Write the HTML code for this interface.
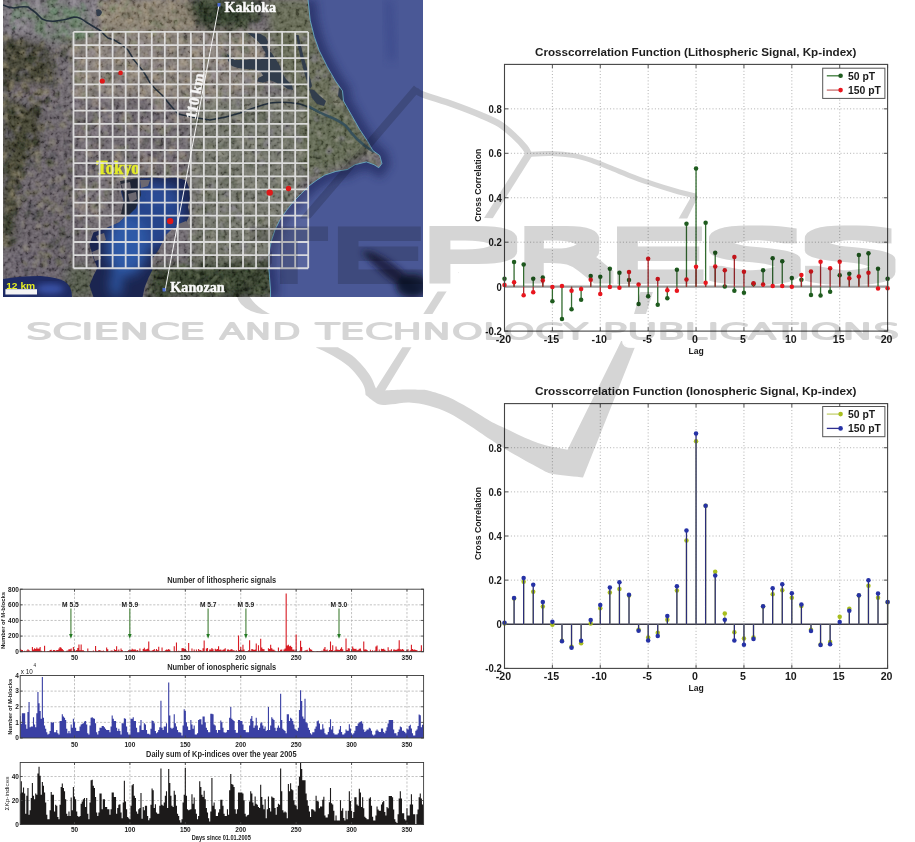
<!DOCTYPE html>
<html><head><meta charset="utf-8"><title>Figure</title>
<style>html,body{margin:0;padding:0;background:#fff;} body{width:915px;height:842px;overflow:hidden;} svg{display:block;will-change:transform;}</style>
</head><body>
<svg width="915" height="842" viewBox="0 0 915 842">
<defs>
<clipPath id="bayclip"><path d="M138.7,178.4 L152.5,177.4 L164.3,178.4 L176,177.4 L186,180.3 L188.9,187.2 L189.8,199 L187.9,206.9 L189.8,214.8 L186,222.6 L178,226.6 L170.2,230.5 L166.2,234.4 L162.3,242.3 L158.4,250.2 L152.5,258 L151.5,265.9 L152.5,269.8 L148.5,277.7 L144.6,287.5 L142.6,297 L93.4,297 L89.5,285.6 L93.4,275.7 L97.4,267.9 L93.4,258 L89.5,244.3 L93.4,232.5 L105.2,228.5 L119,222.6 L126.9,214.8 L124.9,204.9 L121,191.2 L126.9,182.3 Z"/></clipPath>
<clipPath id="mapclip"><rect x="3" y="0" width="420" height="296.6"/></clipPath>
<clipPath id="oceanclip"><path d="M308.1,0 L310.2,20.2 L314.2,36.4 L319.2,50.5 L327.3,66.7 L335.4,80.8 L342.5,90.9 L343.5,101 L351.6,115.2 L359.6,129.3 L367.7,141.4 L372.8,150.5 L379.8,155.6 L381.9,163.6 L378.8,167.7 L374,164.7 L366.4,161.9 L355,164.7 L347.4,169.5 L336,171.4 L324.6,175.2 L317,180 L309.4,185.6 L301.8,193.2 L294.2,200.8 L286.6,210.3 L280,219.8 L275.2,229.3 L271.4,240.7 L268.6,254 L268.6,265.4 L269.5,276.8 L270.5,290.1 L270.5,297 L424,297 L424,0 Z"/></clipPath>
<filter id="blur6" x="-10%" y="-10%" width="120%" height="120%"><feGaussianBlur stdDeviation="6"/></filter>
<filter id="blur5" x="-10%" y="-10%" width="120%" height="120%"><feGaussianBlur stdDeviation="4.5"/></filter>
<filter id="noise" x="0" y="0" width="100%" height="100%"><feTurbulence type="fractalNoise" baseFrequency="0.25" numOctaves="3" seed="4" result="n"/><feColorMatrix in="n" type="matrix" values="2.2 0 0 0 -0.6  2.2 0 0 0 -0.6  2.2 0 0 0 -0.6  0 0 0 0 1" result="m"/><feComposite in="m" in2="SourceGraphic" operator="in"/></filter>
<filter id="blur4" x="-20%" y="-20%" width="140%" height="140%"><feGaussianBlur stdDeviation="4"/></filter>
<filter id="blur3" x="-20%" y="-20%" width="140%" height="140%"><feGaussianBlur stdDeviation="3"/></filter>
<filter id="wmblur" x="-5%" y="-5%" width="110%" height="110%"><feGaussianBlur stdDeviation="0.55"/></filter>
<filter id="dil6" filterUnits="userSpaceOnUse" x="0" y="0" width="915" height="842"><feMorphology operator="dilate" radius="6"/></filter>
<filter id="dil14" filterUnits="userSpaceOnUse" x="0" y="0" width="915" height="842"><feMorphology operator="dilate" radius="13.5"/></filter>
<filter id="dil8" filterUnits="userSpaceOnUse" x="0" y="0" width="915" height="842"><feMorphology operator="dilate" radius="8.5"/></filter>
<filter id="blur1" x="-20%" y="-20%" width="140%" height="140%"><feGaussianBlur stdDeviation="0.8"/></filter>
<radialGradient id="baygrad" gradientUnits="userSpaceOnUse" cx="135" cy="240" r="55" fx="133" fy="245">
<stop offset="0" stop-color="#3868b4"/><stop offset="0.35" stop-color="#2d55a0"/><stop offset="0.75" stop-color="#1e2e64"/><stop offset="1" stop-color="#161f42"/></radialGradient>
</defs>
<rect width="915" height="842" fill="#fff"/>
<g clip-path="url(#mapclip)">
<rect x="3" y="0" width="421" height="297" fill="#666066"/>
<g filter="url(#blur5)">
<path d="M3,0 H105 L100,36 Q60,42 30,38 L3,36 Z" fill="#6f6a72"/>
<path d="M35,6 Q60,2 85,10 Q92,28 80,40 Q55,44 40,34 Q30,20 35,6 Z" fill="#627660" opacity="0.8"/>
<path d="M100,0 H200 L195,32 H100 Z" fill="#827868"/>
<path d="M3,36 Q30,36 48,50 Q58,70 52,88 Q35,84 20,86 Q8,90 3,96 Z" fill="#39392b"/>
<path d="M3,100 Q25,98 42,115 Q48,135 38,152 Q22,165 16,190 Q16,220 14,240 Q8,248 3,250 Z" fill="#3a3b2c"/>
<path d="M12,84 Q35,82 58,92 Q52,104 30,102 Q15,100 12,84 Z" fill="#6a6068"/>
<path d="M40,110 Q60,110 73,130 L73,275 L20,272 Q12,240 18,200 Q25,165 40,150 Z" fill="#5e585f"/>
<path d="M188,0 H262 Q262,16 248,26 Q222,34 200,28 Q188,14 188,0 Z" fill="#283021"/>
<path d="M266,0 H310 L318,50 L340,90 L352,112 L330,125 L300,100 L275,60 Z" fill="#5c604b"/>
<path d="M300,100 L352,112 L372,150 L340,166 L300,180 L280,150 Z" fill="#595f49"/>
<path d="M192,95 L300,95 L300,190 L280,240 L272,268 L192,268 Z" fill="#6a6c62"/>
<path d="M150,268 Q210,260 272,262 L272,297 L148,297 Z" fill="#2f3826"/>
<path d="M62,268 Q80,262 94,270 L94,297 L62,297 Z" fill="#4a5040"/>
<path d="M3,250 Q40,250 66,262 L72,282 L3,284 Z" fill="#5e5760" opacity="0.6"/>
<path d="M76,30 H262 V92 Q200,104 140,100 Q100,98 76,96 Z" fill="#7e766f"/>
</g>
<g filter="url(#blur1)">
<ellipse cx="88.7" cy="218.0" rx="4.2" ry="2.4" transform="rotate(89 88.7 218.0)" fill="#7d737d" opacity="0.6"/><ellipse cx="128.3" cy="150.7" rx="2.2" ry="3.2" transform="rotate(161 128.3 150.7)" fill="#7d737d" opacity="0.6"/><ellipse cx="73.2" cy="160.1" rx="4.0" ry="2.3" transform="rotate(170 73.2 160.1)" fill="#676a56" opacity="0.6"/><ellipse cx="76.6" cy="99.7" rx="3.4" ry="4.8" transform="rotate(69 76.6 99.7)" fill="#564f59" opacity="0.6"/><ellipse cx="182.9" cy="175.6" rx="2.7" ry="3.9" transform="rotate(137 182.9 175.6)" fill="#676a56" opacity="0.6"/><ellipse cx="181.4" cy="155.9" rx="4.7" ry="4.7" transform="rotate(18 181.4 155.9)" fill="#8e8274" opacity="0.6"/><ellipse cx="87.1" cy="143.9" rx="4.0" ry="4.0" transform="rotate(169 87.1 143.9)" fill="#7d737d" opacity="0.6"/><ellipse cx="95.2" cy="136.9" rx="4.9" ry="3.2" transform="rotate(169 95.2 136.9)" fill="#7d737d" opacity="0.6"/><ellipse cx="141.9" cy="101.0" rx="2.3" ry="4.3" transform="rotate(75 141.9 101.0)" fill="#564f59" opacity="0.6"/><ellipse cx="83.1" cy="191.6" rx="1.9" ry="2.1" transform="rotate(151 83.1 191.6)" fill="#676a56" opacity="0.6"/><ellipse cx="130.3" cy="100.3" rx="1.7" ry="4.0" transform="rotate(177 130.3 100.3)" fill="#52504f" opacity="0.6"/><ellipse cx="92.7" cy="128.7" rx="1.5" ry="2.2" transform="rotate(166 92.7 128.7)" fill="#52504f" opacity="0.6"/><ellipse cx="100.2" cy="170.0" rx="4.8" ry="3.5" transform="rotate(83 100.2 170.0)" fill="#676a56" opacity="0.6"/><ellipse cx="158.3" cy="151.3" rx="4.5" ry="4.8" transform="rotate(169 158.3 151.3)" fill="#52504f" opacity="0.6"/><ellipse cx="167.7" cy="170.7" rx="3.5" ry="3.0" transform="rotate(10 167.7 170.7)" fill="#676a56" opacity="0.6"/><ellipse cx="139.7" cy="124.8" rx="3.3" ry="3.2" transform="rotate(64 139.7 124.8)" fill="#676a56" opacity="0.6"/><ellipse cx="73.2" cy="173.8" rx="4.3" ry="2.7" transform="rotate(108 73.2 173.8)" fill="#564f59" opacity="0.6"/><ellipse cx="147.3" cy="175.3" rx="2.1" ry="1.8" transform="rotate(99 147.3 175.3)" fill="#676a56" opacity="0.6"/><ellipse cx="76.8" cy="231.9" rx="1.7" ry="4.5" transform="rotate(82 76.8 231.9)" fill="#676a56" opacity="0.6"/><ellipse cx="102.2" cy="111.8" rx="3.7" ry="2.7" transform="rotate(13 102.2 111.8)" fill="#564f59" opacity="0.6"/><ellipse cx="107.5" cy="197.2" rx="3.2" ry="1.9" transform="rotate(56 107.5 197.2)" fill="#676a56" opacity="0.6"/><ellipse cx="122.2" cy="123.1" rx="1.9" ry="4.6" transform="rotate(92 122.2 123.1)" fill="#564f59" opacity="0.6"/><ellipse cx="186.0" cy="158.2" rx="4.9" ry="2.3" transform="rotate(72 186.0 158.2)" fill="#857a73" opacity="0.6"/><ellipse cx="157.1" cy="119.1" rx="4.0" ry="3.9" transform="rotate(98 157.1 119.1)" fill="#564f59" opacity="0.6"/><ellipse cx="154.3" cy="160.9" rx="3.3" ry="1.6" transform="rotate(121 154.3 160.9)" fill="#676a56" opacity="0.6"/><ellipse cx="150.2" cy="157.4" rx="4.1" ry="1.9" transform="rotate(38 150.2 157.4)" fill="#857a73" opacity="0.6"/><ellipse cx="160.0" cy="155.9" rx="2.4" ry="1.5" transform="rotate(158 160.0 155.9)" fill="#857a73" opacity="0.6"/><ellipse cx="142.1" cy="127.3" rx="4.7" ry="3.1" transform="rotate(149 142.1 127.3)" fill="#8e8274" opacity="0.6"/><ellipse cx="145.9" cy="101.4" rx="2.2" ry="1.8" transform="rotate(103 145.9 101.4)" fill="#7d737d" opacity="0.6"/><ellipse cx="142.2" cy="166.9" rx="4.8" ry="2.9" transform="rotate(91 142.2 166.9)" fill="#857a73" opacity="0.6"/><ellipse cx="96.5" cy="143.2" rx="5.0" ry="4.2" transform="rotate(61 96.5 143.2)" fill="#564f59" opacity="0.6"/><ellipse cx="104.2" cy="109.9" rx="2.8" ry="3.4" transform="rotate(165 104.2 109.9)" fill="#8e8274" opacity="0.6"/><ellipse cx="135.3" cy="105.4" rx="1.6" ry="2.0" transform="rotate(30 135.3 105.4)" fill="#52504f" opacity="0.6"/><ellipse cx="97.9" cy="205.3" rx="3.6" ry="4.4" transform="rotate(66 97.9 205.3)" fill="#676a56" opacity="0.6"/><ellipse cx="86.3" cy="129.9" rx="4.8" ry="4.2" transform="rotate(129 86.3 129.9)" fill="#7d737d" opacity="0.6"/><ellipse cx="88.8" cy="175.4" rx="1.9" ry="1.6" transform="rotate(13 88.8 175.4)" fill="#564f59" opacity="0.6"/><ellipse cx="169.9" cy="145.1" rx="3.7" ry="4.2" transform="rotate(68 169.9 145.1)" fill="#52504f" opacity="0.6"/><ellipse cx="137.4" cy="177.5" rx="4.8" ry="2.8" transform="rotate(53 137.4 177.5)" fill="#52504f" opacity="0.6"/><ellipse cx="181.2" cy="161.9" rx="2.5" ry="4.3" transform="rotate(149 181.2 161.9)" fill="#857a73" opacity="0.6"/><ellipse cx="165.4" cy="123.1" rx="4.2" ry="3.6" transform="rotate(29 165.4 123.1)" fill="#7d737d" opacity="0.6"/><ellipse cx="92.6" cy="130.8" rx="4.1" ry="1.9" transform="rotate(164 92.6 130.8)" fill="#7d737d" opacity="0.6"/><ellipse cx="167.4" cy="174.2" rx="4.4" ry="3.4" transform="rotate(128 167.4 174.2)" fill="#676a56" opacity="0.6"/><ellipse cx="84.7" cy="189.9" rx="1.6" ry="1.5" transform="rotate(177 84.7 189.9)" fill="#676a56" opacity="0.6"/><ellipse cx="158.0" cy="142.1" rx="2.9" ry="2.9" transform="rotate(12 158.0 142.1)" fill="#676a56" opacity="0.6"/><ellipse cx="86.0" cy="127.0" rx="3.7" ry="4.9" transform="rotate(98 86.0 127.0)" fill="#8e8274" opacity="0.6"/><ellipse cx="127.9" cy="147.2" rx="2.1" ry="2.2" transform="rotate(36 127.9 147.2)" fill="#676a56" opacity="0.6"/><ellipse cx="82.5" cy="136.4" rx="4.9" ry="3.1" transform="rotate(117 82.5 136.4)" fill="#8e8274" opacity="0.6"/><ellipse cx="112.6" cy="128.7" rx="4.9" ry="1.6" transform="rotate(34 112.6 128.7)" fill="#52504f" opacity="0.6"/><ellipse cx="177.5" cy="139.6" rx="2.7" ry="3.4" transform="rotate(104 177.5 139.6)" fill="#52504f" opacity="0.6"/><ellipse cx="83.8" cy="127.7" rx="4.3" ry="2.9" transform="rotate(48 83.8 127.7)" fill="#857a73" opacity="0.6"/><ellipse cx="158.3" cy="99.1" rx="1.5" ry="4.1" transform="rotate(65 158.3 99.1)" fill="#7d737d" opacity="0.6"/><ellipse cx="173.9" cy="118.2" rx="3.3" ry="4.3" transform="rotate(14 173.9 118.2)" fill="#8e8274" opacity="0.6"/><ellipse cx="93.3" cy="207.8" rx="4.9" ry="4.4" transform="rotate(58 93.3 207.8)" fill="#857a73" opacity="0.6"/><ellipse cx="143.4" cy="114.2" rx="2.2" ry="3.4" transform="rotate(130 143.4 114.2)" fill="#676a56" opacity="0.6"/><ellipse cx="151.6" cy="175.6" rx="4.8" ry="5.0" transform="rotate(37 151.6 175.6)" fill="#676a56" opacity="0.6"/><ellipse cx="123.6" cy="118.7" rx="4.0" ry="3.8" transform="rotate(45 123.6 118.7)" fill="#857a73" opacity="0.6"/><ellipse cx="152.8" cy="160.3" rx="3.0" ry="2.4" transform="rotate(79 152.8 160.3)" fill="#52504f" opacity="0.6"/><ellipse cx="126.0" cy="153.0" rx="2.7" ry="2.4" transform="rotate(4 126.0 153.0)" fill="#8e8274" opacity="0.6"/><ellipse cx="75.2" cy="195.6" rx="3.5" ry="3.6" transform="rotate(25 75.2 195.6)" fill="#676a56" opacity="0.6"/><ellipse cx="119.5" cy="153.8" rx="3.6" ry="2.3" transform="rotate(1 119.5 153.8)" fill="#52504f" opacity="0.6"/><ellipse cx="147.8" cy="128.5" rx="2.6" ry="3.9" transform="rotate(172 147.8 128.5)" fill="#8e8274" opacity="0.6"/><ellipse cx="121.2" cy="176.7" rx="4.7" ry="4.7" transform="rotate(50 121.2 176.7)" fill="#8e8274" opacity="0.6"/><ellipse cx="116.1" cy="169.7" rx="4.3" ry="2.2" transform="rotate(54 116.1 169.7)" fill="#676a56" opacity="0.6"/><ellipse cx="172.3" cy="149.5" rx="4.0" ry="4.1" transform="rotate(107 172.3 149.5)" fill="#857a73" opacity="0.6"/><ellipse cx="139.8" cy="121.4" rx="2.4" ry="2.3" transform="rotate(103 139.8 121.4)" fill="#857a73" opacity="0.6"/><ellipse cx="130.9" cy="152.7" rx="3.7" ry="2.8" transform="rotate(152 130.9 152.7)" fill="#52504f" opacity="0.6"/><ellipse cx="158.4" cy="101.9" rx="4.9" ry="4.3" transform="rotate(113 158.4 101.9)" fill="#676a56" opacity="0.6"/><ellipse cx="159.2" cy="108.1" rx="4.9" ry="4.9" transform="rotate(111 159.2 108.1)" fill="#8e8274" opacity="0.6"/><ellipse cx="153.3" cy="107.8" rx="4.5" ry="2.3" transform="rotate(153 153.3 107.8)" fill="#7d737d" opacity="0.6"/><ellipse cx="130.1" cy="126.5" rx="3.0" ry="3.4" transform="rotate(164 130.1 126.5)" fill="#8e8274" opacity="0.6"/><ellipse cx="107.6" cy="131.7" rx="4.1" ry="1.5" transform="rotate(34 107.6 131.7)" fill="#7d737d" opacity="0.6"/><ellipse cx="140.8" cy="100.4" rx="4.9" ry="2.3" transform="rotate(47 140.8 100.4)" fill="#564f59" opacity="0.6"/><ellipse cx="106.3" cy="174.1" rx="2.5" ry="3.6" transform="rotate(45 106.3 174.1)" fill="#8e8274" opacity="0.6"/><ellipse cx="173.0" cy="120.2" rx="2.7" ry="3.0" transform="rotate(22 173.0 120.2)" fill="#564f59" opacity="0.6"/><ellipse cx="139.8" cy="151.2" rx="2.5" ry="1.9" transform="rotate(145 139.8 151.2)" fill="#857a73" opacity="0.6"/><ellipse cx="107.7" cy="193.0" rx="4.0" ry="3.8" transform="rotate(14 107.7 193.0)" fill="#676a56" opacity="0.6"/><ellipse cx="140.0" cy="140.8" rx="3.3" ry="2.7" transform="rotate(95 140.0 140.8)" fill="#857a73" opacity="0.6"/><ellipse cx="87.5" cy="199.4" rx="2.7" ry="3.4" transform="rotate(61 87.5 199.4)" fill="#8e8274" opacity="0.6"/><ellipse cx="153.0" cy="166.9" rx="3.8" ry="2.8" transform="rotate(37 153.0 166.9)" fill="#857a73" opacity="0.6"/><ellipse cx="158.2" cy="124.6" rx="4.7" ry="3.6" transform="rotate(93 158.2 124.6)" fill="#8e8274" opacity="0.6"/><ellipse cx="155.2" cy="160.7" rx="3.8" ry="2.2" transform="rotate(95 155.2 160.7)" fill="#8e8274" opacity="0.6"/><ellipse cx="118.5" cy="157.3" rx="2.9" ry="4.5" transform="rotate(105 118.5 157.3)" fill="#8e8274" opacity="0.6"/><ellipse cx="107.0" cy="99.0" rx="4.0" ry="2.0" transform="rotate(140 107.0 99.0)" fill="#7d737d" opacity="0.6"/><ellipse cx="143.8" cy="146.3" rx="2.4" ry="4.0" transform="rotate(157 143.8 146.3)" fill="#52504f" opacity="0.6"/><ellipse cx="108.5" cy="162.5" rx="2.4" ry="2.1" transform="rotate(92 108.5 162.5)" fill="#676a56" opacity="0.6"/><ellipse cx="122.4" cy="147.1" rx="3.8" ry="1.6" transform="rotate(91 122.4 147.1)" fill="#564f59" opacity="0.6"/><ellipse cx="153.8" cy="153.9" rx="3.9" ry="3.6" transform="rotate(38 153.8 153.9)" fill="#564f59" opacity="0.6"/><ellipse cx="100.8" cy="144.1" rx="1.7" ry="3.9" transform="rotate(164 100.8 144.1)" fill="#8e8274" opacity="0.6"/><ellipse cx="116.1" cy="169.7" rx="4.1" ry="2.1" transform="rotate(118 116.1 169.7)" fill="#8e8274" opacity="0.6"/><ellipse cx="118.9" cy="153.6" rx="3.2" ry="2.4" transform="rotate(110 118.9 153.6)" fill="#8e8274" opacity="0.6"/><ellipse cx="76.6" cy="225.5" rx="3.7" ry="2.6" transform="rotate(78 76.6 225.5)" fill="#564f59" opacity="0.6"/><ellipse cx="164.9" cy="123.3" rx="3.7" ry="2.1" transform="rotate(175 164.9 123.3)" fill="#7d737d" opacity="0.6"/><ellipse cx="126.7" cy="119.4" rx="4.2" ry="4.6" transform="rotate(79 126.7 119.4)" fill="#676a56" opacity="0.6"/><ellipse cx="160.9" cy="130.6" rx="4.0" ry="4.0" transform="rotate(55 160.9 130.6)" fill="#857a73" opacity="0.6"/><ellipse cx="99.6" cy="142.3" rx="4.8" ry="4.8" transform="rotate(8 99.6 142.3)" fill="#52504f" opacity="0.6"/><ellipse cx="75.7" cy="204.3" rx="3.9" ry="3.2" transform="rotate(95 75.7 204.3)" fill="#8e8274" opacity="0.6"/><ellipse cx="86.8" cy="195.7" rx="1.8" ry="2.9" transform="rotate(89 86.8 195.7)" fill="#7d737d" opacity="0.6"/><ellipse cx="100.6" cy="136.8" rx="3.4" ry="2.9" transform="rotate(81 100.6 136.8)" fill="#676a56" opacity="0.6"/><ellipse cx="111.6" cy="181.5" rx="4.7" ry="5.0" transform="rotate(8 111.6 181.5)" fill="#857a73" opacity="0.6"/><ellipse cx="173.3" cy="142.0" rx="2.8" ry="3.5" transform="rotate(165 173.3 142.0)" fill="#7d737d" opacity="0.6"/><ellipse cx="91.7" cy="214.7" rx="3.8" ry="4.3" transform="rotate(5 91.7 214.7)" fill="#7d737d" opacity="0.6"/><ellipse cx="90.0" cy="191.7" rx="1.7" ry="2.8" transform="rotate(23 90.0 191.7)" fill="#7d737d" opacity="0.6"/><ellipse cx="149.3" cy="139.7" rx="1.6" ry="3.4" transform="rotate(94 149.3 139.7)" fill="#564f59" opacity="0.6"/><ellipse cx="78.0" cy="135.4" rx="1.9" ry="1.8" transform="rotate(5 78.0 135.4)" fill="#8e8274" opacity="0.6"/><ellipse cx="88.2" cy="136.2" rx="4.4" ry="2.2" transform="rotate(81 88.2 136.2)" fill="#676a56" opacity="0.6"/><ellipse cx="148.1" cy="131.0" rx="1.7" ry="4.8" transform="rotate(106 148.1 131.0)" fill="#676a56" opacity="0.6"/><ellipse cx="178.9" cy="174.8" rx="3.4" ry="4.0" transform="rotate(97 178.9 174.8)" fill="#8e8274" opacity="0.6"/><ellipse cx="81.2" cy="134.5" rx="3.6" ry="4.9" transform="rotate(13 81.2 134.5)" fill="#564f59" opacity="0.6"/><ellipse cx="187.2" cy="117.7" rx="4.7" ry="4.5" transform="rotate(153 187.2 117.7)" fill="#857a73" opacity="0.6"/><ellipse cx="133.0" cy="168.2" rx="1.8" ry="2.6" transform="rotate(23 133.0 168.2)" fill="#857a73" opacity="0.6"/><ellipse cx="124.9" cy="114.5" rx="2.9" ry="4.0" transform="rotate(159 124.9 114.5)" fill="#857a73" opacity="0.6"/><ellipse cx="159.2" cy="134.9" rx="2.4" ry="2.6" transform="rotate(54 159.2 134.9)" fill="#7d737d" opacity="0.6"/><ellipse cx="79.8" cy="133.6" rx="4.1" ry="2.4" transform="rotate(68 79.8 133.6)" fill="#857a73" opacity="0.6"/><ellipse cx="173.1" cy="139.7" rx="3.0" ry="2.4" transform="rotate(100 173.1 139.7)" fill="#676a56" opacity="0.6"/><ellipse cx="181.0" cy="169.3" rx="2.9" ry="4.6" transform="rotate(87 181.0 169.3)" fill="#564f59" opacity="0.6"/><ellipse cx="149.4" cy="160.6" rx="5.0" ry="4.0" transform="rotate(150 149.4 160.6)" fill="#8e8274" opacity="0.6"/><ellipse cx="133.8" cy="100.4" rx="4.9" ry="5.0" transform="rotate(134 133.8 100.4)" fill="#564f59" opacity="0.6"/><ellipse cx="116.3" cy="171.0" rx="1.8" ry="2.7" transform="rotate(103 116.3 171.0)" fill="#857a73" opacity="0.6"/><ellipse cx="135.4" cy="156.1" rx="2.6" ry="2.5" transform="rotate(135 135.4 156.1)" fill="#52504f" opacity="0.6"/><ellipse cx="131.6" cy="171.8" rx="2.0" ry="4.7" transform="rotate(59 131.6 171.8)" fill="#676a56" opacity="0.6"/><ellipse cx="140.1" cy="161.1" rx="2.5" ry="3.1" transform="rotate(66 140.1 161.1)" fill="#8e8274" opacity="0.6"/><ellipse cx="166.8" cy="115.4" rx="3.3" ry="3.5" transform="rotate(179 166.8 115.4)" fill="#564f59" opacity="0.6"/><ellipse cx="148.3" cy="154.0" rx="3.1" ry="4.9" transform="rotate(96 148.3 154.0)" fill="#564f59" opacity="0.6"/><ellipse cx="76.4" cy="132.0" rx="2.3" ry="2.0" transform="rotate(20 76.4 132.0)" fill="#7d737d" opacity="0.6"/><ellipse cx="96.9" cy="105.6" rx="3.5" ry="3.7" transform="rotate(154 96.9 105.6)" fill="#564f59" opacity="0.6"/><ellipse cx="148.3" cy="121.0" rx="4.5" ry="1.6" transform="rotate(66 148.3 121.0)" fill="#7d737d" opacity="0.6"/><ellipse cx="156.1" cy="136.9" rx="4.6" ry="3.6" transform="rotate(156 156.1 136.9)" fill="#564f59" opacity="0.6"/><ellipse cx="103.0" cy="125.0" rx="4.1" ry="4.2" transform="rotate(93 103.0 125.0)" fill="#7d737d" opacity="0.6"/><ellipse cx="81.9" cy="184.7" rx="3.3" ry="3.5" transform="rotate(77 81.9 184.7)" fill="#676a56" opacity="0.6"/><ellipse cx="172.6" cy="162.0" rx="2.2" ry="2.5" transform="rotate(124 172.6 162.0)" fill="#857a73" opacity="0.6"/><ellipse cx="106.1" cy="155.2" rx="4.8" ry="4.7" transform="rotate(93 106.1 155.2)" fill="#52504f" opacity="0.6"/><ellipse cx="146.7" cy="140.3" rx="2.6" ry="3.3" transform="rotate(106 146.7 140.3)" fill="#52504f" opacity="0.6"/><ellipse cx="102.6" cy="97.4" rx="3.0" ry="3.8" transform="rotate(7 102.6 97.4)" fill="#7d737d" opacity="0.6"/><ellipse cx="172.0" cy="151.2" rx="3.1" ry="4.3" transform="rotate(67 172.0 151.2)" fill="#8e8274" opacity="0.6"/><ellipse cx="129.6" cy="116.8" rx="2.0" ry="5.0" transform="rotate(147 129.6 116.8)" fill="#676a56" opacity="0.6"/><ellipse cx="103.2" cy="170.0" rx="4.1" ry="3.9" transform="rotate(78 103.2 170.0)" fill="#7d737d" opacity="0.6"/><ellipse cx="98.2" cy="215.5" rx="4.8" ry="2.9" transform="rotate(77 98.2 215.5)" fill="#857a73" opacity="0.6"/><ellipse cx="99.8" cy="99.8" rx="2.4" ry="3.2" transform="rotate(171 99.8 99.8)" fill="#7d737d" opacity="0.6"/><ellipse cx="149.0" cy="123.0" rx="1.5" ry="3.0" transform="rotate(172 149.0 123.0)" fill="#857a73" opacity="0.6"/><ellipse cx="137.3" cy="173.0" rx="2.7" ry="4.8" transform="rotate(175 137.3 173.0)" fill="#857a73" opacity="0.6"/><ellipse cx="93.9" cy="211.9" rx="4.0" ry="1.7" transform="rotate(39 93.9 211.9)" fill="#8e8274" opacity="0.6"/><ellipse cx="83.2" cy="152.1" rx="3.8" ry="2.5" transform="rotate(91 83.2 152.1)" fill="#7d737d" opacity="0.6"/><ellipse cx="86.6" cy="219.0" rx="1.9" ry="2.9" transform="rotate(163 86.6 219.0)" fill="#564f59" opacity="0.6"/><ellipse cx="92.6" cy="133.1" rx="4.1" ry="4.8" transform="rotate(97 92.6 133.1)" fill="#7d737d" opacity="0.6"/><ellipse cx="85.0" cy="205.1" rx="4.1" ry="2.7" transform="rotate(159 85.0 205.1)" fill="#8e8274" opacity="0.6"/><ellipse cx="104.3" cy="173.8" rx="3.0" ry="4.2" transform="rotate(152 104.3 173.8)" fill="#564f59" opacity="0.6"/><ellipse cx="132.4" cy="134.9" rx="2.4" ry="2.0" transform="rotate(46 132.4 134.9)" fill="#7d737d" opacity="0.6"/><ellipse cx="185.3" cy="172.7" rx="3.6" ry="2.0" transform="rotate(74 185.3 172.7)" fill="#676a56" opacity="0.6"/><ellipse cx="129.2" cy="140.0" rx="3.2" ry="3.2" transform="rotate(108 129.2 140.0)" fill="#564f59" opacity="0.6"/><ellipse cx="112.6" cy="183.2" rx="2.1" ry="4.6" transform="rotate(125 112.6 183.2)" fill="#52504f" opacity="0.6"/><ellipse cx="90.5" cy="168.6" rx="3.3" ry="2.0" transform="rotate(137 90.5 168.6)" fill="#564f59" opacity="0.6"/><ellipse cx="109.9" cy="167.1" rx="2.7" ry="1.9" transform="rotate(25 109.9 167.1)" fill="#676a56" opacity="0.6"/><ellipse cx="99.3" cy="187.5" rx="4.4" ry="1.7" transform="rotate(31 99.3 187.5)" fill="#857a73" opacity="0.6"/><ellipse cx="99.5" cy="124.7" rx="3.5" ry="4.6" transform="rotate(76 99.5 124.7)" fill="#857a73" opacity="0.6"/><ellipse cx="169.2" cy="127.7" rx="4.1" ry="2.5" transform="rotate(113 169.2 127.7)" fill="#676a56" opacity="0.6"/><ellipse cx="104.5" cy="199.5" rx="2.8" ry="1.9" transform="rotate(62 104.5 199.5)" fill="#857a73" opacity="0.6"/><ellipse cx="102.3" cy="206.9" rx="3.9" ry="1.6" transform="rotate(14 102.3 206.9)" fill="#8e8274" opacity="0.6"/><ellipse cx="189.9" cy="139.2" rx="2.4" ry="3.4" transform="rotate(65 189.9 139.2)" fill="#857a73" opacity="0.6"/><ellipse cx="89.3" cy="153.5" rx="4.8" ry="3.7" transform="rotate(44 89.3 153.5)" fill="#8e8274" opacity="0.6"/><ellipse cx="86.1" cy="229.0" rx="4.3" ry="4.0" transform="rotate(23 86.1 229.0)" fill="#676a56" opacity="0.6"/><ellipse cx="145.6" cy="172.0" rx="3.5" ry="3.4" transform="rotate(71 145.6 172.0)" fill="#564f59" opacity="0.6"/><ellipse cx="147.0" cy="175.1" rx="1.7" ry="3.3" transform="rotate(32 147.0 175.1)" fill="#564f59" opacity="0.6"/><ellipse cx="178.0" cy="135.5" rx="1.6" ry="3.4" transform="rotate(170 178.0 135.5)" fill="#676a56" opacity="0.6"/><ellipse cx="128.4" cy="154.1" rx="1.9" ry="2.8" transform="rotate(118 128.4 154.1)" fill="#52504f" opacity="0.6"/><ellipse cx="115.5" cy="176.0" rx="4.3" ry="3.3" transform="rotate(105 115.5 176.0)" fill="#52504f" opacity="0.6"/><ellipse cx="109.1" cy="194.3" rx="2.0" ry="4.7" transform="rotate(26 109.1 194.3)" fill="#564f59" opacity="0.6"/><ellipse cx="162.8" cy="148.6" rx="2.5" ry="2.0" transform="rotate(143 162.8 148.6)" fill="#7d737d" opacity="0.6"/><ellipse cx="90.0" cy="138.5" rx="3.9" ry="3.7" transform="rotate(172 90.0 138.5)" fill="#52504f" opacity="0.6"/><ellipse cx="148.2" cy="150.6" rx="3.5" ry="4.6" transform="rotate(83 148.2 150.6)" fill="#7d737d" opacity="0.6"/><ellipse cx="143.0" cy="156.8" rx="4.8" ry="2.9" transform="rotate(109 143.0 156.8)" fill="#857a73" opacity="0.6"/><ellipse cx="84.6" cy="208.2" rx="3.8" ry="3.9" transform="rotate(146 84.6 208.2)" fill="#857a73" opacity="0.6"/><ellipse cx="141.7" cy="172.4" rx="4.2" ry="3.4" transform="rotate(141 141.7 172.4)" fill="#52504f" opacity="0.6"/><ellipse cx="101.1" cy="177.0" rx="2.8" ry="2.1" transform="rotate(140 101.1 177.0)" fill="#8e8274" opacity="0.6"/><ellipse cx="79.5" cy="158.6" rx="2.8" ry="2.5" transform="rotate(147 79.5 158.6)" fill="#7d737d" opacity="0.6"/><ellipse cx="166.4" cy="130.3" rx="3.6" ry="2.0" transform="rotate(61 166.4 130.3)" fill="#857a73" opacity="0.6"/><ellipse cx="177.3" cy="120.8" rx="3.7" ry="3.2" transform="rotate(61 177.3 120.8)" fill="#8e8274" opacity="0.6"/><ellipse cx="87.2" cy="179.9" rx="3.2" ry="2.2" transform="rotate(114 87.2 179.9)" fill="#564f59" opacity="0.6"/><ellipse cx="119.5" cy="128.8" rx="2.4" ry="4.9" transform="rotate(59 119.5 128.8)" fill="#564f59" opacity="0.6"/><ellipse cx="164.8" cy="162.4" rx="3.1" ry="3.2" transform="rotate(139 164.8 162.4)" fill="#8e8274" opacity="0.6"/><ellipse cx="182.6" cy="158.2" rx="2.9" ry="1.9" transform="rotate(88 182.6 158.2)" fill="#676a56" opacity="0.6"/><ellipse cx="171.3" cy="117.6" rx="2.8" ry="1.9" transform="rotate(5 171.3 117.6)" fill="#857a73" opacity="0.6"/><ellipse cx="183.1" cy="162.1" rx="2.8" ry="3.3" transform="rotate(147 183.1 162.1)" fill="#564f59" opacity="0.6"/><ellipse cx="91.1" cy="171.5" rx="1.9" ry="2.4" transform="rotate(84 91.1 171.5)" fill="#8e8274" opacity="0.6"/><ellipse cx="99.7" cy="196.2" rx="5.0" ry="3.4" transform="rotate(45 99.7 196.2)" fill="#7d737d" opacity="0.6"/><ellipse cx="113.1" cy="130.4" rx="4.2" ry="4.8" transform="rotate(173 113.1 130.4)" fill="#564f59" opacity="0.6"/><ellipse cx="117.0" cy="99.1" rx="2.3" ry="2.3" transform="rotate(7 117.0 99.1)" fill="#52504f" opacity="0.6"/><ellipse cx="135.8" cy="131.7" rx="4.2" ry="1.9" transform="rotate(116 135.8 131.7)" fill="#7d737d" opacity="0.6"/><ellipse cx="83.5" cy="109.6" rx="4.4" ry="1.7" transform="rotate(93 83.5 109.6)" fill="#857a73" opacity="0.6"/><ellipse cx="75.4" cy="219.7" rx="3.1" ry="4.0" transform="rotate(30 75.4 219.7)" fill="#564f59" opacity="0.6"/><ellipse cx="110.2" cy="173.0" rx="3.1" ry="3.3" transform="rotate(75 110.2 173.0)" fill="#564f59" opacity="0.6"/><ellipse cx="167.6" cy="167.3" rx="2.5" ry="4.7" transform="rotate(47 167.6 167.3)" fill="#676a56" opacity="0.6"/><ellipse cx="112.3" cy="116.6" rx="2.4" ry="2.7" transform="rotate(50 112.3 116.6)" fill="#7d737d" opacity="0.6"/><ellipse cx="74.6" cy="233.4" rx="4.9" ry="2.3" transform="rotate(13 74.6 233.4)" fill="#52504f" opacity="0.6"/><ellipse cx="135.9" cy="124.6" rx="3.0" ry="4.6" transform="rotate(104 135.9 124.6)" fill="#52504f" opacity="0.6"/><ellipse cx="82.7" cy="230.6" rx="2.0" ry="3.8" transform="rotate(5 82.7 230.6)" fill="#7d737d" opacity="0.6"/><ellipse cx="142.1" cy="114.6" rx="3.4" ry="1.8" transform="rotate(43 142.1 114.6)" fill="#7d737d" opacity="0.6"/><ellipse cx="89.3" cy="125.1" rx="4.0" ry="2.9" transform="rotate(135 89.3 125.1)" fill="#564f59" opacity="0.6"/><ellipse cx="99.3" cy="198.1" rx="2.7" ry="3.4" transform="rotate(16 99.3 198.1)" fill="#676a56" opacity="0.6"/><ellipse cx="97.4" cy="162.7" rx="2.5" ry="4.3" transform="rotate(107 97.4 162.7)" fill="#52504f" opacity="0.6"/><ellipse cx="116.6" cy="159.9" rx="3.7" ry="1.7" transform="rotate(141 116.6 159.9)" fill="#564f59" opacity="0.6"/><ellipse cx="146.6" cy="110.9" rx="4.5" ry="3.7" transform="rotate(44 146.6 110.9)" fill="#564f59" opacity="0.6"/><ellipse cx="132.0" cy="153.1" rx="4.7" ry="4.9" transform="rotate(38 132.0 153.1)" fill="#7d737d" opacity="0.6"/><ellipse cx="150.3" cy="170.5" rx="4.3" ry="3.5" transform="rotate(131 150.3 170.5)" fill="#8e8274" opacity="0.6"/><ellipse cx="87.1" cy="125.0" rx="4.2" ry="2.8" transform="rotate(87 87.1 125.0)" fill="#52504f" opacity="0.6"/><ellipse cx="100.0" cy="101.4" rx="2.1" ry="3.8" transform="rotate(100 100.0 101.4)" fill="#564f59" opacity="0.6"/><ellipse cx="163.0" cy="156.7" rx="2.5" ry="1.8" transform="rotate(150 163.0 156.7)" fill="#564f59" opacity="0.6"/><ellipse cx="94.8" cy="98.3" rx="4.1" ry="3.2" transform="rotate(71 94.8 98.3)" fill="#8e8274" opacity="0.6"/><ellipse cx="179.2" cy="109.5" rx="3.9" ry="1.6" transform="rotate(76 179.2 109.5)" fill="#7d737d" opacity="0.6"/><ellipse cx="95.1" cy="120.9" rx="3.3" ry="4.5" transform="rotate(69 95.1 120.9)" fill="#676a56" opacity="0.6"/><ellipse cx="96.1" cy="147.8" rx="4.6" ry="4.9" transform="rotate(140 96.1 147.8)" fill="#857a73" opacity="0.6"/><ellipse cx="112.9" cy="103.5" rx="1.7" ry="3.6" transform="rotate(160 112.9 103.5)" fill="#676a56" opacity="0.6"/><ellipse cx="80.6" cy="220.7" rx="3.5" ry="1.8" transform="rotate(72 80.6 220.7)" fill="#52504f" opacity="0.6"/><ellipse cx="128.8" cy="157.5" rx="3.6" ry="2.6" transform="rotate(27 128.8 157.5)" fill="#52504f" opacity="0.6"/><ellipse cx="80.7" cy="183.4" rx="4.3" ry="2.8" transform="rotate(70 80.7 183.4)" fill="#52504f" opacity="0.6"/><ellipse cx="86.3" cy="178.6" rx="1.6" ry="4.7" transform="rotate(61 86.3 178.6)" fill="#676a56" opacity="0.6"/><ellipse cx="160.8" cy="101.0" rx="2.8" ry="1.8" transform="rotate(161 160.8 101.0)" fill="#857a73" opacity="0.6"/><ellipse cx="172.1" cy="160.3" rx="3.3" ry="4.3" transform="rotate(1 172.1 160.3)" fill="#564f59" opacity="0.6"/><ellipse cx="179.5" cy="148.0" rx="2.0" ry="3.5" transform="rotate(106 179.5 148.0)" fill="#7d737d" opacity="0.6"/><ellipse cx="110.1" cy="169.2" rx="4.4" ry="5.0" transform="rotate(153 110.1 169.2)" fill="#52504f" opacity="0.6"/><ellipse cx="162.8" cy="131.5" rx="4.3" ry="4.1" transform="rotate(71 162.8 131.5)" fill="#676a56" opacity="0.6"/><ellipse cx="81.8" cy="120.5" rx="4.8" ry="2.4" transform="rotate(15 81.8 120.5)" fill="#676a56" opacity="0.6"/><ellipse cx="100.5" cy="110.2" rx="4.0" ry="1.7" transform="rotate(92 100.5 110.2)" fill="#564f59" opacity="0.6"/><ellipse cx="169.2" cy="106.8" rx="2.6" ry="4.7" transform="rotate(155 169.2 106.8)" fill="#564f59" opacity="0.6"/><ellipse cx="77.1" cy="213.2" rx="4.3" ry="1.6" transform="rotate(178 77.1 213.2)" fill="#7d737d" opacity="0.6"/><ellipse cx="77.8" cy="180.7" rx="3.8" ry="4.6" transform="rotate(76 77.8 180.7)" fill="#564f59" opacity="0.6"/><ellipse cx="100.2" cy="180.6" rx="4.9" ry="3.3" transform="rotate(130 100.2 180.6)" fill="#7d737d" opacity="0.6"/><ellipse cx="96.0" cy="104.0" rx="4.9" ry="2.7" transform="rotate(174 96.0 104.0)" fill="#8e8274" opacity="0.6"/><ellipse cx="130.2" cy="119.7" rx="4.6" ry="1.6" transform="rotate(41 130.2 119.7)" fill="#857a73" opacity="0.6"/><ellipse cx="134.3" cy="121.0" rx="4.8" ry="2.2" transform="rotate(80 134.3 121.0)" fill="#564f59" opacity="0.6"/><ellipse cx="130.4" cy="149.5" rx="2.9" ry="3.8" transform="rotate(35 130.4 149.5)" fill="#564f59" opacity="0.6"/><ellipse cx="94.9" cy="185.7" rx="4.8" ry="3.5" transform="rotate(110 94.9 185.7)" fill="#676a56" opacity="0.6"/><ellipse cx="75.7" cy="99.0" rx="1.9" ry="3.7" transform="rotate(120 75.7 99.0)" fill="#7d737d" opacity="0.6"/><ellipse cx="112.7" cy="189.2" rx="2.2" ry="3.3" transform="rotate(89 112.7 189.2)" fill="#52504f" opacity="0.6"/><ellipse cx="138.9" cy="175.3" rx="3.3" ry="3.2" transform="rotate(122 138.9 175.3)" fill="#52504f" opacity="0.6"/><ellipse cx="143.6" cy="119.8" rx="2.4" ry="4.4" transform="rotate(54 143.6 119.8)" fill="#7d737d" opacity="0.6"/><ellipse cx="144.1" cy="133.3" rx="2.6" ry="3.6" transform="rotate(8 144.1 133.3)" fill="#7d737d" opacity="0.6"/><ellipse cx="126.5" cy="147.2" rx="3.3" ry="2.2" transform="rotate(86 126.5 147.2)" fill="#676a56" opacity="0.6"/><ellipse cx="117.9" cy="159.0" rx="3.7" ry="2.7" transform="rotate(141 117.9 159.0)" fill="#857a73" opacity="0.6"/><ellipse cx="102.9" cy="173.9" rx="1.7" ry="2.8" transform="rotate(58 102.9 173.9)" fill="#676a56" opacity="0.6"/><ellipse cx="174.8" cy="126.0" rx="1.8" ry="1.9" transform="rotate(178 174.8 126.0)" fill="#8e8274" opacity="0.6"/><ellipse cx="80.8" cy="208.5" rx="2.5" ry="2.9" transform="rotate(61 80.8 208.5)" fill="#857a73" opacity="0.6"/><ellipse cx="94.4" cy="206.3" rx="3.3" ry="3.5" transform="rotate(66 94.4 206.3)" fill="#676a56" opacity="0.6"/><ellipse cx="120.7" cy="129.4" rx="1.6" ry="2.3" transform="rotate(40 120.7 129.4)" fill="#8e8274" opacity="0.6"/><ellipse cx="119.2" cy="126.3" rx="2.0" ry="5.0" transform="rotate(134 119.2 126.3)" fill="#676a56" opacity="0.6"/><ellipse cx="73.2" cy="197.4" rx="2.6" ry="3.2" transform="rotate(122 73.2 197.4)" fill="#857a73" opacity="0.6"/><ellipse cx="189.1" cy="158.9" rx="2.7" ry="4.3" transform="rotate(88 189.1 158.9)" fill="#52504f" opacity="0.6"/><ellipse cx="86.0" cy="189.0" rx="4.3" ry="3.8" transform="rotate(77 86.0 189.0)" fill="#676a56" opacity="0.6"/><ellipse cx="86.5" cy="127.8" rx="3.6" ry="3.8" transform="rotate(175 86.5 127.8)" fill="#676a56" opacity="0.6"/><ellipse cx="79.3" cy="182.0" rx="3.3" ry="2.1" transform="rotate(53 79.3 182.0)" fill="#857a73" opacity="0.6"/><ellipse cx="187.5" cy="105.8" rx="1.5" ry="1.7" transform="rotate(132 187.5 105.8)" fill="#857a73" opacity="0.6"/><ellipse cx="80.7" cy="97.3" rx="3.4" ry="2.7" transform="rotate(3 80.7 97.3)" fill="#857a73" opacity="0.6"/><ellipse cx="138.4" cy="163.5" rx="2.4" ry="3.5" transform="rotate(94 138.4 163.5)" fill="#564f59" opacity="0.6"/><ellipse cx="94.4" cy="152.4" rx="1.7" ry="4.9" transform="rotate(126 94.4 152.4)" fill="#857a73" opacity="0.6"/><ellipse cx="111.8" cy="154.6" rx="1.6" ry="2.1" transform="rotate(115 111.8 154.6)" fill="#564f59" opacity="0.6"/><ellipse cx="98.5" cy="121.4" rx="4.7" ry="1.8" transform="rotate(143 98.5 121.4)" fill="#8e8274" opacity="0.6"/><ellipse cx="90.1" cy="215.9" rx="2.0" ry="1.7" transform="rotate(52 90.1 215.9)" fill="#676a56" opacity="0.6"/><ellipse cx="79.8" cy="108.9" rx="2.2" ry="2.3" transform="rotate(33 79.8 108.9)" fill="#857a73" opacity="0.6"/><ellipse cx="96.7" cy="203.4" rx="1.9" ry="4.8" transform="rotate(146 96.7 203.4)" fill="#564f59" opacity="0.6"/><ellipse cx="162.5" cy="142.9" rx="2.8" ry="4.2" transform="rotate(166 162.5 142.9)" fill="#52504f" opacity="0.6"/><ellipse cx="83.5" cy="230.2" rx="4.4" ry="3.2" transform="rotate(62 83.5 230.2)" fill="#564f59" opacity="0.6"/><ellipse cx="143.8" cy="112.4" rx="1.8" ry="4.3" transform="rotate(159 143.8 112.4)" fill="#52504f" opacity="0.6"/><ellipse cx="120.9" cy="148.5" rx="2.6" ry="4.9" transform="rotate(92 120.9 148.5)" fill="#676a56" opacity="0.6"/><ellipse cx="87.9" cy="120.2" rx="3.5" ry="4.6" transform="rotate(128 87.9 120.2)" fill="#564f59" opacity="0.6"/><ellipse cx="92.5" cy="188.9" rx="2.0" ry="2.1" transform="rotate(146 92.5 188.9)" fill="#676a56" opacity="0.6"/><ellipse cx="100.5" cy="188.9" rx="2.1" ry="4.5" transform="rotate(56 100.5 188.9)" fill="#7d737d" opacity="0.6"/><ellipse cx="91.0" cy="146.9" rx="3.1" ry="1.9" transform="rotate(28 91.0 146.9)" fill="#676a56" opacity="0.6"/><ellipse cx="81.1" cy="122.9" rx="3.4" ry="4.9" transform="rotate(131 81.1 122.9)" fill="#564f59" opacity="0.6"/><ellipse cx="94.6" cy="150.1" rx="4.9" ry="4.6" transform="rotate(128 94.6 150.1)" fill="#564f59" opacity="0.6"/><ellipse cx="80.3" cy="216.6" rx="2.6" ry="3.5" transform="rotate(44 80.3 216.6)" fill="#857a73" opacity="0.6"/><ellipse cx="100.1" cy="137.8" rx="3.5" ry="2.2" transform="rotate(176 100.1 137.8)" fill="#564f59" opacity="0.6"/><ellipse cx="89.5" cy="128.8" rx="2.6" ry="3.3" transform="rotate(162 89.5 128.8)" fill="#52504f" opacity="0.6"/><ellipse cx="124.4" cy="169.7" rx="2.1" ry="4.5" transform="rotate(35 124.4 169.7)" fill="#857a73" opacity="0.6"/><ellipse cx="105.4" cy="129.0" rx="2.0" ry="4.2" transform="rotate(4 105.4 129.0)" fill="#7d737d" opacity="0.6"/><ellipse cx="115.5" cy="103.1" rx="2.8" ry="3.6" transform="rotate(122 115.5 103.1)" fill="#564f59" opacity="0.6"/><ellipse cx="83.2" cy="188.7" rx="2.2" ry="2.7" transform="rotate(104 83.2 188.7)" fill="#8e8274" opacity="0.6"/><ellipse cx="172.8" cy="168.0" rx="2.7" ry="3.2" transform="rotate(92 172.8 168.0)" fill="#8e8274" opacity="0.6"/><ellipse cx="129.3" cy="155.8" rx="1.8" ry="1.7" transform="rotate(119 129.3 155.8)" fill="#676a56" opacity="0.6"/><ellipse cx="75.2" cy="122.0" rx="2.6" ry="2.6" transform="rotate(150 75.2 122.0)" fill="#676a56" opacity="0.6"/><ellipse cx="121.7" cy="97.7" rx="2.1" ry="2.5" transform="rotate(21 121.7 97.7)" fill="#7d737d" opacity="0.6"/><ellipse cx="181.5" cy="127.3" rx="2.7" ry="3.8" transform="rotate(102 181.5 127.3)" fill="#52504f" opacity="0.6"/><ellipse cx="105.9" cy="132.9" rx="2.1" ry="2.0" transform="rotate(17 105.9 132.9)" fill="#676a56" opacity="0.6"/><ellipse cx="175.3" cy="153.0" rx="3.1" ry="4.4" transform="rotate(175 175.3 153.0)" fill="#564f59" opacity="0.6"/><ellipse cx="77.4" cy="188.1" rx="1.8" ry="1.7" transform="rotate(93 77.4 188.1)" fill="#7d737d" opacity="0.6"/><ellipse cx="138.9" cy="167.6" rx="1.5" ry="3.4" transform="rotate(101 138.9 167.6)" fill="#8e8274" opacity="0.6"/><ellipse cx="116.1" cy="146.8" rx="2.3" ry="3.8" transform="rotate(98 116.1 146.8)" fill="#857a73" opacity="0.6"/><ellipse cx="95.8" cy="115.4" rx="4.8" ry="1.7" transform="rotate(66 95.8 115.4)" fill="#676a56" opacity="0.6"/><ellipse cx="186.5" cy="121.0" rx="3.2" ry="1.5" transform="rotate(42 186.5 121.0)" fill="#52504f" opacity="0.6"/><ellipse cx="79.9" cy="190.2" rx="3.3" ry="5.0" transform="rotate(179 79.9 190.2)" fill="#857a73" opacity="0.6"/><ellipse cx="109.8" cy="115.9" rx="2.1" ry="2.0" transform="rotate(145 109.8 115.9)" fill="#8e8274" opacity="0.6"/><ellipse cx="145.2" cy="140.4" rx="3.4" ry="3.0" transform="rotate(82 145.2 140.4)" fill="#52504f" opacity="0.6"/><ellipse cx="109.4" cy="170.9" rx="3.3" ry="2.6" transform="rotate(152 109.4 170.9)" fill="#564f59" opacity="0.6"/><ellipse cx="106.1" cy="118.3" rx="1.5" ry="4.9" transform="rotate(21 106.1 118.3)" fill="#7d737d" opacity="0.6"/><ellipse cx="156.4" cy="169.8" rx="2.1" ry="4.6" transform="rotate(81 156.4 169.8)" fill="#52504f" opacity="0.6"/><ellipse cx="79.3" cy="200.0" rx="1.8" ry="2.9" transform="rotate(80 79.3 200.0)" fill="#564f59" opacity="0.6"/><ellipse cx="128.6" cy="171.2" rx="3.6" ry="3.6" transform="rotate(170 128.6 171.2)" fill="#52504f" opacity="0.6"/><ellipse cx="125.6" cy="152.1" rx="4.7" ry="4.2" transform="rotate(31 125.6 152.1)" fill="#52504f" opacity="0.6"/><ellipse cx="76.2" cy="104.7" rx="3.9" ry="4.9" transform="rotate(99 76.2 104.7)" fill="#7d737d" opacity="0.6"/><ellipse cx="172.4" cy="159.6" rx="4.6" ry="1.9" transform="rotate(10 172.4 159.6)" fill="#7d737d" opacity="0.6"/><ellipse cx="105.5" cy="155.0" rx="2.7" ry="1.8" transform="rotate(72 105.5 155.0)" fill="#7d737d" opacity="0.6"/><ellipse cx="173.2" cy="168.8" rx="2.6" ry="2.7" transform="rotate(25 173.2 168.8)" fill="#564f59" opacity="0.6"/>
<ellipse cx="160.5" cy="57.4" rx="1.9" ry="4.1" transform="rotate(1 160.5 57.4)" fill="#a0927c" opacity="0.6"/><ellipse cx="160.6" cy="73.1" rx="2.5" ry="4.3" transform="rotate(126 160.6 73.1)" fill="#66645a" opacity="0.6"/><ellipse cx="144.6" cy="79.8" rx="2.9" ry="3.7" transform="rotate(28 144.6 79.8)" fill="#5f5a5e" opacity="0.6"/><ellipse cx="82.7" cy="41.0" rx="4.1" ry="4.5" transform="rotate(11 82.7 41.0)" fill="#66645a" opacity="0.6"/><ellipse cx="145.5" cy="82.7" rx="1.8" ry="2.4" transform="rotate(121 145.5 82.7)" fill="#66645a" opacity="0.6"/><ellipse cx="222.9" cy="92.5" rx="3.8" ry="4.2" transform="rotate(71 222.9 92.5)" fill="#74775c" opacity="0.6"/><ellipse cx="226.0" cy="45.6" rx="4.2" ry="4.1" transform="rotate(10 226.0 45.6)" fill="#8a8085" opacity="0.6"/><ellipse cx="232.9" cy="41.5" rx="2.2" ry="3.7" transform="rotate(153 232.9 41.5)" fill="#a0927c" opacity="0.6"/><ellipse cx="73.7" cy="84.0" rx="2.1" ry="4.1" transform="rotate(59 73.7 84.0)" fill="#968a78" opacity="0.6"/><ellipse cx="98.2" cy="94.4" rx="3.0" ry="3.2" transform="rotate(97 98.2 94.4)" fill="#5f5a5e" opacity="0.6"/><ellipse cx="152.4" cy="59.1" rx="3.4" ry="1.8" transform="rotate(104 152.4 59.1)" fill="#5f5a5e" opacity="0.6"/><ellipse cx="250.6" cy="80.9" rx="1.6" ry="2.3" transform="rotate(123 250.6 80.9)" fill="#5f5a5e" opacity="0.6"/><ellipse cx="213.8" cy="82.1" rx="3.2" ry="1.6" transform="rotate(156 213.8 82.1)" fill="#8a8085" opacity="0.6"/><ellipse cx="252.7" cy="48.1" rx="3.3" ry="1.6" transform="rotate(66 252.7 48.1)" fill="#66645a" opacity="0.6"/><ellipse cx="171.7" cy="70.4" rx="3.6" ry="4.1" transform="rotate(20 171.7 70.4)" fill="#a0927c" opacity="0.6"/><ellipse cx="142.1" cy="46.3" rx="2.1" ry="4.3" transform="rotate(134 142.1 46.3)" fill="#8a8085" opacity="0.6"/><ellipse cx="224.1" cy="54.4" rx="2.8" ry="2.1" transform="rotate(80 224.1 54.4)" fill="#74775c" opacity="0.6"/><ellipse cx="227.0" cy="52.9" rx="2.4" ry="3.1" transform="rotate(10 227.0 52.9)" fill="#8a8085" opacity="0.6"/><ellipse cx="220.6" cy="86.9" rx="3.0" ry="3.6" transform="rotate(45 220.6 86.9)" fill="#66645a" opacity="0.6"/><ellipse cx="85.5" cy="76.1" rx="1.8" ry="3.8" transform="rotate(92 85.5 76.1)" fill="#a0927c" opacity="0.6"/><ellipse cx="142.8" cy="77.4" rx="2.0" ry="4.0" transform="rotate(47 142.8 77.4)" fill="#968a78" opacity="0.6"/><ellipse cx="250.6" cy="87.1" rx="2.3" ry="2.0" transform="rotate(22 250.6 87.1)" fill="#5f5a5e" opacity="0.6"/><ellipse cx="75.2" cy="36.1" rx="2.1" ry="2.7" transform="rotate(110 75.2 36.1)" fill="#74775c" opacity="0.6"/><ellipse cx="126.9" cy="64.7" rx="2.3" ry="4.4" transform="rotate(135 126.9 64.7)" fill="#74775c" opacity="0.6"/><ellipse cx="204.5" cy="36.5" rx="2.9" ry="3.6" transform="rotate(138 204.5 36.5)" fill="#8a8085" opacity="0.6"/><ellipse cx="184.2" cy="86.6" rx="3.5" ry="2.3" transform="rotate(108 184.2 86.6)" fill="#a0927c" opacity="0.6"/><ellipse cx="166.4" cy="38.7" rx="1.6" ry="3.1" transform="rotate(31 166.4 38.7)" fill="#66645a" opacity="0.6"/><ellipse cx="228.1" cy="43.0" rx="3.9" ry="4.1" transform="rotate(37 228.1 43.0)" fill="#8a8085" opacity="0.6"/><ellipse cx="159.3" cy="70.0" rx="2.7" ry="2.0" transform="rotate(87 159.3 70.0)" fill="#74775c" opacity="0.6"/><ellipse cx="174.2" cy="96.0" rx="1.6" ry="4.5" transform="rotate(160 174.2 96.0)" fill="#a0927c" opacity="0.6"/><ellipse cx="131.4" cy="67.8" rx="3.4" ry="3.9" transform="rotate(158 131.4 67.8)" fill="#a0927c" opacity="0.6"/><ellipse cx="175.5" cy="52.4" rx="3.7" ry="3.7" transform="rotate(19 175.5 52.4)" fill="#66645a" opacity="0.6"/><ellipse cx="165.9" cy="36.1" rx="4.2" ry="3.7" transform="rotate(122 165.9 36.1)" fill="#968a78" opacity="0.6"/><ellipse cx="143.5" cy="91.8" rx="2.2" ry="4.0" transform="rotate(131 143.5 91.8)" fill="#a0927c" opacity="0.6"/><ellipse cx="166.7" cy="48.5" rx="3.4" ry="1.8" transform="rotate(8 166.7 48.5)" fill="#8a8085" opacity="0.6"/><ellipse cx="149.9" cy="36.7" rx="2.1" ry="3.3" transform="rotate(33 149.9 36.7)" fill="#968a78" opacity="0.6"/><ellipse cx="78.6" cy="74.5" rx="3.1" ry="2.9" transform="rotate(127 78.6 74.5)" fill="#968a78" opacity="0.6"/><ellipse cx="136.1" cy="85.2" rx="1.5" ry="4.4" transform="rotate(106 136.1 85.2)" fill="#8a8085" opacity="0.6"/><ellipse cx="259.4" cy="88.6" rx="1.8" ry="2.5" transform="rotate(42 259.4 88.6)" fill="#5f5a5e" opacity="0.6"/><ellipse cx="109.3" cy="47.0" rx="1.8" ry="1.9" transform="rotate(169 109.3 47.0)" fill="#968a78" opacity="0.6"/><ellipse cx="143.4" cy="82.4" rx="2.9" ry="3.1" transform="rotate(67 143.4 82.4)" fill="#66645a" opacity="0.6"/><ellipse cx="88.3" cy="32.4" rx="3.8" ry="3.5" transform="rotate(3 88.3 32.4)" fill="#74775c" opacity="0.6"/><ellipse cx="251.4" cy="33.5" rx="1.8" ry="3.9" transform="rotate(10 251.4 33.5)" fill="#74775c" opacity="0.6"/><ellipse cx="162.9" cy="53.4" rx="4.1" ry="3.4" transform="rotate(123 162.9 53.4)" fill="#5f5a5e" opacity="0.6"/><ellipse cx="129.7" cy="86.4" rx="4.4" ry="3.9" transform="rotate(162 129.7 86.4)" fill="#968a78" opacity="0.6"/><ellipse cx="238.7" cy="94.6" rx="4.4" ry="1.8" transform="rotate(57 238.7 94.6)" fill="#5f5a5e" opacity="0.6"/><ellipse cx="151.7" cy="53.9" rx="3.2" ry="4.1" transform="rotate(161 151.7 53.9)" fill="#8a8085" opacity="0.6"/><ellipse cx="112.5" cy="50.8" rx="2.9" ry="3.3" transform="rotate(102 112.5 50.8)" fill="#8a8085" opacity="0.6"/><ellipse cx="145.8" cy="54.4" rx="1.7" ry="1.8" transform="rotate(57 145.8 54.4)" fill="#968a78" opacity="0.6"/><ellipse cx="108.6" cy="80.4" rx="3.5" ry="1.9" transform="rotate(113 108.6 80.4)" fill="#74775c" opacity="0.6"/><ellipse cx="186.3" cy="96.0" rx="3.5" ry="2.7" transform="rotate(125 186.3 96.0)" fill="#74775c" opacity="0.6"/><ellipse cx="87.3" cy="77.5" rx="2.8" ry="2.2" transform="rotate(131 87.3 77.5)" fill="#a0927c" opacity="0.6"/><ellipse cx="167.9" cy="63.5" rx="1.5" ry="4.3" transform="rotate(37 167.9 63.5)" fill="#5f5a5e" opacity="0.6"/><ellipse cx="75.0" cy="94.6" rx="1.6" ry="1.9" transform="rotate(29 75.0 94.6)" fill="#968a78" opacity="0.6"/><ellipse cx="169.3" cy="85.7" rx="2.7" ry="4.0" transform="rotate(70 169.3 85.7)" fill="#a0927c" opacity="0.6"/><ellipse cx="168.7" cy="41.2" rx="3.6" ry="2.6" transform="rotate(49 168.7 41.2)" fill="#74775c" opacity="0.6"/><ellipse cx="245.9" cy="70.6" rx="3.9" ry="3.8" transform="rotate(32 245.9 70.6)" fill="#5f5a5e" opacity="0.6"/><ellipse cx="74.8" cy="78.5" rx="1.6" ry="2.9" transform="rotate(156 74.8 78.5)" fill="#66645a" opacity="0.6"/><ellipse cx="153.7" cy="98.5" rx="1.8" ry="2.4" transform="rotate(93 153.7 98.5)" fill="#8a8085" opacity="0.6"/><ellipse cx="201.5" cy="47.8" rx="2.5" ry="3.7" transform="rotate(63 201.5 47.8)" fill="#a0927c" opacity="0.6"/><ellipse cx="82.6" cy="50.9" rx="2.5" ry="3.2" transform="rotate(97 82.6 50.9)" fill="#66645a" opacity="0.6"/><ellipse cx="217.0" cy="62.8" rx="2.5" ry="3.7" transform="rotate(24 217.0 62.8)" fill="#8a8085" opacity="0.6"/><ellipse cx="113.9" cy="45.8" rx="3.6" ry="2.8" transform="rotate(152 113.9 45.8)" fill="#968a78" opacity="0.6"/><ellipse cx="249.9" cy="80.7" rx="3.0" ry="1.7" transform="rotate(145 249.9 80.7)" fill="#8a8085" opacity="0.6"/><ellipse cx="240.6" cy="61.7" rx="3.7" ry="2.1" transform="rotate(18 240.6 61.7)" fill="#5f5a5e" opacity="0.6"/><ellipse cx="255.2" cy="37.8" rx="2.6" ry="4.2" transform="rotate(138 255.2 37.8)" fill="#a0927c" opacity="0.6"/><ellipse cx="108.2" cy="68.1" rx="4.3" ry="3.1" transform="rotate(121 108.2 68.1)" fill="#5f5a5e" opacity="0.6"/><ellipse cx="78.3" cy="80.7" rx="3.3" ry="4.4" transform="rotate(118 78.3 80.7)" fill="#74775c" opacity="0.6"/><ellipse cx="126.6" cy="40.8" rx="2.4" ry="1.6" transform="rotate(73 126.6 40.8)" fill="#5f5a5e" opacity="0.6"/><ellipse cx="158.8" cy="97.6" rx="1.6" ry="2.0" transform="rotate(26 158.8 97.6)" fill="#a0927c" opacity="0.6"/><ellipse cx="207.4" cy="75.3" rx="3.9" ry="4.3" transform="rotate(69 207.4 75.3)" fill="#a0927c" opacity="0.6"/><ellipse cx="101.7" cy="57.8" rx="4.4" ry="2.7" transform="rotate(51 101.7 57.8)" fill="#8a8085" opacity="0.6"/><ellipse cx="214.4" cy="88.9" rx="3.5" ry="3.4" transform="rotate(92 214.4 88.9)" fill="#8a8085" opacity="0.6"/><ellipse cx="171.4" cy="49.3" rx="3.3" ry="4.3" transform="rotate(62 171.4 49.3)" fill="#968a78" opacity="0.6"/><ellipse cx="261.7" cy="82.2" rx="3.4" ry="2.9" transform="rotate(168 261.7 82.2)" fill="#968a78" opacity="0.6"/><ellipse cx="112.0" cy="33.0" rx="2.9" ry="1.9" transform="rotate(56 112.0 33.0)" fill="#5f5a5e" opacity="0.6"/><ellipse cx="75.2" cy="77.5" rx="2.7" ry="2.3" transform="rotate(170 75.2 77.5)" fill="#74775c" opacity="0.6"/><ellipse cx="134.1" cy="94.2" rx="3.2" ry="1.6" transform="rotate(134 134.1 94.2)" fill="#5f5a5e" opacity="0.6"/><ellipse cx="89.8" cy="46.3" rx="2.3" ry="4.1" transform="rotate(79 89.8 46.3)" fill="#74775c" opacity="0.6"/><ellipse cx="178.4" cy="80.0" rx="1.7" ry="3.6" transform="rotate(128 178.4 80.0)" fill="#5f5a5e" opacity="0.6"/><ellipse cx="84.2" cy="70.9" rx="3.0" ry="4.0" transform="rotate(66 84.2 70.9)" fill="#66645a" opacity="0.6"/><ellipse cx="109.3" cy="75.5" rx="3.7" ry="3.0" transform="rotate(74 109.3 75.5)" fill="#5f5a5e" opacity="0.6"/><ellipse cx="257.1" cy="53.3" rx="2.9" ry="2.4" transform="rotate(144 257.1 53.3)" fill="#a0927c" opacity="0.6"/><ellipse cx="153.1" cy="83.7" rx="1.7" ry="2.6" transform="rotate(131 153.1 83.7)" fill="#66645a" opacity="0.6"/><ellipse cx="115.1" cy="49.7" rx="2.9" ry="1.7" transform="rotate(172 115.1 49.7)" fill="#8a8085" opacity="0.6"/><ellipse cx="169.1" cy="81.6" rx="1.7" ry="1.9" transform="rotate(129 169.1 81.6)" fill="#74775c" opacity="0.6"/><ellipse cx="153.0" cy="33.3" rx="2.8" ry="2.7" transform="rotate(170 153.0 33.3)" fill="#a0927c" opacity="0.6"/><ellipse cx="104.9" cy="34.0" rx="2.4" ry="1.5" transform="rotate(21 104.9 34.0)" fill="#a0927c" opacity="0.6"/><ellipse cx="74.1" cy="62.0" rx="1.8" ry="3.0" transform="rotate(124 74.1 62.0)" fill="#5f5a5e" opacity="0.6"/><ellipse cx="256.7" cy="37.0" rx="3.1" ry="2.4" transform="rotate(155 256.7 37.0)" fill="#8a8085" opacity="0.6"/><ellipse cx="241.1" cy="45.5" rx="2.9" ry="3.5" transform="rotate(85 241.1 45.5)" fill="#a0927c" opacity="0.6"/><ellipse cx="194.8" cy="53.4" rx="3.5" ry="3.8" transform="rotate(83 194.8 53.4)" fill="#a0927c" opacity="0.6"/><ellipse cx="173.5" cy="80.2" rx="4.0" ry="1.7" transform="rotate(136 173.5 80.2)" fill="#66645a" opacity="0.6"/><ellipse cx="136.7" cy="86.1" rx="2.0" ry="4.4" transform="rotate(110 136.7 86.1)" fill="#66645a" opacity="0.6"/><ellipse cx="165.4" cy="60.1" rx="3.0" ry="1.8" transform="rotate(92 165.4 60.1)" fill="#66645a" opacity="0.6"/><ellipse cx="126.8" cy="79.7" rx="1.7" ry="4.4" transform="rotate(126 126.8 79.7)" fill="#a0927c" opacity="0.6"/><ellipse cx="105.1" cy="32.5" rx="4.1" ry="3.0" transform="rotate(80 105.1 32.5)" fill="#a0927c" opacity="0.6"/><ellipse cx="134.3" cy="44.0" rx="3.6" ry="2.5" transform="rotate(127 134.3 44.0)" fill="#74775c" opacity="0.6"/><ellipse cx="163.2" cy="91.9" rx="2.5" ry="3.6" transform="rotate(164 163.2 91.9)" fill="#a0927c" opacity="0.6"/><ellipse cx="121.3" cy="86.0" rx="3.3" ry="3.9" transform="rotate(13 121.3 86.0)" fill="#8a8085" opacity="0.6"/><ellipse cx="117.0" cy="52.0" rx="2.6" ry="3.0" transform="rotate(178 117.0 52.0)" fill="#5f5a5e" opacity="0.6"/><ellipse cx="230.2" cy="92.0" rx="3.2" ry="1.7" transform="rotate(139 230.2 92.0)" fill="#74775c" opacity="0.6"/><ellipse cx="74.7" cy="92.5" rx="3.8" ry="2.8" transform="rotate(31 74.7 92.5)" fill="#968a78" opacity="0.6"/><ellipse cx="95.8" cy="90.2" rx="2.0" ry="3.4" transform="rotate(47 95.8 90.2)" fill="#5f5a5e" opacity="0.6"/><ellipse cx="206.8" cy="98.2" rx="3.7" ry="3.0" transform="rotate(97 206.8 98.2)" fill="#8a8085" opacity="0.6"/><ellipse cx="255.6" cy="77.2" rx="2.9" ry="2.7" transform="rotate(16 255.6 77.2)" fill="#74775c" opacity="0.6"/><ellipse cx="259.8" cy="81.4" rx="2.1" ry="1.6" transform="rotate(108 259.8 81.4)" fill="#5f5a5e" opacity="0.6"/><ellipse cx="159.1" cy="40.3" rx="1.8" ry="3.3" transform="rotate(71 159.1 40.3)" fill="#74775c" opacity="0.6"/><ellipse cx="98.5" cy="54.8" rx="3.9" ry="2.6" transform="rotate(167 98.5 54.8)" fill="#968a78" opacity="0.6"/><ellipse cx="93.4" cy="32.0" rx="3.2" ry="4.3" transform="rotate(116 93.4 32.0)" fill="#66645a" opacity="0.6"/><ellipse cx="157.6" cy="92.8" rx="4.3" ry="3.4" transform="rotate(46 157.6 92.8)" fill="#a0927c" opacity="0.6"/><ellipse cx="137.3" cy="57.0" rx="2.4" ry="2.1" transform="rotate(110 137.3 57.0)" fill="#8a8085" opacity="0.6"/><ellipse cx="227.9" cy="40.3" rx="2.2" ry="2.0" transform="rotate(161 227.9 40.3)" fill="#66645a" opacity="0.6"/><ellipse cx="203.8" cy="73.4" rx="3.4" ry="2.7" transform="rotate(75 203.8 73.4)" fill="#66645a" opacity="0.6"/><ellipse cx="203.4" cy="72.0" rx="2.9" ry="2.7" transform="rotate(51 203.4 72.0)" fill="#66645a" opacity="0.6"/><ellipse cx="168.6" cy="41.7" rx="3.1" ry="1.5" transform="rotate(168 168.6 41.7)" fill="#968a78" opacity="0.6"/><ellipse cx="180.2" cy="75.9" rx="3.4" ry="1.5" transform="rotate(141 180.2 75.9)" fill="#a0927c" opacity="0.6"/><ellipse cx="214.0" cy="67.5" rx="4.0" ry="4.3" transform="rotate(50 214.0 67.5)" fill="#5f5a5e" opacity="0.6"/><ellipse cx="200.8" cy="77.3" rx="3.7" ry="4.0" transform="rotate(34 200.8 77.3)" fill="#8a8085" opacity="0.6"/><ellipse cx="207.0" cy="81.3" rx="1.6" ry="4.1" transform="rotate(123 207.0 81.3)" fill="#66645a" opacity="0.6"/><ellipse cx="210.6" cy="44.9" rx="3.9" ry="3.4" transform="rotate(98 210.6 44.9)" fill="#8a8085" opacity="0.6"/><ellipse cx="177.0" cy="86.5" rx="3.5" ry="3.0" transform="rotate(17 177.0 86.5)" fill="#968a78" opacity="0.6"/><ellipse cx="113.8" cy="34.5" rx="4.0" ry="2.1" transform="rotate(103 113.8 34.5)" fill="#74775c" opacity="0.6"/><ellipse cx="184.9" cy="38.7" rx="4.2" ry="4.2" transform="rotate(138 184.9 38.7)" fill="#74775c" opacity="0.6"/><ellipse cx="100.1" cy="34.8" rx="3.6" ry="4.1" transform="rotate(138 100.1 34.8)" fill="#66645a" opacity="0.6"/><ellipse cx="76.2" cy="49.9" rx="3.9" ry="2.2" transform="rotate(5 76.2 49.9)" fill="#968a78" opacity="0.6"/><ellipse cx="153.7" cy="80.2" rx="2.5" ry="1.7" transform="rotate(35 153.7 80.2)" fill="#5f5a5e" opacity="0.6"/><ellipse cx="197.0" cy="70.4" rx="2.9" ry="2.9" transform="rotate(179 197.0 70.4)" fill="#a0927c" opacity="0.6"/><ellipse cx="157.6" cy="65.6" rx="2.1" ry="4.5" transform="rotate(80 157.6 65.6)" fill="#8a8085" opacity="0.6"/><ellipse cx="181.5" cy="41.6" rx="2.0" ry="1.8" transform="rotate(67 181.5 41.6)" fill="#5f5a5e" opacity="0.6"/><ellipse cx="136.3" cy="74.4" rx="3.5" ry="1.9" transform="rotate(148 136.3 74.4)" fill="#968a78" opacity="0.6"/><ellipse cx="255.7" cy="66.9" rx="2.3" ry="3.0" transform="rotate(79 255.7 66.9)" fill="#5f5a5e" opacity="0.6"/><ellipse cx="114.2" cy="75.6" rx="4.0" ry="3.0" transform="rotate(57 114.2 75.6)" fill="#5f5a5e" opacity="0.6"/><ellipse cx="110.6" cy="91.7" rx="4.1" ry="2.5" transform="rotate(161 110.6 91.7)" fill="#968a78" opacity="0.6"/><ellipse cx="222.1" cy="62.8" rx="3.9" ry="3.4" transform="rotate(128 222.1 62.8)" fill="#a0927c" opacity="0.6"/><ellipse cx="198.8" cy="82.7" rx="2.0" ry="3.7" transform="rotate(80 198.8 82.7)" fill="#968a78" opacity="0.6"/><ellipse cx="254.8" cy="84.8" rx="2.9" ry="1.6" transform="rotate(178 254.8 84.8)" fill="#8a8085" opacity="0.6"/><ellipse cx="82.7" cy="61.2" rx="2.5" ry="3.5" transform="rotate(20 82.7 61.2)" fill="#a0927c" opacity="0.6"/><ellipse cx="88.0" cy="67.1" rx="2.5" ry="1.6" transform="rotate(85 88.0 67.1)" fill="#5f5a5e" opacity="0.6"/><ellipse cx="151.0" cy="35.4" rx="2.6" ry="2.7" transform="rotate(53 151.0 35.4)" fill="#a0927c" opacity="0.6"/><ellipse cx="211.7" cy="74.6" rx="4.3" ry="3.6" transform="rotate(61 211.7 74.6)" fill="#8a8085" opacity="0.6"/><ellipse cx="76.0" cy="44.8" rx="1.9" ry="2.6" transform="rotate(64 76.0 44.8)" fill="#8a8085" opacity="0.6"/><ellipse cx="185.6" cy="36.3" rx="2.8" ry="3.5" transform="rotate(174 185.6 36.3)" fill="#5f5a5e" opacity="0.6"/><ellipse cx="253.9" cy="57.1" rx="2.7" ry="4.5" transform="rotate(151 253.9 57.1)" fill="#968a78" opacity="0.6"/><ellipse cx="251.0" cy="36.6" rx="3.3" ry="2.4" transform="rotate(102 251.0 36.6)" fill="#5f5a5e" opacity="0.6"/><ellipse cx="146.3" cy="66.4" rx="2.5" ry="3.3" transform="rotate(98 146.3 66.4)" fill="#5f5a5e" opacity="0.6"/><ellipse cx="218.8" cy="37.2" rx="1.7" ry="2.8" transform="rotate(153 218.8 37.2)" fill="#968a78" opacity="0.6"/><ellipse cx="221.2" cy="47.0" rx="1.9" ry="2.5" transform="rotate(42 221.2 47.0)" fill="#a0927c" opacity="0.6"/><ellipse cx="242.1" cy="55.4" rx="1.7" ry="2.4" transform="rotate(90 242.1 55.4)" fill="#968a78" opacity="0.6"/><ellipse cx="112.6" cy="47.7" rx="3.4" ry="4.3" transform="rotate(157 112.6 47.7)" fill="#5f5a5e" opacity="0.6"/><ellipse cx="253.9" cy="52.9" rx="1.8" ry="1.7" transform="rotate(142 253.9 52.9)" fill="#5f5a5e" opacity="0.6"/><ellipse cx="234.2" cy="86.4" rx="2.2" ry="2.6" transform="rotate(50 234.2 86.4)" fill="#968a78" opacity="0.6"/><ellipse cx="73.4" cy="52.7" rx="3.5" ry="3.4" transform="rotate(1 73.4 52.7)" fill="#968a78" opacity="0.6"/><ellipse cx="92.0" cy="53.2" rx="3.5" ry="3.7" transform="rotate(139 92.0 53.2)" fill="#8a8085" opacity="0.6"/><ellipse cx="213.5" cy="75.6" rx="2.9" ry="4.4" transform="rotate(153 213.5 75.6)" fill="#8a8085" opacity="0.6"/><ellipse cx="119.6" cy="67.0" rx="3.2" ry="3.5" transform="rotate(98 119.6 67.0)" fill="#66645a" opacity="0.6"/><ellipse cx="182.9" cy="74.6" rx="4.0" ry="1.5" transform="rotate(9 182.9 74.6)" fill="#66645a" opacity="0.6"/><ellipse cx="137.4" cy="54.5" rx="1.9" ry="4.3" transform="rotate(116 137.4 54.5)" fill="#66645a" opacity="0.6"/><ellipse cx="176.7" cy="58.8" rx="3.7" ry="3.3" transform="rotate(48 176.7 58.8)" fill="#66645a" opacity="0.6"/><ellipse cx="209.2" cy="48.3" rx="2.0" ry="2.1" transform="rotate(15 209.2 48.3)" fill="#a0927c" opacity="0.6"/><ellipse cx="78.0" cy="46.0" rx="3.1" ry="2.5" transform="rotate(15 78.0 46.0)" fill="#74775c" opacity="0.6"/><ellipse cx="90.3" cy="96.0" rx="1.8" ry="2.3" transform="rotate(101 90.3 96.0)" fill="#8a8085" opacity="0.6"/><ellipse cx="119.5" cy="82.3" rx="4.1" ry="1.6" transform="rotate(108 119.5 82.3)" fill="#8a8085" opacity="0.6"/><ellipse cx="218.4" cy="40.3" rx="3.7" ry="3.8" transform="rotate(29 218.4 40.3)" fill="#66645a" opacity="0.6"/><ellipse cx="119.0" cy="86.9" rx="4.4" ry="1.6" transform="rotate(59 119.0 86.9)" fill="#5f5a5e" opacity="0.6"/><ellipse cx="162.1" cy="72.0" rx="1.5" ry="3.1" transform="rotate(169 162.1 72.0)" fill="#74775c" opacity="0.6"/><ellipse cx="206.1" cy="60.4" rx="3.7" ry="2.6" transform="rotate(125 206.1 60.4)" fill="#74775c" opacity="0.6"/><ellipse cx="262.0" cy="54.5" rx="2.6" ry="2.1" transform="rotate(145 262.0 54.5)" fill="#a0927c" opacity="0.6"/><ellipse cx="97.7" cy="42.5" rx="2.9" ry="2.5" transform="rotate(39 97.7 42.5)" fill="#66645a" opacity="0.6"/><ellipse cx="87.7" cy="65.2" rx="2.0" ry="3.1" transform="rotate(151 87.7 65.2)" fill="#8a8085" opacity="0.6"/><ellipse cx="218.0" cy="61.1" rx="3.3" ry="2.2" transform="rotate(39 218.0 61.1)" fill="#968a78" opacity="0.6"/><ellipse cx="214.6" cy="84.2" rx="2.9" ry="1.6" transform="rotate(139 214.6 84.2)" fill="#74775c" opacity="0.6"/><ellipse cx="133.0" cy="74.5" rx="1.9" ry="4.4" transform="rotate(128 133.0 74.5)" fill="#968a78" opacity="0.6"/><ellipse cx="166.5" cy="74.8" rx="3.0" ry="3.1" transform="rotate(67 166.5 74.8)" fill="#66645a" opacity="0.6"/><ellipse cx="207.0" cy="68.2" rx="2.6" ry="2.4" transform="rotate(131 207.0 68.2)" fill="#66645a" opacity="0.6"/><ellipse cx="216.0" cy="84.6" rx="3.0" ry="2.9" transform="rotate(36 216.0 84.6)" fill="#66645a" opacity="0.6"/><ellipse cx="172.4" cy="96.2" rx="1.6" ry="4.3" transform="rotate(163 172.4 96.2)" fill="#5f5a5e" opacity="0.6"/><ellipse cx="195.4" cy="42.4" rx="4.2" ry="3.7" transform="rotate(144 195.4 42.4)" fill="#5f5a5e" opacity="0.6"/><ellipse cx="173.1" cy="66.8" rx="2.8" ry="3.7" transform="rotate(151 173.1 66.8)" fill="#8a8085" opacity="0.6"/><ellipse cx="117.6" cy="71.1" rx="3.5" ry="2.1" transform="rotate(9 117.6 71.1)" fill="#66645a" opacity="0.6"/><ellipse cx="167.7" cy="90.2" rx="3.6" ry="2.1" transform="rotate(102 167.7 90.2)" fill="#968a78" opacity="0.6"/><ellipse cx="79.2" cy="92.1" rx="4.0" ry="4.4" transform="rotate(165 79.2 92.1)" fill="#968a78" opacity="0.6"/><ellipse cx="129.2" cy="76.3" rx="4.1" ry="1.5" transform="rotate(13 129.2 76.3)" fill="#968a78" opacity="0.6"/><ellipse cx="206.1" cy="86.0" rx="2.1" ry="4.2" transform="rotate(34 206.1 86.0)" fill="#74775c" opacity="0.6"/><ellipse cx="195.4" cy="40.5" rx="4.0" ry="2.5" transform="rotate(149 195.4 40.5)" fill="#a0927c" opacity="0.6"/><ellipse cx="188.2" cy="82.0" rx="4.4" ry="3.7" transform="rotate(73 188.2 82.0)" fill="#a0927c" opacity="0.6"/><ellipse cx="203.1" cy="47.2" rx="4.4" ry="2.5" transform="rotate(26 203.1 47.2)" fill="#8a8085" opacity="0.6"/><ellipse cx="236.4" cy="85.4" rx="3.7" ry="2.0" transform="rotate(82 236.4 85.4)" fill="#968a78" opacity="0.6"/><ellipse cx="79.5" cy="71.5" rx="3.2" ry="2.5" transform="rotate(64 79.5 71.5)" fill="#74775c" opacity="0.6"/><ellipse cx="181.2" cy="42.2" rx="3.5" ry="1.5" transform="rotate(39 181.2 42.2)" fill="#968a78" opacity="0.6"/><ellipse cx="155.4" cy="83.2" rx="3.8" ry="3.0" transform="rotate(84 155.4 83.2)" fill="#5f5a5e" opacity="0.6"/><ellipse cx="97.9" cy="48.8" rx="3.5" ry="3.3" transform="rotate(141 97.9 48.8)" fill="#a0927c" opacity="0.6"/><ellipse cx="183.3" cy="62.7" rx="4.4" ry="3.5" transform="rotate(13 183.3 62.7)" fill="#a0927c" opacity="0.6"/><ellipse cx="136.8" cy="60.8" rx="4.1" ry="3.0" transform="rotate(72 136.8 60.8)" fill="#a0927c" opacity="0.6"/><ellipse cx="239.6" cy="58.8" rx="3.5" ry="4.3" transform="rotate(16 239.6 58.8)" fill="#74775c" opacity="0.6"/><ellipse cx="203.6" cy="61.9" rx="1.6" ry="3.0" transform="rotate(30 203.6 61.9)" fill="#5f5a5e" opacity="0.6"/><ellipse cx="155.6" cy="77.8" rx="3.6" ry="4.0" transform="rotate(97 155.6 77.8)" fill="#a0927c" opacity="0.6"/><ellipse cx="141.7" cy="97.2" rx="2.1" ry="2.7" transform="rotate(42 141.7 97.2)" fill="#a0927c" opacity="0.6"/><ellipse cx="92.6" cy="93.8" rx="3.5" ry="4.1" transform="rotate(19 92.6 93.8)" fill="#66645a" opacity="0.6"/><ellipse cx="214.1" cy="88.1" rx="2.7" ry="2.8" transform="rotate(103 214.1 88.1)" fill="#5f5a5e" opacity="0.6"/><ellipse cx="139.0" cy="50.8" rx="1.5" ry="3.1" transform="rotate(11 139.0 50.8)" fill="#74775c" opacity="0.6"/><ellipse cx="221.0" cy="44.4" rx="2.3" ry="2.2" transform="rotate(19 221.0 44.4)" fill="#a0927c" opacity="0.6"/><ellipse cx="172.5" cy="66.9" rx="2.1" ry="2.3" transform="rotate(78 172.5 66.9)" fill="#968a78" opacity="0.6"/><ellipse cx="225.9" cy="73.3" rx="4.5" ry="3.1" transform="rotate(61 225.9 73.3)" fill="#66645a" opacity="0.6"/><ellipse cx="85.1" cy="95.6" rx="4.0" ry="4.0" transform="rotate(6 85.1 95.6)" fill="#74775c" opacity="0.6"/><ellipse cx="188.6" cy="83.2" rx="1.8" ry="3.7" transform="rotate(75 188.6 83.2)" fill="#5f5a5e" opacity="0.6"/><ellipse cx="118.1" cy="60.5" rx="3.4" ry="4.1" transform="rotate(160 118.1 60.5)" fill="#a0927c" opacity="0.6"/><ellipse cx="146.7" cy="68.4" rx="1.7" ry="3.4" transform="rotate(44 146.7 68.4)" fill="#66645a" opacity="0.6"/><ellipse cx="192.2" cy="58.8" rx="3.2" ry="2.6" transform="rotate(127 192.2 58.8)" fill="#66645a" opacity="0.6"/><ellipse cx="130.2" cy="82.0" rx="1.8" ry="1.8" transform="rotate(34 130.2 82.0)" fill="#74775c" opacity="0.6"/><ellipse cx="235.2" cy="66.2" rx="2.7" ry="3.3" transform="rotate(29 235.2 66.2)" fill="#66645a" opacity="0.6"/><ellipse cx="118.4" cy="52.5" rx="2.9" ry="2.8" transform="rotate(103 118.4 52.5)" fill="#968a78" opacity="0.6"/><ellipse cx="248.3" cy="73.0" rx="2.6" ry="2.0" transform="rotate(103 248.3 73.0)" fill="#a0927c" opacity="0.6"/><ellipse cx="210.8" cy="34.3" rx="1.6" ry="2.7" transform="rotate(41 210.8 34.3)" fill="#66645a" opacity="0.6"/><ellipse cx="94.9" cy="35.3" rx="3.7" ry="2.3" transform="rotate(56 94.9 35.3)" fill="#968a78" opacity="0.6"/><ellipse cx="180.1" cy="40.8" rx="3.1" ry="3.6" transform="rotate(114 180.1 40.8)" fill="#968a78" opacity="0.6"/><ellipse cx="144.0" cy="60.8" rx="4.2" ry="3.9" transform="rotate(33 144.0 60.8)" fill="#8a8085" opacity="0.6"/><ellipse cx="251.9" cy="50.0" rx="2.4" ry="4.0" transform="rotate(9 251.9 50.0)" fill="#968a78" opacity="0.6"/><ellipse cx="252.2" cy="69.9" rx="3.7" ry="2.4" transform="rotate(153 252.2 69.9)" fill="#a0927c" opacity="0.6"/><ellipse cx="158.2" cy="48.1" rx="4.1" ry="2.0" transform="rotate(22 158.2 48.1)" fill="#74775c" opacity="0.6"/><ellipse cx="192.0" cy="65.6" rx="3.7" ry="3.0" transform="rotate(8 192.0 65.6)" fill="#968a78" opacity="0.6"/><ellipse cx="97.8" cy="64.7" rx="4.2" ry="4.0" transform="rotate(116 97.8 64.7)" fill="#968a78" opacity="0.6"/><ellipse cx="205.2" cy="72.9" rx="2.9" ry="2.9" transform="rotate(43 205.2 72.9)" fill="#968a78" opacity="0.6"/><ellipse cx="151.3" cy="85.7" rx="3.8" ry="2.7" transform="rotate(46 151.3 85.7)" fill="#a0927c" opacity="0.6"/><ellipse cx="242.2" cy="40.2" rx="3.8" ry="2.9" transform="rotate(100 242.2 40.2)" fill="#a0927c" opacity="0.6"/><ellipse cx="219.9" cy="97.0" rx="3.9" ry="3.5" transform="rotate(80 219.9 97.0)" fill="#74775c" opacity="0.6"/><ellipse cx="220.6" cy="69.4" rx="3.1" ry="2.1" transform="rotate(159 220.6 69.4)" fill="#5f5a5e" opacity="0.6"/><ellipse cx="125.2" cy="81.6" rx="4.3" ry="4.4" transform="rotate(176 125.2 81.6)" fill="#5f5a5e" opacity="0.6"/><ellipse cx="229.8" cy="64.1" rx="3.6" ry="2.1" transform="rotate(179 229.8 64.1)" fill="#5f5a5e" opacity="0.6"/><ellipse cx="194.8" cy="83.4" rx="4.2" ry="4.4" transform="rotate(103 194.8 83.4)" fill="#66645a" opacity="0.6"/><ellipse cx="76.1" cy="91.6" rx="3.2" ry="1.9" transform="rotate(61 76.1 91.6)" fill="#8a8085" opacity="0.6"/><ellipse cx="102.9" cy="84.0" rx="4.0" ry="4.2" transform="rotate(14 102.9 84.0)" fill="#8a8085" opacity="0.6"/><ellipse cx="152.4" cy="57.5" rx="2.5" ry="2.2" transform="rotate(135 152.4 57.5)" fill="#968a78" opacity="0.6"/><ellipse cx="202.4" cy="59.0" rx="3.8" ry="2.6" transform="rotate(122 202.4 59.0)" fill="#968a78" opacity="0.6"/><ellipse cx="176.3" cy="81.4" rx="2.0" ry="3.3" transform="rotate(49 176.3 81.4)" fill="#968a78" opacity="0.6"/><ellipse cx="96.3" cy="84.1" rx="1.8" ry="3.4" transform="rotate(35 96.3 84.1)" fill="#74775c" opacity="0.6"/><ellipse cx="221.3" cy="66.9" rx="3.2" ry="4.2" transform="rotate(43 221.3 66.9)" fill="#8a8085" opacity="0.6"/><ellipse cx="201.1" cy="81.0" rx="4.3" ry="2.0" transform="rotate(72 201.1 81.0)" fill="#a0927c" opacity="0.6"/><ellipse cx="106.2" cy="38.9" rx="2.2" ry="2.6" transform="rotate(116 106.2 38.9)" fill="#74775c" opacity="0.6"/><ellipse cx="183.1" cy="51.0" rx="3.8" ry="2.4" transform="rotate(107 183.1 51.0)" fill="#5f5a5e" opacity="0.6"/><ellipse cx="175.8" cy="85.1" rx="3.5" ry="3.4" transform="rotate(3 175.8 85.1)" fill="#66645a" opacity="0.6"/><ellipse cx="227.0" cy="55.4" rx="3.3" ry="3.2" transform="rotate(105 227.0 55.4)" fill="#5f5a5e" opacity="0.6"/><ellipse cx="99.8" cy="87.8" rx="4.0" ry="1.6" transform="rotate(99 99.8 87.8)" fill="#a0927c" opacity="0.6"/><ellipse cx="132.7" cy="42.4" rx="4.3" ry="2.2" transform="rotate(179 132.7 42.4)" fill="#74775c" opacity="0.6"/><ellipse cx="221.9" cy="37.6" rx="1.6" ry="3.4" transform="rotate(38 221.9 37.6)" fill="#968a78" opacity="0.6"/><ellipse cx="75.1" cy="47.6" rx="2.6" ry="1.8" transform="rotate(170 75.1 47.6)" fill="#a0927c" opacity="0.6"/><ellipse cx="75.9" cy="64.1" rx="3.4" ry="1.8" transform="rotate(108 75.9 64.1)" fill="#74775c" opacity="0.6"/><ellipse cx="214.1" cy="90.7" rx="4.1" ry="2.6" transform="rotate(41 214.1 90.7)" fill="#968a78" opacity="0.6"/><ellipse cx="252.8" cy="85.5" rx="3.0" ry="4.0" transform="rotate(48 252.8 85.5)" fill="#968a78" opacity="0.6"/><ellipse cx="252.0" cy="88.9" rx="3.7" ry="2.9" transform="rotate(136 252.0 88.9)" fill="#66645a" opacity="0.6"/><ellipse cx="182.6" cy="92.8" rx="2.5" ry="3.5" transform="rotate(169 182.6 92.8)" fill="#66645a" opacity="0.6"/><ellipse cx="98.8" cy="65.7" rx="1.8" ry="2.4" transform="rotate(152 98.8 65.7)" fill="#a0927c" opacity="0.6"/><ellipse cx="142.0" cy="44.0" rx="3.2" ry="2.4" transform="rotate(49 142.0 44.0)" fill="#8a8085" opacity="0.6"/><ellipse cx="205.7" cy="92.3" rx="1.5" ry="3.9" transform="rotate(85 205.7 92.3)" fill="#a0927c" opacity="0.6"/><ellipse cx="195.8" cy="34.5" rx="1.8" ry="2.1" transform="rotate(41 195.8 34.5)" fill="#66645a" opacity="0.6"/><ellipse cx="237.1" cy="53.0" rx="3.1" ry="3.0" transform="rotate(113 237.1 53.0)" fill="#968a78" opacity="0.6"/><ellipse cx="108.4" cy="76.4" rx="3.2" ry="3.8" transform="rotate(153 108.4 76.4)" fill="#74775c" opacity="0.6"/><ellipse cx="158.8" cy="44.8" rx="2.0" ry="2.6" transform="rotate(86 158.8 44.8)" fill="#8a8085" opacity="0.6"/><ellipse cx="203.5" cy="43.0" rx="2.2" ry="4.3" transform="rotate(6 203.5 43.0)" fill="#66645a" opacity="0.6"/><ellipse cx="225.1" cy="90.6" rx="2.1" ry="4.0" transform="rotate(88 225.1 90.6)" fill="#8a8085" opacity="0.6"/>
<ellipse cx="70.6" cy="262.3" rx="1.6" ry="1.7" transform="rotate(150 70.6 262.3)" fill="#66644f" opacity="0.6"/><ellipse cx="20.0" cy="197.5" rx="4.0" ry="3.1" transform="rotate(145 20.0 197.5)" fill="#7c7468" opacity="0.6"/><ellipse cx="70.2" cy="164.2" rx="2.6" ry="2.2" transform="rotate(6 70.2 164.2)" fill="#736b6e" opacity="0.6"/><ellipse cx="38.0" cy="258.4" rx="3.8" ry="2.6" transform="rotate(159 38.0 258.4)" fill="#45424a" opacity="0.6"/><ellipse cx="72.9" cy="195.9" rx="2.0" ry="3.7" transform="rotate(143 72.9 195.9)" fill="#7c7468" opacity="0.6"/><ellipse cx="67.9" cy="217.4" rx="3.5" ry="2.4" transform="rotate(177 67.9 217.4)" fill="#3c4030" opacity="0.6"/><ellipse cx="26.9" cy="215.2" rx="3.3" ry="2.7" transform="rotate(95 26.9 215.2)" fill="#3c4030" opacity="0.6"/><ellipse cx="46.3" cy="225.5" rx="3.2" ry="2.6" transform="rotate(163 46.3 225.5)" fill="#66644f" opacity="0.6"/><ellipse cx="49.2" cy="255.6" rx="3.3" ry="2.7" transform="rotate(40 49.2 255.6)" fill="#66644f" opacity="0.6"/><ellipse cx="62.8" cy="234.9" rx="3.7" ry="3.0" transform="rotate(139 62.8 234.9)" fill="#3c4030" opacity="0.6"/><ellipse cx="35.0" cy="264.6" rx="3.3" ry="2.8" transform="rotate(93 35.0 264.6)" fill="#7c7468" opacity="0.6"/><ellipse cx="50.3" cy="107.8" rx="2.0" ry="2.8" transform="rotate(168 50.3 107.8)" fill="#7c7468" opacity="0.6"/><ellipse cx="66.5" cy="222.6" rx="2.4" ry="1.5" transform="rotate(147 66.5 222.6)" fill="#736b6e" opacity="0.6"/><ellipse cx="66.2" cy="57.8" rx="2.8" ry="3.6" transform="rotate(44 66.2 57.8)" fill="#45424a" opacity="0.6"/><ellipse cx="69.9" cy="46.7" rx="3.7" ry="3.4" transform="rotate(10 69.9 46.7)" fill="#66644f" opacity="0.6"/><ellipse cx="27.5" cy="195.5" rx="1.7" ry="3.9" transform="rotate(5 27.5 195.5)" fill="#736b6e" opacity="0.6"/><ellipse cx="69.5" cy="210.6" rx="2.8" ry="1.5" transform="rotate(106 69.5 210.6)" fill="#45424a" opacity="0.6"/><ellipse cx="36.9" cy="181.5" rx="3.4" ry="1.8" transform="rotate(61 36.9 181.5)" fill="#736b6e" opacity="0.6"/><ellipse cx="35.0" cy="166.0" rx="3.0" ry="1.6" transform="rotate(48 35.0 166.0)" fill="#3c4030" opacity="0.6"/><ellipse cx="65.4" cy="203.4" rx="2.7" ry="2.1" transform="rotate(119 65.4 203.4)" fill="#66644f" opacity="0.6"/><ellipse cx="64.1" cy="37.9" rx="3.5" ry="3.9" transform="rotate(93 64.1 37.9)" fill="#3c4030" opacity="0.6"/><ellipse cx="66.1" cy="114.9" rx="2.2" ry="3.9" transform="rotate(118 66.1 114.9)" fill="#7c7468" opacity="0.6"/><ellipse cx="70.7" cy="194.9" rx="2.1" ry="1.8" transform="rotate(31 70.7 194.9)" fill="#3c4030" opacity="0.6"/><ellipse cx="52.9" cy="155.5" rx="4.0" ry="3.8" transform="rotate(179 52.9 155.5)" fill="#45424a" opacity="0.6"/><ellipse cx="57.3" cy="49.9" rx="1.7" ry="2.1" transform="rotate(142 57.3 49.9)" fill="#7c7468" opacity="0.6"/><ellipse cx="57.0" cy="94.4" rx="2.6" ry="2.8" transform="rotate(1 57.0 94.4)" fill="#736b6e" opacity="0.6"/><ellipse cx="46.2" cy="53.3" rx="1.8" ry="1.5" transform="rotate(135 46.2 53.3)" fill="#736b6e" opacity="0.6"/><ellipse cx="53.3" cy="83.6" rx="3.8" ry="3.9" transform="rotate(131 53.3 83.6)" fill="#3c4030" opacity="0.6"/><ellipse cx="50.5" cy="246.2" rx="3.8" ry="3.0" transform="rotate(166 50.5 246.2)" fill="#3c4030" opacity="0.6"/><ellipse cx="38.1" cy="158.2" rx="3.8" ry="3.0" transform="rotate(52 38.1 158.2)" fill="#66644f" opacity="0.6"/><ellipse cx="35.0" cy="244.5" rx="2.5" ry="1.8" transform="rotate(36 35.0 244.5)" fill="#736b6e" opacity="0.6"/><ellipse cx="62.7" cy="46.6" rx="3.1" ry="2.7" transform="rotate(160 62.7 46.6)" fill="#7c7468" opacity="0.6"/><ellipse cx="38.5" cy="259.3" rx="1.7" ry="3.4" transform="rotate(35 38.5 259.3)" fill="#7c7468" opacity="0.6"/><ellipse cx="38.5" cy="206.0" rx="1.8" ry="2.4" transform="rotate(160 38.5 206.0)" fill="#66644f" opacity="0.6"/><ellipse cx="64.8" cy="187.8" rx="3.9" ry="3.2" transform="rotate(4 64.8 187.8)" fill="#3c4030" opacity="0.6"/><ellipse cx="60.7" cy="207.8" rx="2.7" ry="2.4" transform="rotate(82 60.7 207.8)" fill="#66644f" opacity="0.6"/><ellipse cx="44.3" cy="264.0" rx="3.5" ry="3.8" transform="rotate(150 44.3 264.0)" fill="#66644f" opacity="0.6"/><ellipse cx="50.8" cy="165.3" rx="3.2" ry="3.2" transform="rotate(15 50.8 165.3)" fill="#7c7468" opacity="0.6"/><ellipse cx="72.9" cy="67.6" rx="2.5" ry="1.7" transform="rotate(16 72.9 67.6)" fill="#736b6e" opacity="0.6"/><ellipse cx="30.7" cy="195.0" rx="3.2" ry="2.6" transform="rotate(94 30.7 195.0)" fill="#736b6e" opacity="0.6"/><ellipse cx="26.6" cy="271.8" rx="3.9" ry="2.6" transform="rotate(59 26.6 271.8)" fill="#45424a" opacity="0.6"/><ellipse cx="57.3" cy="94.5" rx="3.7" ry="2.7" transform="rotate(127 57.3 94.5)" fill="#3c4030" opacity="0.6"/><ellipse cx="66.1" cy="119.1" rx="3.4" ry="3.3" transform="rotate(84 66.1 119.1)" fill="#736b6e" opacity="0.6"/><ellipse cx="62.5" cy="125.1" rx="3.3" ry="2.5" transform="rotate(10 62.5 125.1)" fill="#66644f" opacity="0.6"/><ellipse cx="40.3" cy="204.6" rx="3.8" ry="3.3" transform="rotate(85 40.3 204.6)" fill="#7c7468" opacity="0.6"/><ellipse cx="36.2" cy="213.2" rx="3.1" ry="3.4" transform="rotate(153 36.2 213.2)" fill="#45424a" opacity="0.6"/><ellipse cx="62.9" cy="125.0" rx="3.7" ry="3.8" transform="rotate(56 62.9 125.0)" fill="#7c7468" opacity="0.6"/><ellipse cx="57.1" cy="246.6" rx="3.1" ry="3.5" transform="rotate(3 57.1 246.6)" fill="#45424a" opacity="0.6"/><ellipse cx="58.1" cy="179.4" rx="3.8" ry="3.7" transform="rotate(18 58.1 179.4)" fill="#7c7468" opacity="0.6"/><ellipse cx="60.2" cy="80.5" rx="3.4" ry="3.0" transform="rotate(34 60.2 80.5)" fill="#7c7468" opacity="0.6"/><ellipse cx="49.1" cy="145.5" rx="2.0" ry="3.9" transform="rotate(13 49.1 145.5)" fill="#736b6e" opacity="0.6"/><ellipse cx="67.8" cy="161.6" rx="3.2" ry="1.7" transform="rotate(106 67.8 161.6)" fill="#66644f" opacity="0.6"/><ellipse cx="43.3" cy="245.2" rx="2.7" ry="4.0" transform="rotate(110 43.3 245.2)" fill="#66644f" opacity="0.6"/><ellipse cx="27.6" cy="214.3" rx="3.5" ry="2.5" transform="rotate(121 27.6 214.3)" fill="#45424a" opacity="0.6"/><ellipse cx="72.6" cy="196.2" rx="1.9" ry="2.2" transform="rotate(84 72.6 196.2)" fill="#736b6e" opacity="0.6"/><ellipse cx="38.2" cy="162.7" rx="2.5" ry="2.6" transform="rotate(157 38.2 162.7)" fill="#66644f" opacity="0.6"/><ellipse cx="55.9" cy="204.8" rx="2.3" ry="2.1" transform="rotate(56 55.9 204.8)" fill="#66644f" opacity="0.6"/><ellipse cx="53.5" cy="225.4" rx="3.1" ry="2.5" transform="rotate(151 53.5 225.4)" fill="#736b6e" opacity="0.6"/><ellipse cx="50.8" cy="238.1" rx="1.9" ry="2.8" transform="rotate(16 50.8 238.1)" fill="#736b6e" opacity="0.6"/><ellipse cx="70.7" cy="59.2" rx="3.5" ry="2.4" transform="rotate(66 70.7 59.2)" fill="#66644f" opacity="0.6"/><ellipse cx="65.8" cy="144.0" rx="1.8" ry="3.3" transform="rotate(178 65.8 144.0)" fill="#45424a" opacity="0.6"/><ellipse cx="69.1" cy="111.3" rx="1.7" ry="2.1" transform="rotate(34 69.1 111.3)" fill="#66644f" opacity="0.6"/><ellipse cx="48.3" cy="123.9" rx="3.5" ry="3.4" transform="rotate(51 48.3 123.9)" fill="#7c7468" opacity="0.6"/><ellipse cx="45.6" cy="199.7" rx="3.9" ry="3.4" transform="rotate(135 45.6 199.7)" fill="#66644f" opacity="0.6"/><ellipse cx="47.3" cy="186.8" rx="1.7" ry="2.3" transform="rotate(87 47.3 186.8)" fill="#66644f" opacity="0.6"/><ellipse cx="70.7" cy="118.0" rx="2.7" ry="3.7" transform="rotate(34 70.7 118.0)" fill="#3c4030" opacity="0.6"/><ellipse cx="68.5" cy="246.6" rx="3.4" ry="2.6" transform="rotate(98 68.5 246.6)" fill="#45424a" opacity="0.6"/><ellipse cx="63.4" cy="176.5" rx="2.9" ry="2.7" transform="rotate(162 63.4 176.5)" fill="#66644f" opacity="0.6"/><ellipse cx="35.4" cy="257.1" rx="1.7" ry="1.9" transform="rotate(37 35.4 257.1)" fill="#66644f" opacity="0.6"/><ellipse cx="56.9" cy="208.9" rx="1.6" ry="3.9" transform="rotate(117 56.9 208.9)" fill="#7c7468" opacity="0.6"/><ellipse cx="64.8" cy="136.4" rx="3.4" ry="1.8" transform="rotate(94 64.8 136.4)" fill="#736b6e" opacity="0.6"/><ellipse cx="36.6" cy="218.7" rx="3.0" ry="2.5" transform="rotate(180 36.6 218.7)" fill="#3c4030" opacity="0.6"/><ellipse cx="60.2" cy="151.0" rx="3.7" ry="2.9" transform="rotate(112 60.2 151.0)" fill="#736b6e" opacity="0.6"/><ellipse cx="50.3" cy="162.9" rx="4.0" ry="4.0" transform="rotate(151 50.3 162.9)" fill="#3c4030" opacity="0.6"/><ellipse cx="42.9" cy="245.6" rx="2.6" ry="3.0" transform="rotate(21 42.9 245.6)" fill="#7c7468" opacity="0.6"/><ellipse cx="68.3" cy="50.8" rx="2.3" ry="3.5" transform="rotate(2 68.3 50.8)" fill="#736b6e" opacity="0.6"/><ellipse cx="54.8" cy="85.6" rx="1.6" ry="2.6" transform="rotate(177 54.8 85.6)" fill="#66644f" opacity="0.6"/><ellipse cx="71.4" cy="189.8" rx="1.6" ry="3.7" transform="rotate(43 71.4 189.8)" fill="#3c4030" opacity="0.6"/><ellipse cx="56.3" cy="163.7" rx="1.6" ry="2.9" transform="rotate(1 56.3 163.7)" fill="#7c7468" opacity="0.6"/><ellipse cx="36.6" cy="160.4" rx="2.1" ry="2.4" transform="rotate(0 36.6 160.4)" fill="#7c7468" opacity="0.6"/><ellipse cx="52.2" cy="240.6" rx="3.8" ry="3.3" transform="rotate(91 52.2 240.6)" fill="#45424a" opacity="0.6"/><ellipse cx="46.1" cy="234.5" rx="1.9" ry="3.9" transform="rotate(31 46.1 234.5)" fill="#45424a" opacity="0.6"/><ellipse cx="61.9" cy="229.2" rx="2.9" ry="2.7" transform="rotate(51 61.9 229.2)" fill="#3c4030" opacity="0.6"/><ellipse cx="72.3" cy="87.7" rx="3.3" ry="3.2" transform="rotate(118 72.3 87.7)" fill="#736b6e" opacity="0.6"/><ellipse cx="51.1" cy="214.7" rx="2.0" ry="2.5" transform="rotate(7 51.1 214.7)" fill="#45424a" opacity="0.6"/><ellipse cx="52.4" cy="212.4" rx="3.3" ry="2.7" transform="rotate(9 52.4 212.4)" fill="#45424a" opacity="0.6"/><ellipse cx="64.0" cy="177.3" rx="1.6" ry="2.0" transform="rotate(20 64.0 177.3)" fill="#7c7468" opacity="0.6"/><ellipse cx="68.4" cy="217.4" rx="1.7" ry="3.2" transform="rotate(156 68.4 217.4)" fill="#66644f" opacity="0.6"/><ellipse cx="71.0" cy="70.3" rx="2.3" ry="3.6" transform="rotate(153 71.0 70.3)" fill="#7c7468" opacity="0.6"/><ellipse cx="49.3" cy="132.3" rx="2.5" ry="3.3" transform="rotate(82 49.3 132.3)" fill="#736b6e" opacity="0.6"/><ellipse cx="53.0" cy="210.4" rx="3.9" ry="1.5" transform="rotate(75 53.0 210.4)" fill="#66644f" opacity="0.6"/><ellipse cx="47.6" cy="127.4" rx="2.8" ry="3.8" transform="rotate(36 47.6 127.4)" fill="#45424a" opacity="0.6"/><ellipse cx="56.1" cy="223.1" rx="2.6" ry="2.6" transform="rotate(62 56.1 223.1)" fill="#3c4030" opacity="0.6"/><ellipse cx="51.7" cy="181.5" rx="3.0" ry="2.6" transform="rotate(136 51.7 181.5)" fill="#7c7468" opacity="0.6"/><ellipse cx="38.3" cy="184.2" rx="2.7" ry="3.4" transform="rotate(118 38.3 184.2)" fill="#7c7468" opacity="0.6"/><ellipse cx="66.7" cy="197.8" rx="2.3" ry="2.0" transform="rotate(151 66.7 197.8)" fill="#66644f" opacity="0.6"/><ellipse cx="23.4" cy="223.7" rx="1.6" ry="4.0" transform="rotate(11 23.4 223.7)" fill="#7c7468" opacity="0.6"/><ellipse cx="32.1" cy="208.0" rx="2.4" ry="2.6" transform="rotate(75 32.1 208.0)" fill="#736b6e" opacity="0.6"/><ellipse cx="33.5" cy="171.5" rx="2.0" ry="1.9" transform="rotate(139 33.5 171.5)" fill="#736b6e" opacity="0.6"/><ellipse cx="52.8" cy="140.7" rx="2.2" ry="1.7" transform="rotate(86 52.8 140.7)" fill="#45424a" opacity="0.6"/><ellipse cx="71.1" cy="257.0" rx="2.0" ry="3.3" transform="rotate(157 71.1 257.0)" fill="#7c7468" opacity="0.6"/><ellipse cx="51.9" cy="127.2" rx="2.5" ry="3.1" transform="rotate(101 51.9 127.2)" fill="#66644f" opacity="0.6"/><ellipse cx="54.6" cy="65.6" rx="3.1" ry="2.5" transform="rotate(79 54.6 65.6)" fill="#3c4030" opacity="0.6"/><ellipse cx="63.0" cy="54.0" rx="3.9" ry="3.2" transform="rotate(10 63.0 54.0)" fill="#3c4030" opacity="0.6"/><ellipse cx="40.1" cy="157.1" rx="1.8" ry="2.8" transform="rotate(94 40.1 157.1)" fill="#3c4030" opacity="0.6"/><ellipse cx="49.9" cy="203.3" rx="3.3" ry="2.1" transform="rotate(4 49.9 203.3)" fill="#3c4030" opacity="0.6"/><ellipse cx="34.2" cy="217.2" rx="3.1" ry="2.9" transform="rotate(122 34.2 217.2)" fill="#45424a" opacity="0.6"/><ellipse cx="35.1" cy="192.5" rx="2.7" ry="3.9" transform="rotate(64 35.1 192.5)" fill="#66644f" opacity="0.6"/><ellipse cx="55.7" cy="55.6" rx="2.4" ry="3.0" transform="rotate(63 55.7 55.6)" fill="#66644f" opacity="0.6"/><ellipse cx="62.3" cy="249.7" rx="2.8" ry="3.9" transform="rotate(5 62.3 249.7)" fill="#66644f" opacity="0.6"/><ellipse cx="41.9" cy="185.9" rx="2.4" ry="3.9" transform="rotate(96 41.9 185.9)" fill="#736b6e" opacity="0.6"/><ellipse cx="65.4" cy="50.6" rx="2.9" ry="3.0" transform="rotate(78 65.4 50.6)" fill="#3c4030" opacity="0.6"/><ellipse cx="59.8" cy="206.8" rx="2.4" ry="2.0" transform="rotate(4 59.8 206.8)" fill="#736b6e" opacity="0.6"/><ellipse cx="71.3" cy="169.5" rx="3.8" ry="2.0" transform="rotate(11 71.3 169.5)" fill="#66644f" opacity="0.6"/><ellipse cx="40.3" cy="153.5" rx="2.2" ry="3.1" transform="rotate(9 40.3 153.5)" fill="#7c7468" opacity="0.6"/><ellipse cx="72.8" cy="255.8" rx="2.6" ry="3.5" transform="rotate(28 72.8 255.8)" fill="#45424a" opacity="0.6"/><ellipse cx="71.6" cy="171.0" rx="2.8" ry="2.6" transform="rotate(79 71.6 171.0)" fill="#3c4030" opacity="0.6"/><ellipse cx="19.3" cy="203.4" rx="3.9" ry="3.1" transform="rotate(103 19.3 203.4)" fill="#66644f" opacity="0.6"/><ellipse cx="71.9" cy="146.2" rx="2.0" ry="2.6" transform="rotate(139 71.9 146.2)" fill="#66644f" opacity="0.6"/><ellipse cx="59.3" cy="263.4" rx="3.6" ry="3.1" transform="rotate(5 59.3 263.4)" fill="#66644f" opacity="0.6"/><ellipse cx="69.2" cy="37.9" rx="3.8" ry="2.7" transform="rotate(47 69.2 37.9)" fill="#66644f" opacity="0.6"/><ellipse cx="31.6" cy="205.0" rx="2.4" ry="3.6" transform="rotate(83 31.6 205.0)" fill="#45424a" opacity="0.6"/><ellipse cx="48.6" cy="161.9" rx="2.7" ry="3.9" transform="rotate(136 48.6 161.9)" fill="#3c4030" opacity="0.6"/><ellipse cx="24.0" cy="198.3" rx="2.1" ry="3.9" transform="rotate(119 24.0 198.3)" fill="#3c4030" opacity="0.6"/><ellipse cx="52.3" cy="142.5" rx="3.9" ry="3.9" transform="rotate(70 52.3 142.5)" fill="#7c7468" opacity="0.6"/><ellipse cx="69.8" cy="204.9" rx="3.3" ry="3.8" transform="rotate(100 69.8 204.9)" fill="#45424a" opacity="0.6"/><ellipse cx="26.1" cy="193.5" rx="3.1" ry="2.5" transform="rotate(90 26.1 193.5)" fill="#45424a" opacity="0.6"/><ellipse cx="40.4" cy="253.5" rx="2.9" ry="2.5" transform="rotate(116 40.4 253.5)" fill="#66644f" opacity="0.6"/><ellipse cx="54.9" cy="194.2" rx="2.5" ry="1.6" transform="rotate(82 54.9 194.2)" fill="#736b6e" opacity="0.6"/><ellipse cx="40.3" cy="213.7" rx="3.8" ry="3.5" transform="rotate(95 40.3 213.7)" fill="#3c4030" opacity="0.6"/><ellipse cx="40.1" cy="255.3" rx="2.6" ry="1.7" transform="rotate(3 40.1 255.3)" fill="#736b6e" opacity="0.6"/><ellipse cx="40.3" cy="190.3" rx="3.0" ry="1.5" transform="rotate(87 40.3 190.3)" fill="#7c7468" opacity="0.6"/><ellipse cx="29.2" cy="212.0" rx="2.3" ry="2.3" transform="rotate(141 29.2 212.0)" fill="#3c4030" opacity="0.6"/><ellipse cx="49.2" cy="208.5" rx="2.7" ry="2.2" transform="rotate(91 49.2 208.5)" fill="#7c7468" opacity="0.6"/><ellipse cx="38.4" cy="226.7" rx="3.7" ry="2.8" transform="rotate(117 38.4 226.7)" fill="#7c7468" opacity="0.6"/><ellipse cx="30.4" cy="174.4" rx="2.1" ry="3.7" transform="rotate(106 30.4 174.4)" fill="#7c7468" opacity="0.6"/><ellipse cx="60.2" cy="211.8" rx="3.1" ry="3.2" transform="rotate(131 60.2 211.8)" fill="#7c7468" opacity="0.6"/><ellipse cx="68.9" cy="237.1" rx="3.0" ry="3.5" transform="rotate(24 68.9 237.1)" fill="#45424a" opacity="0.6"/><ellipse cx="72.6" cy="84.8" rx="3.1" ry="2.6" transform="rotate(115 72.6 84.8)" fill="#45424a" opacity="0.6"/><ellipse cx="33.0" cy="181.9" rx="1.6" ry="2.4" transform="rotate(21 33.0 181.9)" fill="#736b6e" opacity="0.6"/><ellipse cx="49.4" cy="146.8" rx="1.8" ry="3.9" transform="rotate(32 49.4 146.8)" fill="#3c4030" opacity="0.6"/><ellipse cx="68.1" cy="187.7" rx="2.2" ry="3.7" transform="rotate(97 68.1 187.7)" fill="#7c7468" opacity="0.6"/><ellipse cx="56.9" cy="103.0" rx="3.8" ry="2.9" transform="rotate(101 56.9 103.0)" fill="#736b6e" opacity="0.6"/><ellipse cx="50.3" cy="144.7" rx="2.0" ry="1.6" transform="rotate(61 50.3 144.7)" fill="#736b6e" opacity="0.6"/><ellipse cx="52.0" cy="186.3" rx="3.5" ry="3.1" transform="rotate(153 52.0 186.3)" fill="#45424a" opacity="0.6"/><ellipse cx="62.8" cy="86.0" rx="2.3" ry="2.2" transform="rotate(67 62.8 86.0)" fill="#736b6e" opacity="0.6"/><ellipse cx="45.8" cy="255.9" rx="3.9" ry="3.9" transform="rotate(111 45.8 255.9)" fill="#66644f" opacity="0.6"/><ellipse cx="58.9" cy="107.4" rx="3.4" ry="3.4" transform="rotate(61 58.9 107.4)" fill="#45424a" opacity="0.6"/><ellipse cx="57.6" cy="241.2" rx="3.4" ry="1.8" transform="rotate(133 57.6 241.2)" fill="#3c4030" opacity="0.6"/><ellipse cx="55.2" cy="148.8" rx="2.2" ry="1.7" transform="rotate(113 55.2 148.8)" fill="#736b6e" opacity="0.6"/><ellipse cx="25.9" cy="248.3" rx="3.3" ry="3.9" transform="rotate(140 25.9 248.3)" fill="#7c7468" opacity="0.6"/><ellipse cx="30.6" cy="208.4" rx="3.4" ry="3.5" transform="rotate(178 30.6 208.4)" fill="#45424a" opacity="0.6"/><ellipse cx="54.7" cy="83.0" rx="3.1" ry="1.6" transform="rotate(175 54.7 83.0)" fill="#3c4030" opacity="0.6"/><ellipse cx="68.9" cy="190.7" rx="2.4" ry="2.0" transform="rotate(172 68.9 190.7)" fill="#736b6e" opacity="0.6"/><ellipse cx="24.9" cy="263.3" rx="1.9" ry="3.4" transform="rotate(133 24.9 263.3)" fill="#66644f" opacity="0.6"/><ellipse cx="51.8" cy="202.4" rx="1.8" ry="2.8" transform="rotate(103 51.8 202.4)" fill="#7c7468" opacity="0.6"/><ellipse cx="27.8" cy="192.8" rx="3.1" ry="3.3" transform="rotate(97 27.8 192.8)" fill="#66644f" opacity="0.6"/><ellipse cx="55.3" cy="195.6" rx="2.6" ry="2.3" transform="rotate(9 55.3 195.6)" fill="#736b6e" opacity="0.6"/><ellipse cx="39.7" cy="168.9" rx="3.4" ry="2.1" transform="rotate(100 39.7 168.9)" fill="#66644f" opacity="0.6"/><ellipse cx="58.1" cy="260.5" rx="2.5" ry="4.0" transform="rotate(116 58.1 260.5)" fill="#3c4030" opacity="0.6"/>
<ellipse cx="234.5" cy="160.4" rx="2.6" ry="3.3" transform="rotate(113 234.5 160.4)" fill="#7f7e70" opacity="0.6"/><ellipse cx="277.7" cy="162.0" rx="2.1" ry="3.7" transform="rotate(97 277.7 162.0)" fill="#88887c" opacity="0.6"/><ellipse cx="279.1" cy="182.8" rx="2.0" ry="3.4" transform="rotate(156 279.1 182.8)" fill="#88887c" opacity="0.6"/><ellipse cx="262.9" cy="35.6" rx="3.8" ry="2.0" transform="rotate(172 262.9 35.6)" fill="#7f7e70" opacity="0.6"/><ellipse cx="246.3" cy="39.3" rx="4.1" ry="2.9" transform="rotate(129 246.3 39.3)" fill="#5a614c" opacity="0.6"/><ellipse cx="263.9" cy="221.0" rx="2.8" ry="4.3" transform="rotate(158 263.9 221.0)" fill="#7f7e70" opacity="0.6"/><ellipse cx="196.7" cy="148.8" rx="2.3" ry="3.5" transform="rotate(140 196.7 148.8)" fill="#75717a" opacity="0.6"/><ellipse cx="268.8" cy="228.7" rx="3.2" ry="3.1" transform="rotate(73 268.8 228.7)" fill="#4d5342" opacity="0.6"/><ellipse cx="220.5" cy="235.1" rx="4.4" ry="4.2" transform="rotate(102 220.5 235.1)" fill="#4d5342" opacity="0.6"/><ellipse cx="239.9" cy="61.4" rx="2.9" ry="3.4" transform="rotate(87 239.9 61.4)" fill="#75717a" opacity="0.6"/><ellipse cx="339.7" cy="128.9" rx="2.0" ry="2.4" transform="rotate(138 339.7 128.9)" fill="#7f7e70" opacity="0.6"/><ellipse cx="198.3" cy="177.0" rx="1.6" ry="3.7" transform="rotate(60 198.3 177.0)" fill="#75717a" opacity="0.6"/><ellipse cx="247.9" cy="50.2" rx="3.3" ry="1.6" transform="rotate(36 247.9 50.2)" fill="#5a614c" opacity="0.6"/><ellipse cx="244.5" cy="94.2" rx="3.6" ry="4.4" transform="rotate(61 244.5 94.2)" fill="#75717a" opacity="0.6"/><ellipse cx="260.6" cy="140.7" rx="3.1" ry="3.4" transform="rotate(107 260.6 140.7)" fill="#88887c" opacity="0.6"/><ellipse cx="209.2" cy="261.6" rx="3.9" ry="2.3" transform="rotate(114 209.2 261.6)" fill="#4d5342" opacity="0.6"/><ellipse cx="238.3" cy="103.5" rx="2.5" ry="3.9" transform="rotate(178 238.3 103.5)" fill="#75717a" opacity="0.6"/><ellipse cx="193.7" cy="177.3" rx="3.4" ry="1.7" transform="rotate(113 193.7 177.3)" fill="#5a614c" opacity="0.6"/><ellipse cx="256.0" cy="248.5" rx="3.3" ry="2.3" transform="rotate(88 256.0 248.5)" fill="#88887c" opacity="0.6"/><ellipse cx="201.3" cy="191.5" rx="4.4" ry="2.3" transform="rotate(82 201.3 191.5)" fill="#88887c" opacity="0.6"/><ellipse cx="302.5" cy="73.9" rx="2.1" ry="3.8" transform="rotate(152 302.5 73.9)" fill="#75717a" opacity="0.6"/><ellipse cx="246.2" cy="121.0" rx="3.8" ry="1.6" transform="rotate(102 246.2 121.0)" fill="#4d5342" opacity="0.6"/><ellipse cx="248.0" cy="84.5" rx="3.9" ry="2.2" transform="rotate(34 248.0 84.5)" fill="#5a614c" opacity="0.6"/><ellipse cx="311.5" cy="54.9" rx="3.3" ry="4.3" transform="rotate(121 311.5 54.9)" fill="#4d5342" opacity="0.6"/><ellipse cx="272.0" cy="233.9" rx="2.0" ry="2.5" transform="rotate(117 272.0 233.9)" fill="#88887c" opacity="0.6"/><ellipse cx="274.4" cy="85.1" rx="1.9" ry="3.1" transform="rotate(34 274.4 85.1)" fill="#88887c" opacity="0.6"/><ellipse cx="224.3" cy="97.7" rx="3.9" ry="3.4" transform="rotate(145 224.3 97.7)" fill="#75717a" opacity="0.6"/><ellipse cx="300.2" cy="131.4" rx="3.1" ry="4.0" transform="rotate(84 300.2 131.4)" fill="#5a614c" opacity="0.6"/><ellipse cx="244.3" cy="166.1" rx="1.6" ry="2.7" transform="rotate(36 244.3 166.1)" fill="#5a614c" opacity="0.6"/><ellipse cx="231.5" cy="207.9" rx="4.0" ry="3.5" transform="rotate(93 231.5 207.9)" fill="#75717a" opacity="0.6"/><ellipse cx="235.7" cy="40.3" rx="3.9" ry="3.0" transform="rotate(36 235.7 40.3)" fill="#5a614c" opacity="0.6"/><ellipse cx="297.9" cy="35.1" rx="3.7" ry="2.0" transform="rotate(54 297.9 35.1)" fill="#7f7e70" opacity="0.6"/><ellipse cx="288.2" cy="129.6" rx="4.3" ry="3.3" transform="rotate(61 288.2 129.6)" fill="#75717a" opacity="0.6"/><ellipse cx="371.8" cy="159.7" rx="3.9" ry="1.7" transform="rotate(40 371.8 159.7)" fill="#7f7e70" opacity="0.6"/><ellipse cx="222.0" cy="218.8" rx="4.3" ry="3.9" transform="rotate(148 222.0 218.8)" fill="#7f7e70" opacity="0.6"/><ellipse cx="281.2" cy="166.7" rx="2.7" ry="3.8" transform="rotate(45 281.2 166.7)" fill="#88887c" opacity="0.6"/><ellipse cx="288.6" cy="131.8" rx="2.9" ry="3.8" transform="rotate(0 288.6 131.8)" fill="#7f7e70" opacity="0.6"/><ellipse cx="199.3" cy="145.9" rx="1.6" ry="3.6" transform="rotate(93 199.3 145.9)" fill="#5a614c" opacity="0.6"/><ellipse cx="249.1" cy="106.2" rx="2.6" ry="3.4" transform="rotate(106 249.1 106.2)" fill="#75717a" opacity="0.6"/><ellipse cx="239.5" cy="265.2" rx="2.8" ry="1.9" transform="rotate(1 239.5 265.2)" fill="#5a614c" opacity="0.6"/><ellipse cx="338.7" cy="165.7" rx="1.6" ry="2.9" transform="rotate(117 338.7 165.7)" fill="#88887c" opacity="0.6"/><ellipse cx="261.1" cy="221.1" rx="3.4" ry="2.8" transform="rotate(67 261.1 221.1)" fill="#5a614c" opacity="0.6"/><ellipse cx="332.1" cy="106.3" rx="4.4" ry="2.8" transform="rotate(3 332.1 106.3)" fill="#4d5342" opacity="0.6"/><ellipse cx="290.2" cy="196.1" rx="1.7" ry="2.8" transform="rotate(77 290.2 196.1)" fill="#7f7e70" opacity="0.6"/><ellipse cx="239.0" cy="141.5" rx="1.9" ry="3.9" transform="rotate(119 239.0 141.5)" fill="#88887c" opacity="0.6"/><ellipse cx="327.2" cy="165.1" rx="1.8" ry="3.3" transform="rotate(1 327.2 165.1)" fill="#4d5342" opacity="0.6"/><ellipse cx="234.1" cy="123.7" rx="3.1" ry="3.2" transform="rotate(119 234.1 123.7)" fill="#5a614c" opacity="0.6"/><ellipse cx="223.5" cy="37.5" rx="4.0" ry="1.9" transform="rotate(152 223.5 37.5)" fill="#5a614c" opacity="0.6"/><ellipse cx="196.8" cy="213.1" rx="3.0" ry="3.6" transform="rotate(19 196.8 213.1)" fill="#7f7e70" opacity="0.6"/><ellipse cx="250.6" cy="165.1" rx="4.0" ry="2.2" transform="rotate(32 250.6 165.1)" fill="#4d5342" opacity="0.6"/><ellipse cx="274.9" cy="197.2" rx="4.3" ry="2.3" transform="rotate(108 274.9 197.2)" fill="#75717a" opacity="0.6"/><ellipse cx="260.2" cy="87.5" rx="4.3" ry="4.0" transform="rotate(174 260.2 87.5)" fill="#5a614c" opacity="0.6"/><ellipse cx="316.0" cy="154.0" rx="3.0" ry="3.4" transform="rotate(162 316.0 154.0)" fill="#4d5342" opacity="0.6"/><ellipse cx="220.4" cy="149.5" rx="3.0" ry="3.6" transform="rotate(171 220.4 149.5)" fill="#88887c" opacity="0.6"/><ellipse cx="324.4" cy="75.9" rx="2.3" ry="2.1" transform="rotate(105 324.4 75.9)" fill="#75717a" opacity="0.6"/><ellipse cx="301.3" cy="170.0" rx="4.5" ry="4.2" transform="rotate(55 301.3 170.0)" fill="#75717a" opacity="0.6"/><ellipse cx="279.7" cy="122.3" rx="2.0" ry="2.6" transform="rotate(58 279.7 122.3)" fill="#4d5342" opacity="0.6"/><ellipse cx="268.2" cy="196.6" rx="3.6" ry="2.1" transform="rotate(104 268.2 196.6)" fill="#88887c" opacity="0.6"/><ellipse cx="195.2" cy="266.3" rx="1.7" ry="4.3" transform="rotate(141 195.2 266.3)" fill="#7f7e70" opacity="0.6"/><ellipse cx="277.4" cy="86.2" rx="2.2" ry="3.7" transform="rotate(122 277.4 86.2)" fill="#4d5342" opacity="0.6"/><ellipse cx="225.5" cy="93.0" rx="2.1" ry="3.6" transform="rotate(155 225.5 93.0)" fill="#75717a" opacity="0.6"/><ellipse cx="221.7" cy="42.6" rx="2.0" ry="1.8" transform="rotate(144 221.7 42.6)" fill="#7f7e70" opacity="0.6"/><ellipse cx="207.3" cy="228.8" rx="2.4" ry="2.6" transform="rotate(104 207.3 228.8)" fill="#75717a" opacity="0.6"/><ellipse cx="191.3" cy="111.0" rx="2.8" ry="3.0" transform="rotate(38 191.3 111.0)" fill="#88887c" opacity="0.6"/><ellipse cx="328.8" cy="147.6" rx="1.9" ry="2.5" transform="rotate(159 328.8 147.6)" fill="#7f7e70" opacity="0.6"/><ellipse cx="314.4" cy="58.6" rx="4.2" ry="4.2" transform="rotate(17 314.4 58.6)" fill="#75717a" opacity="0.6"/><ellipse cx="316.9" cy="119.0" rx="2.9" ry="3.5" transform="rotate(121 316.9 119.0)" fill="#75717a" opacity="0.6"/><ellipse cx="210.0" cy="254.9" rx="2.5" ry="3.2" transform="rotate(95 210.0 254.9)" fill="#5a614c" opacity="0.6"/><ellipse cx="285.1" cy="46.0" rx="2.4" ry="3.7" transform="rotate(134 285.1 46.0)" fill="#4d5342" opacity="0.6"/><ellipse cx="223.5" cy="242.0" rx="3.5" ry="1.9" transform="rotate(168 223.5 242.0)" fill="#4d5342" opacity="0.6"/><ellipse cx="311.5" cy="131.2" rx="2.4" ry="2.1" transform="rotate(87 311.5 131.2)" fill="#4d5342" opacity="0.6"/><ellipse cx="321.9" cy="57.4" rx="2.0" ry="3.2" transform="rotate(104 321.9 57.4)" fill="#5a614c" opacity="0.6"/><ellipse cx="257.2" cy="94.7" rx="2.7" ry="4.1" transform="rotate(8 257.2 94.7)" fill="#88887c" opacity="0.6"/><ellipse cx="240.7" cy="196.1" rx="3.0" ry="4.1" transform="rotate(170 240.7 196.1)" fill="#5a614c" opacity="0.6"/><ellipse cx="256.0" cy="231.9" rx="1.8" ry="2.3" transform="rotate(18 256.0 231.9)" fill="#7f7e70" opacity="0.6"/><ellipse cx="211.0" cy="196.8" rx="3.2" ry="3.5" transform="rotate(70 211.0 196.8)" fill="#4d5342" opacity="0.6"/><ellipse cx="300.7" cy="66.6" rx="2.7" ry="2.1" transform="rotate(95 300.7 66.6)" fill="#88887c" opacity="0.6"/><ellipse cx="223.5" cy="237.0" rx="2.6" ry="2.4" transform="rotate(152 223.5 237.0)" fill="#5a614c" opacity="0.6"/><ellipse cx="261.6" cy="162.4" rx="3.2" ry="3.4" transform="rotate(176 261.6 162.4)" fill="#75717a" opacity="0.6"/><ellipse cx="195.6" cy="77.0" rx="3.4" ry="1.8" transform="rotate(136 195.6 77.0)" fill="#4d5342" opacity="0.6"/><ellipse cx="282.0" cy="155.6" rx="2.9" ry="2.1" transform="rotate(95 282.0 155.6)" fill="#7f7e70" opacity="0.6"/><ellipse cx="243.0" cy="187.2" rx="2.0" ry="2.9" transform="rotate(16 243.0 187.2)" fill="#7f7e70" opacity="0.6"/><ellipse cx="194.8" cy="177.9" rx="3.0" ry="3.0" transform="rotate(3 194.8 177.9)" fill="#75717a" opacity="0.6"/><ellipse cx="250.4" cy="237.4" rx="3.6" ry="1.9" transform="rotate(154 250.4 237.4)" fill="#88887c" opacity="0.6"/><ellipse cx="205.0" cy="266.6" rx="4.5" ry="2.1" transform="rotate(11 205.0 266.6)" fill="#4d5342" opacity="0.6"/><ellipse cx="271.7" cy="210.6" rx="3.0" ry="1.8" transform="rotate(8 271.7 210.6)" fill="#7f7e70" opacity="0.6"/><ellipse cx="263.2" cy="143.7" rx="1.7" ry="4.1" transform="rotate(38 263.2 143.7)" fill="#5a614c" opacity="0.6"/><ellipse cx="247.0" cy="141.6" rx="3.8" ry="2.7" transform="rotate(33 247.0 141.6)" fill="#7f7e70" opacity="0.6"/><ellipse cx="324.6" cy="118.6" rx="2.6" ry="3.1" transform="rotate(107 324.6 118.6)" fill="#4d5342" opacity="0.6"/><ellipse cx="238.4" cy="119.2" rx="4.1" ry="3.1" transform="rotate(29 238.4 119.2)" fill="#7f7e70" opacity="0.6"/><ellipse cx="221.9" cy="127.3" rx="2.0" ry="1.6" transform="rotate(20 221.9 127.3)" fill="#4d5342" opacity="0.6"/><ellipse cx="272.8" cy="75.6" rx="4.0" ry="2.7" transform="rotate(57 272.8 75.6)" fill="#7f7e70" opacity="0.6"/><ellipse cx="265.4" cy="125.6" rx="1.6" ry="4.4" transform="rotate(39 265.4 125.6)" fill="#7f7e70" opacity="0.6"/><ellipse cx="262.8" cy="77.0" rx="2.5" ry="1.8" transform="rotate(164 262.8 77.0)" fill="#88887c" opacity="0.6"/><ellipse cx="199.7" cy="203.7" rx="2.3" ry="3.9" transform="rotate(84 199.7 203.7)" fill="#75717a" opacity="0.6"/><ellipse cx="281.4" cy="164.4" rx="1.6" ry="2.5" transform="rotate(179 281.4 164.4)" fill="#75717a" opacity="0.6"/><ellipse cx="207.5" cy="193.0" rx="4.4" ry="3.3" transform="rotate(1 207.5 193.0)" fill="#7f7e70" opacity="0.6"/><ellipse cx="284.1" cy="145.7" rx="2.1" ry="3.0" transform="rotate(60 284.1 145.7)" fill="#5a614c" opacity="0.6"/><ellipse cx="253.6" cy="145.0" rx="2.6" ry="3.5" transform="rotate(69 253.6 145.0)" fill="#88887c" opacity="0.6"/><ellipse cx="308.1" cy="125.1" rx="4.3" ry="2.1" transform="rotate(74 308.1 125.1)" fill="#88887c" opacity="0.6"/><ellipse cx="262.9" cy="110.9" rx="3.5" ry="4.3" transform="rotate(31 262.9 110.9)" fill="#5a614c" opacity="0.6"/><ellipse cx="346.3" cy="162.6" rx="4.3" ry="2.6" transform="rotate(75 346.3 162.6)" fill="#4d5342" opacity="0.6"/><ellipse cx="273.1" cy="197.8" rx="2.5" ry="4.0" transform="rotate(91 273.1 197.8)" fill="#88887c" opacity="0.6"/><ellipse cx="222.1" cy="209.4" rx="4.0" ry="1.8" transform="rotate(125 222.1 209.4)" fill="#7f7e70" opacity="0.6"/><ellipse cx="249.9" cy="173.8" rx="3.9" ry="1.7" transform="rotate(110 249.9 173.8)" fill="#7f7e70" opacity="0.6"/><ellipse cx="274.1" cy="243.7" rx="3.7" ry="2.5" transform="rotate(67 274.1 243.7)" fill="#7f7e70" opacity="0.6"/><ellipse cx="226.4" cy="217.7" rx="4.2" ry="2.5" transform="rotate(56 226.4 217.7)" fill="#5a614c" opacity="0.6"/><ellipse cx="205.1" cy="185.2" rx="2.2" ry="1.6" transform="rotate(27 205.1 185.2)" fill="#4d5342" opacity="0.6"/><ellipse cx="299.5" cy="34.8" rx="2.2" ry="4.4" transform="rotate(40 299.5 34.8)" fill="#88887c" opacity="0.6"/><ellipse cx="286.4" cy="151.2" rx="4.2" ry="2.5" transform="rotate(159 286.4 151.2)" fill="#4d5342" opacity="0.6"/><ellipse cx="277.4" cy="178.9" rx="1.6" ry="3.9" transform="rotate(108 277.4 178.9)" fill="#7f7e70" opacity="0.6"/><ellipse cx="227.3" cy="242.8" rx="1.8" ry="2.9" transform="rotate(40 227.3 242.8)" fill="#88887c" opacity="0.6"/><ellipse cx="210.4" cy="146.6" rx="3.5" ry="3.6" transform="rotate(73 210.4 146.6)" fill="#5a614c" opacity="0.6"/><ellipse cx="335.5" cy="100.9" rx="4.3" ry="2.8" transform="rotate(68 335.5 100.9)" fill="#7f7e70" opacity="0.6"/><ellipse cx="290.8" cy="141.5" rx="3.7" ry="1.7" transform="rotate(62 290.8 141.5)" fill="#5a614c" opacity="0.6"/><ellipse cx="318.3" cy="118.1" rx="3.9" ry="1.7" transform="rotate(93 318.3 118.1)" fill="#4d5342" opacity="0.6"/><ellipse cx="255.6" cy="267.0" rx="2.5" ry="2.8" transform="rotate(15 255.6 267.0)" fill="#4d5342" opacity="0.6"/><ellipse cx="250.4" cy="208.9" rx="2.1" ry="2.2" transform="rotate(158 250.4 208.9)" fill="#88887c" opacity="0.6"/><ellipse cx="276.7" cy="199.9" rx="4.1" ry="2.6" transform="rotate(34 276.7 199.9)" fill="#88887c" opacity="0.6"/><ellipse cx="367.6" cy="146.3" rx="3.8" ry="2.7" transform="rotate(180 367.6 146.3)" fill="#7f7e70" opacity="0.6"/><ellipse cx="244.6" cy="252.5" rx="2.1" ry="1.8" transform="rotate(130 244.6 252.5)" fill="#75717a" opacity="0.6"/><ellipse cx="284.2" cy="46.5" rx="2.9" ry="2.1" transform="rotate(37 284.2 46.5)" fill="#5a614c" opacity="0.6"/><ellipse cx="270.9" cy="113.4" rx="3.7" ry="3.7" transform="rotate(52 270.9 113.4)" fill="#7f7e70" opacity="0.6"/><ellipse cx="273.0" cy="246.4" rx="2.8" ry="2.1" transform="rotate(88 273.0 246.4)" fill="#75717a" opacity="0.6"/><ellipse cx="353.8" cy="119.9" rx="2.0" ry="2.4" transform="rotate(83 353.8 119.9)" fill="#88887c" opacity="0.6"/><ellipse cx="195.5" cy="120.1" rx="2.6" ry="4.0" transform="rotate(135 195.5 120.1)" fill="#88887c" opacity="0.6"/><ellipse cx="191.9" cy="63.0" rx="3.1" ry="3.1" transform="rotate(30 191.9 63.0)" fill="#7f7e70" opacity="0.6"/><ellipse cx="190.4" cy="264.1" rx="3.9" ry="2.6" transform="rotate(174 190.4 264.1)" fill="#75717a" opacity="0.6"/><ellipse cx="224.6" cy="35.1" rx="2.8" ry="2.5" transform="rotate(9 224.6 35.1)" fill="#88887c" opacity="0.6"/><ellipse cx="341.7" cy="138.2" rx="2.3" ry="3.5" transform="rotate(90 341.7 138.2)" fill="#75717a" opacity="0.6"/><ellipse cx="253.5" cy="38.9" rx="1.6" ry="4.5" transform="rotate(30 253.5 38.9)" fill="#88887c" opacity="0.6"/><ellipse cx="236.3" cy="64.0" rx="3.8" ry="3.9" transform="rotate(92 236.3 64.0)" fill="#75717a" opacity="0.6"/><ellipse cx="293.2" cy="98.0" rx="2.0" ry="1.6" transform="rotate(116 293.2 98.0)" fill="#5a614c" opacity="0.6"/><ellipse cx="277.4" cy="189.1" rx="4.3" ry="3.9" transform="rotate(108 277.4 189.1)" fill="#5a614c" opacity="0.6"/><ellipse cx="259.4" cy="181.2" rx="2.4" ry="1.7" transform="rotate(25 259.4 181.2)" fill="#88887c" opacity="0.6"/><ellipse cx="209.0" cy="214.7" rx="2.8" ry="2.3" transform="rotate(46 209.0 214.7)" fill="#75717a" opacity="0.6"/><ellipse cx="248.9" cy="155.2" rx="2.7" ry="4.1" transform="rotate(149 248.9 155.2)" fill="#88887c" opacity="0.6"/><ellipse cx="304.5" cy="39.2" rx="3.2" ry="3.1" transform="rotate(88 304.5 39.2)" fill="#75717a" opacity="0.6"/><ellipse cx="240.0" cy="134.7" rx="1.7" ry="1.6" transform="rotate(88 240.0 134.7)" fill="#5a614c" opacity="0.6"/><ellipse cx="226.5" cy="249.3" rx="2.0" ry="2.6" transform="rotate(149 226.5 249.3)" fill="#75717a" opacity="0.6"/><ellipse cx="199.2" cy="82.6" rx="1.6" ry="2.5" transform="rotate(110 199.2 82.6)" fill="#88887c" opacity="0.6"/><ellipse cx="242.7" cy="63.0" rx="2.3" ry="4.4" transform="rotate(14 242.7 63.0)" fill="#4d5342" opacity="0.6"/><ellipse cx="320.6" cy="59.2" rx="3.4" ry="1.9" transform="rotate(151 320.6 59.2)" fill="#7f7e70" opacity="0.6"/><ellipse cx="319.4" cy="133.8" rx="4.5" ry="2.9" transform="rotate(52 319.4 133.8)" fill="#88887c" opacity="0.6"/><ellipse cx="198.8" cy="87.7" rx="4.4" ry="1.9" transform="rotate(163 198.8 87.7)" fill="#4d5342" opacity="0.6"/><ellipse cx="319.0" cy="142.3" rx="2.7" ry="1.5" transform="rotate(71 319.0 142.3)" fill="#4d5342" opacity="0.6"/><ellipse cx="225.5" cy="226.2" rx="4.1" ry="1.6" transform="rotate(173 225.5 226.2)" fill="#88887c" opacity="0.6"/><ellipse cx="230.1" cy="215.8" rx="2.8" ry="2.0" transform="rotate(5 230.1 215.8)" fill="#7f7e70" opacity="0.6"/><ellipse cx="214.6" cy="66.3" rx="1.9" ry="2.6" transform="rotate(165 214.6 66.3)" fill="#7f7e70" opacity="0.6"/><ellipse cx="259.4" cy="65.6" rx="2.9" ry="1.7" transform="rotate(98 259.4 65.6)" fill="#5a614c" opacity="0.6"/><ellipse cx="209.4" cy="231.9" rx="2.9" ry="3.7" transform="rotate(96 209.4 231.9)" fill="#5a614c" opacity="0.6"/><ellipse cx="296.4" cy="141.5" rx="3.1" ry="2.8" transform="rotate(96 296.4 141.5)" fill="#5a614c" opacity="0.6"/><ellipse cx="227.5" cy="172.3" rx="4.3" ry="4.0" transform="rotate(32 227.5 172.3)" fill="#4d5342" opacity="0.6"/><ellipse cx="249.3" cy="230.2" rx="1.9" ry="3.3" transform="rotate(10 249.3 230.2)" fill="#88887c" opacity="0.6"/><ellipse cx="192.6" cy="237.3" rx="3.9" ry="4.5" transform="rotate(123 192.6 237.3)" fill="#88887c" opacity="0.6"/><ellipse cx="320.3" cy="96.9" rx="2.9" ry="3.2" transform="rotate(59 320.3 96.9)" fill="#88887c" opacity="0.6"/><ellipse cx="302.3" cy="108.3" rx="3.0" ry="2.6" transform="rotate(57 302.3 108.3)" fill="#75717a" opacity="0.6"/><ellipse cx="325.2" cy="113.2" rx="3.6" ry="2.5" transform="rotate(176 325.2 113.2)" fill="#75717a" opacity="0.6"/><ellipse cx="240.4" cy="61.1" rx="3.0" ry="3.7" transform="rotate(61 240.4 61.1)" fill="#4d5342" opacity="0.6"/><ellipse cx="242.8" cy="260.2" rx="2.9" ry="2.9" transform="rotate(96 242.8 260.2)" fill="#4d5342" opacity="0.6"/><ellipse cx="272.6" cy="177.8" rx="1.7" ry="2.8" transform="rotate(153 272.6 177.8)" fill="#75717a" opacity="0.6"/><ellipse cx="201.1" cy="233.7" rx="2.7" ry="4.4" transform="rotate(66 201.1 233.7)" fill="#4d5342" opacity="0.6"/><ellipse cx="200.4" cy="148.6" rx="1.9" ry="3.7" transform="rotate(70 200.4 148.6)" fill="#88887c" opacity="0.6"/><ellipse cx="257.6" cy="102.9" rx="3.0" ry="2.7" transform="rotate(67 257.6 102.9)" fill="#7f7e70" opacity="0.6"/><ellipse cx="299.3" cy="66.5" rx="2.2" ry="2.6" transform="rotate(111 299.3 66.5)" fill="#4d5342" opacity="0.6"/><ellipse cx="271.4" cy="78.5" rx="1.6" ry="3.7" transform="rotate(56 271.4 78.5)" fill="#5a614c" opacity="0.6"/><ellipse cx="272.5" cy="193.1" rx="1.9" ry="4.1" transform="rotate(68 272.5 193.1)" fill="#5a614c" opacity="0.6"/><ellipse cx="216.0" cy="104.4" rx="3.2" ry="1.9" transform="rotate(31 216.0 104.4)" fill="#7f7e70" opacity="0.6"/><ellipse cx="270.5" cy="219.9" rx="2.6" ry="3.0" transform="rotate(177 270.5 219.9)" fill="#5a614c" opacity="0.6"/><ellipse cx="241.3" cy="123.8" rx="3.0" ry="2.8" transform="rotate(113 241.3 123.8)" fill="#75717a" opacity="0.6"/><ellipse cx="271.6" cy="54.9" rx="4.4" ry="3.6" transform="rotate(15 271.6 54.9)" fill="#5a614c" opacity="0.6"/><ellipse cx="250.1" cy="232.6" rx="2.5" ry="4.2" transform="rotate(114 250.1 232.6)" fill="#7f7e70" opacity="0.6"/><ellipse cx="344.6" cy="110.3" rx="2.8" ry="3.2" transform="rotate(159 344.6 110.3)" fill="#4d5342" opacity="0.6"/><ellipse cx="199.7" cy="154.3" rx="4.2" ry="3.0" transform="rotate(43 199.7 154.3)" fill="#7f7e70" opacity="0.6"/><ellipse cx="223.7" cy="225.7" rx="4.0" ry="4.3" transform="rotate(71 223.7 225.7)" fill="#75717a" opacity="0.6"/><ellipse cx="288.8" cy="79.8" rx="2.4" ry="4.2" transform="rotate(24 288.8 79.8)" fill="#88887c" opacity="0.6"/><ellipse cx="258.1" cy="154.3" rx="2.4" ry="4.1" transform="rotate(105 258.1 154.3)" fill="#88887c" opacity="0.6"/><ellipse cx="228.1" cy="46.1" rx="2.8" ry="2.4" transform="rotate(35 228.1 46.1)" fill="#4d5342" opacity="0.6"/><ellipse cx="224.4" cy="56.4" rx="2.9" ry="4.3" transform="rotate(90 224.4 56.4)" fill="#4d5342" opacity="0.6"/><ellipse cx="249.0" cy="210.1" rx="2.5" ry="2.2" transform="rotate(158 249.0 210.1)" fill="#7f7e70" opacity="0.6"/><ellipse cx="234.3" cy="118.6" rx="2.2" ry="2.4" transform="rotate(62 234.3 118.6)" fill="#7f7e70" opacity="0.6"/><ellipse cx="319.8" cy="112.3" rx="1.8" ry="2.2" transform="rotate(80 319.8 112.3)" fill="#88887c" opacity="0.6"/><ellipse cx="221.5" cy="146.0" rx="2.1" ry="3.9" transform="rotate(66 221.5 146.0)" fill="#4d5342" opacity="0.6"/><ellipse cx="222.9" cy="209.2" rx="2.7" ry="3.1" transform="rotate(108 222.9 209.2)" fill="#75717a" opacity="0.6"/><ellipse cx="272.7" cy="45.2" rx="3.9" ry="4.1" transform="rotate(88 272.7 45.2)" fill="#88887c" opacity="0.6"/><ellipse cx="223.0" cy="154.7" rx="2.8" ry="3.0" transform="rotate(70 223.0 154.7)" fill="#88887c" opacity="0.6"/><ellipse cx="223.4" cy="201.2" rx="2.5" ry="3.7" transform="rotate(105 223.4 201.2)" fill="#7f7e70" opacity="0.6"/><ellipse cx="255.3" cy="66.6" rx="2.4" ry="3.4" transform="rotate(27 255.3 66.6)" fill="#5a614c" opacity="0.6"/><ellipse cx="260.1" cy="41.9" rx="2.5" ry="3.4" transform="rotate(112 260.1 41.9)" fill="#88887c" opacity="0.6"/><ellipse cx="300.9" cy="169.9" rx="3.5" ry="2.4" transform="rotate(58 300.9 169.9)" fill="#5a614c" opacity="0.6"/><ellipse cx="244.5" cy="34.6" rx="3.5" ry="3.7" transform="rotate(63 244.5 34.6)" fill="#5a614c" opacity="0.6"/><ellipse cx="259.2" cy="74.8" rx="2.4" ry="2.1" transform="rotate(150 259.2 74.8)" fill="#7f7e70" opacity="0.6"/><ellipse cx="250.6" cy="70.3" rx="4.2" ry="3.0" transform="rotate(97 250.6 70.3)" fill="#5a614c" opacity="0.6"/><ellipse cx="226.7" cy="128.4" rx="3.2" ry="1.8" transform="rotate(10 226.7 128.4)" fill="#5a614c" opacity="0.6"/><ellipse cx="321.2" cy="71.1" rx="3.5" ry="1.9" transform="rotate(99 321.2 71.1)" fill="#7f7e70" opacity="0.6"/><ellipse cx="286.4" cy="125.8" rx="1.7" ry="2.3" transform="rotate(57 286.4 125.8)" fill="#75717a" opacity="0.6"/><ellipse cx="211.9" cy="255.7" rx="2.9" ry="2.8" transform="rotate(47 211.9 255.7)" fill="#4d5342" opacity="0.6"/><ellipse cx="239.5" cy="216.1" rx="4.3" ry="3.5" transform="rotate(44 239.5 216.1)" fill="#75717a" opacity="0.6"/><ellipse cx="232.1" cy="139.9" rx="4.4" ry="2.5" transform="rotate(137 232.1 139.9)" fill="#4d5342" opacity="0.6"/><ellipse cx="198.0" cy="147.8" rx="4.5" ry="1.9" transform="rotate(162 198.0 147.8)" fill="#5a614c" opacity="0.6"/><ellipse cx="329.3" cy="151.0" rx="3.6" ry="2.8" transform="rotate(145 329.3 151.0)" fill="#75717a" opacity="0.6"/><ellipse cx="245.2" cy="96.3" rx="4.2" ry="2.0" transform="rotate(6 245.2 96.3)" fill="#5a614c" opacity="0.6"/><ellipse cx="309.8" cy="81.9" rx="3.8" ry="3.0" transform="rotate(172 309.8 81.9)" fill="#75717a" opacity="0.6"/><ellipse cx="238.1" cy="180.3" rx="3.2" ry="4.4" transform="rotate(64 238.1 180.3)" fill="#7f7e70" opacity="0.6"/><ellipse cx="219.6" cy="263.4" rx="3.7" ry="3.0" transform="rotate(133 219.6 263.4)" fill="#4d5342" opacity="0.6"/><ellipse cx="211.8" cy="111.5" rx="3.9" ry="3.7" transform="rotate(47 211.8 111.5)" fill="#7f7e70" opacity="0.6"/><ellipse cx="215.8" cy="33.7" rx="1.7" ry="3.9" transform="rotate(70 215.8 33.7)" fill="#5a614c" opacity="0.6"/><ellipse cx="293.4" cy="188.5" rx="2.8" ry="2.0" transform="rotate(149 293.4 188.5)" fill="#7f7e70" opacity="0.6"/><ellipse cx="242.6" cy="196.9" rx="2.0" ry="1.6" transform="rotate(93 242.6 196.9)" fill="#75717a" opacity="0.6"/><ellipse cx="346.0" cy="117.4" rx="1.6" ry="2.1" transform="rotate(2 346.0 117.4)" fill="#88887c" opacity="0.6"/><ellipse cx="273.2" cy="189.5" rx="2.5" ry="2.2" transform="rotate(81 273.2 189.5)" fill="#7f7e70" opacity="0.6"/><ellipse cx="254.6" cy="86.3" rx="2.7" ry="1.8" transform="rotate(57 254.6 86.3)" fill="#88887c" opacity="0.6"/><ellipse cx="211.4" cy="189.3" rx="2.2" ry="1.8" transform="rotate(73 211.4 189.3)" fill="#88887c" opacity="0.6"/><ellipse cx="253.4" cy="78.4" rx="3.2" ry="2.3" transform="rotate(137 253.4 78.4)" fill="#88887c" opacity="0.6"/><ellipse cx="261.3" cy="243.9" rx="2.1" ry="3.3" transform="rotate(115 261.3 243.9)" fill="#7f7e70" opacity="0.6"/><ellipse cx="223.2" cy="138.7" rx="3.1" ry="2.4" transform="rotate(169 223.2 138.7)" fill="#88887c" opacity="0.6"/><ellipse cx="217.7" cy="154.6" rx="2.4" ry="3.1" transform="rotate(41 217.7 154.6)" fill="#88887c" opacity="0.6"/><ellipse cx="283.4" cy="145.2" rx="2.2" ry="4.3" transform="rotate(75 283.4 145.2)" fill="#7f7e70" opacity="0.6"/><ellipse cx="194.3" cy="178.7" rx="1.7" ry="3.0" transform="rotate(86 194.3 178.7)" fill="#7f7e70" opacity="0.6"/><ellipse cx="199.0" cy="191.4" rx="2.4" ry="2.9" transform="rotate(54 199.0 191.4)" fill="#75717a" opacity="0.6"/><ellipse cx="339.9" cy="104.9" rx="3.2" ry="2.7" transform="rotate(117 339.9 104.9)" fill="#7f7e70" opacity="0.6"/><ellipse cx="205.6" cy="207.8" rx="3.1" ry="3.8" transform="rotate(92 205.6 207.8)" fill="#4d5342" opacity="0.6"/><ellipse cx="205.5" cy="191.0" rx="3.0" ry="4.4" transform="rotate(1 205.5 191.0)" fill="#7f7e70" opacity="0.6"/><ellipse cx="257.7" cy="149.9" rx="1.8" ry="3.5" transform="rotate(60 257.7 149.9)" fill="#5a614c" opacity="0.6"/><ellipse cx="271.1" cy="113.0" rx="4.3" ry="2.5" transform="rotate(87 271.1 113.0)" fill="#75717a" opacity="0.6"/><ellipse cx="228.4" cy="55.0" rx="2.3" ry="2.9" transform="rotate(76 228.4 55.0)" fill="#4d5342" opacity="0.6"/><ellipse cx="324.6" cy="173.6" rx="3.5" ry="4.5" transform="rotate(9 324.6 173.6)" fill="#5a614c" opacity="0.6"/><ellipse cx="235.2" cy="74.9" rx="1.8" ry="2.0" transform="rotate(90 235.2 74.9)" fill="#75717a" opacity="0.6"/><ellipse cx="270.7" cy="131.5" rx="3.2" ry="2.6" transform="rotate(147 270.7 131.5)" fill="#75717a" opacity="0.6"/><ellipse cx="258.0" cy="203.2" rx="2.3" ry="2.2" transform="rotate(41 258.0 203.2)" fill="#4d5342" opacity="0.6"/><ellipse cx="267.3" cy="231.4" rx="3.3" ry="2.7" transform="rotate(86 267.3 231.4)" fill="#88887c" opacity="0.6"/><ellipse cx="284.1" cy="134.1" rx="2.1" ry="2.7" transform="rotate(116 284.1 134.1)" fill="#4d5342" opacity="0.6"/><ellipse cx="215.8" cy="215.3" rx="4.2" ry="1.9" transform="rotate(107 215.8 215.3)" fill="#75717a" opacity="0.6"/><ellipse cx="292.7" cy="62.4" rx="2.8" ry="4.5" transform="rotate(28 292.7 62.4)" fill="#5a614c" opacity="0.6"/><ellipse cx="283.1" cy="179.8" rx="3.0" ry="1.6" transform="rotate(99 283.1 179.8)" fill="#88887c" opacity="0.6"/><ellipse cx="262.1" cy="262.3" rx="2.3" ry="1.8" transform="rotate(160 262.1 262.3)" fill="#4d5342" opacity="0.6"/><ellipse cx="252.4" cy="206.4" rx="1.8" ry="3.2" transform="rotate(139 252.4 206.4)" fill="#88887c" opacity="0.6"/><ellipse cx="228.8" cy="204.1" rx="1.5" ry="3.4" transform="rotate(147 228.8 204.1)" fill="#4d5342" opacity="0.6"/><ellipse cx="236.8" cy="80.1" rx="2.0" ry="4.4" transform="rotate(163 236.8 80.1)" fill="#88887c" opacity="0.6"/><ellipse cx="336.1" cy="139.2" rx="2.3" ry="3.1" transform="rotate(71 336.1 139.2)" fill="#88887c" opacity="0.6"/><ellipse cx="243.9" cy="255.2" rx="2.1" ry="4.3" transform="rotate(56 243.9 255.2)" fill="#7f7e70" opacity="0.6"/><ellipse cx="210.0" cy="244.0" rx="2.7" ry="2.5" transform="rotate(118 210.0 244.0)" fill="#88887c" opacity="0.6"/><ellipse cx="234.5" cy="208.4" rx="3.3" ry="1.9" transform="rotate(31 234.5 208.4)" fill="#75717a" opacity="0.6"/><ellipse cx="254.3" cy="72.0" rx="2.5" ry="1.8" transform="rotate(57 254.3 72.0)" fill="#88887c" opacity="0.6"/><ellipse cx="202.7" cy="242.5" rx="3.2" ry="1.6" transform="rotate(80 202.7 242.5)" fill="#5a614c" opacity="0.6"/><ellipse cx="259.1" cy="233.6" rx="2.3" ry="4.0" transform="rotate(36 259.1 233.6)" fill="#5a614c" opacity="0.6"/><ellipse cx="260.2" cy="117.3" rx="2.6" ry="1.5" transform="rotate(98 260.2 117.3)" fill="#5a614c" opacity="0.6"/><ellipse cx="295.5" cy="158.4" rx="1.5" ry="1.7" transform="rotate(55 295.5 158.4)" fill="#4d5342" opacity="0.6"/><ellipse cx="338.7" cy="93.5" rx="1.7" ry="3.1" transform="rotate(151 338.7 93.5)" fill="#75717a" opacity="0.6"/><ellipse cx="199.9" cy="121.5" rx="1.8" ry="3.8" transform="rotate(81 199.9 121.5)" fill="#5a614c" opacity="0.6"/><ellipse cx="292.6" cy="51.0" rx="4.2" ry="1.8" transform="rotate(15 292.6 51.0)" fill="#7f7e70" opacity="0.6"/><ellipse cx="242.5" cy="188.3" rx="1.6" ry="2.1" transform="rotate(129 242.5 188.3)" fill="#7f7e70" opacity="0.6"/><ellipse cx="213.1" cy="241.9" rx="3.7" ry="2.5" transform="rotate(80 213.1 241.9)" fill="#88887c" opacity="0.6"/><ellipse cx="246.8" cy="107.9" rx="4.4" ry="4.1" transform="rotate(126 246.8 107.9)" fill="#7f7e70" opacity="0.6"/><ellipse cx="230.6" cy="170.5" rx="1.9" ry="4.0" transform="rotate(80 230.6 170.5)" fill="#88887c" opacity="0.6"/><ellipse cx="266.7" cy="143.3" rx="3.4" ry="4.2" transform="rotate(55 266.7 143.3)" fill="#75717a" opacity="0.6"/><ellipse cx="204.6" cy="211.0" rx="3.1" ry="2.5" transform="rotate(145 204.6 211.0)" fill="#4d5342" opacity="0.6"/><ellipse cx="287.3" cy="196.9" rx="2.5" ry="2.5" transform="rotate(138 287.3 196.9)" fill="#4d5342" opacity="0.6"/><ellipse cx="245.3" cy="49.4" rx="4.3" ry="3.7" transform="rotate(107 245.3 49.4)" fill="#5a614c" opacity="0.6"/><ellipse cx="370.6" cy="152.4" rx="4.0" ry="4.3" transform="rotate(113 370.6 152.4)" fill="#7f7e70" opacity="0.6"/><ellipse cx="302.3" cy="118.0" rx="4.3" ry="3.4" transform="rotate(82 302.3 118.0)" fill="#88887c" opacity="0.6"/><ellipse cx="237.1" cy="241.9" rx="3.1" ry="3.7" transform="rotate(140 237.1 241.9)" fill="#4d5342" opacity="0.6"/><ellipse cx="206.3" cy="195.1" rx="3.9" ry="3.8" transform="rotate(71 206.3 195.1)" fill="#4d5342" opacity="0.6"/><ellipse cx="227.8" cy="93.9" rx="1.9" ry="3.2" transform="rotate(104 227.8 93.9)" fill="#7f7e70" opacity="0.6"/><ellipse cx="306.9" cy="88.1" rx="3.5" ry="1.9" transform="rotate(66 306.9 88.1)" fill="#4d5342" opacity="0.6"/><ellipse cx="281.4" cy="42.5" rx="3.9" ry="2.5" transform="rotate(53 281.4 42.5)" fill="#5a614c" opacity="0.6"/><ellipse cx="299.4" cy="149.2" rx="4.1" ry="3.1" transform="rotate(62 299.4 149.2)" fill="#7f7e70" opacity="0.6"/><ellipse cx="227.7" cy="40.3" rx="4.1" ry="1.7" transform="rotate(148 227.7 40.3)" fill="#4d5342" opacity="0.6"/><ellipse cx="197.1" cy="69.3" rx="1.8" ry="4.1" transform="rotate(105 197.1 69.3)" fill="#4d5342" opacity="0.6"/><ellipse cx="279.1" cy="152.1" rx="3.1" ry="1.5" transform="rotate(98 279.1 152.1)" fill="#75717a" opacity="0.6"/><ellipse cx="216.5" cy="99.5" rx="2.2" ry="4.1" transform="rotate(147 216.5 99.5)" fill="#88887c" opacity="0.6"/><ellipse cx="260.4" cy="139.2" rx="3.5" ry="2.7" transform="rotate(83 260.4 139.2)" fill="#5a614c" opacity="0.6"/><ellipse cx="320.6" cy="177.8" rx="4.4" ry="2.3" transform="rotate(55 320.6 177.8)" fill="#7f7e70" opacity="0.6"/><ellipse cx="191.5" cy="259.3" rx="3.9" ry="2.7" transform="rotate(8 191.5 259.3)" fill="#5a614c" opacity="0.6"/><ellipse cx="239.6" cy="119.0" rx="2.8" ry="3.5" transform="rotate(158 239.6 119.0)" fill="#7f7e70" opacity="0.6"/><ellipse cx="256.7" cy="151.8" rx="3.7" ry="3.9" transform="rotate(67 256.7 151.8)" fill="#75717a" opacity="0.6"/><ellipse cx="243.8" cy="69.5" rx="2.6" ry="3.7" transform="rotate(44 243.8 69.5)" fill="#4d5342" opacity="0.6"/><ellipse cx="280.8" cy="78.0" rx="3.2" ry="2.9" transform="rotate(173 280.8 78.0)" fill="#88887c" opacity="0.6"/><ellipse cx="263.3" cy="80.7" rx="3.5" ry="2.1" transform="rotate(136 263.3 80.7)" fill="#88887c" opacity="0.6"/><ellipse cx="257.7" cy="219.0" rx="2.3" ry="4.0" transform="rotate(126 257.7 219.0)" fill="#5a614c" opacity="0.6"/><ellipse cx="218.8" cy="113.2" rx="1.7" ry="4.5" transform="rotate(58 218.8 113.2)" fill="#88887c" opacity="0.6"/><ellipse cx="331.9" cy="97.7" rx="2.1" ry="3.7" transform="rotate(148 331.9 97.7)" fill="#4d5342" opacity="0.6"/><ellipse cx="311.9" cy="83.0" rx="2.2" ry="4.1" transform="rotate(47 311.9 83.0)" fill="#4d5342" opacity="0.6"/><ellipse cx="312.9" cy="168.8" rx="4.1" ry="1.6" transform="rotate(143 312.9 168.8)" fill="#88887c" opacity="0.6"/><ellipse cx="248.3" cy="116.2" rx="3.7" ry="1.9" transform="rotate(164 248.3 116.2)" fill="#4d5342" opacity="0.6"/><ellipse cx="340.5" cy="143.6" rx="3.8" ry="2.7" transform="rotate(94 340.5 143.6)" fill="#4d5342" opacity="0.6"/><ellipse cx="316.5" cy="170.5" rx="3.9" ry="2.9" transform="rotate(35 316.5 170.5)" fill="#75717a" opacity="0.6"/><ellipse cx="192.3" cy="165.4" rx="3.0" ry="1.7" transform="rotate(76 192.3 165.4)" fill="#7f7e70" opacity="0.6"/><ellipse cx="306.7" cy="106.2" rx="3.9" ry="2.6" transform="rotate(161 306.7 106.2)" fill="#5a614c" opacity="0.6"/><ellipse cx="350.0" cy="141.6" rx="2.1" ry="3.5" transform="rotate(79 350.0 141.6)" fill="#7f7e70" opacity="0.6"/><ellipse cx="239.6" cy="48.1" rx="2.2" ry="3.1" transform="rotate(50 239.6 48.1)" fill="#4d5342" opacity="0.6"/><ellipse cx="298.3" cy="180.0" rx="2.5" ry="2.7" transform="rotate(179 298.3 180.0)" fill="#88887c" opacity="0.6"/><ellipse cx="232.1" cy="219.1" rx="2.1" ry="2.0" transform="rotate(138 232.1 219.1)" fill="#4d5342" opacity="0.6"/><ellipse cx="263.8" cy="150.8" rx="1.6" ry="1.8" transform="rotate(58 263.8 150.8)" fill="#5a614c" opacity="0.6"/><ellipse cx="336.9" cy="129.9" rx="2.2" ry="1.6" transform="rotate(127 336.9 129.9)" fill="#88887c" opacity="0.6"/><ellipse cx="224.4" cy="194.7" rx="1.7" ry="3.0" transform="rotate(119 224.4 194.7)" fill="#4d5342" opacity="0.6"/><ellipse cx="234.2" cy="184.1" rx="2.3" ry="4.2" transform="rotate(11 234.2 184.1)" fill="#4d5342" opacity="0.6"/><ellipse cx="256.2" cy="48.3" rx="2.0" ry="3.4" transform="rotate(5 256.2 48.3)" fill="#7f7e70" opacity="0.6"/><ellipse cx="334.0" cy="87.8" rx="1.8" ry="2.0" transform="rotate(24 334.0 87.8)" fill="#75717a" opacity="0.6"/><ellipse cx="320.4" cy="163.5" rx="2.8" ry="1.6" transform="rotate(16 320.4 163.5)" fill="#4d5342" opacity="0.6"/><ellipse cx="283.9" cy="87.8" rx="2.7" ry="4.1" transform="rotate(113 283.9 87.8)" fill="#88887c" opacity="0.6"/><ellipse cx="240.0" cy="61.6" rx="3.9" ry="4.2" transform="rotate(144 240.0 61.6)" fill="#5a614c" opacity="0.6"/><ellipse cx="195.0" cy="123.1" rx="4.0" ry="3.1" transform="rotate(156 195.0 123.1)" fill="#4d5342" opacity="0.6"/><ellipse cx="206.6" cy="251.1" rx="1.6" ry="4.4" transform="rotate(43 206.6 251.1)" fill="#88887c" opacity="0.6"/><ellipse cx="277.9" cy="196.9" rx="2.4" ry="4.0" transform="rotate(20 277.9 196.9)" fill="#75717a" opacity="0.6"/><ellipse cx="300.8" cy="46.6" rx="4.3" ry="2.4" transform="rotate(12 300.8 46.6)" fill="#75717a" opacity="0.6"/><ellipse cx="212.3" cy="235.4" rx="3.6" ry="3.4" transform="rotate(85 212.3 235.4)" fill="#7f7e70" opacity="0.6"/><ellipse cx="323.7" cy="122.7" rx="2.3" ry="2.0" transform="rotate(98 323.7 122.7)" fill="#4d5342" opacity="0.6"/><ellipse cx="311.5" cy="47.9" rx="3.8" ry="2.4" transform="rotate(134 311.5 47.9)" fill="#5a614c" opacity="0.6"/><ellipse cx="219.0" cy="92.5" rx="3.6" ry="2.1" transform="rotate(121 219.0 92.5)" fill="#7f7e70" opacity="0.6"/><ellipse cx="262.8" cy="259.0" rx="3.3" ry="4.3" transform="rotate(95 262.8 259.0)" fill="#75717a" opacity="0.6"/><ellipse cx="317.6" cy="78.1" rx="3.1" ry="3.2" transform="rotate(83 317.6 78.1)" fill="#75717a" opacity="0.6"/><ellipse cx="216.8" cy="197.9" rx="3.4" ry="4.3" transform="rotate(0 216.8 197.9)" fill="#4d5342" opacity="0.6"/><ellipse cx="284.6" cy="139.0" rx="3.7" ry="2.7" transform="rotate(145 284.6 139.0)" fill="#5a614c" opacity="0.6"/><ellipse cx="286.0" cy="103.2" rx="2.7" ry="2.6" transform="rotate(173 286.0 103.2)" fill="#7f7e70" opacity="0.6"/><ellipse cx="323.1" cy="174.7" rx="3.7" ry="4.1" transform="rotate(14 323.1 174.7)" fill="#5a614c" opacity="0.6"/><ellipse cx="304.1" cy="93.3" rx="2.9" ry="1.8" transform="rotate(42 304.1 93.3)" fill="#88887c" opacity="0.6"/><ellipse cx="220.4" cy="57.5" rx="2.6" ry="3.0" transform="rotate(128 220.4 57.5)" fill="#75717a" opacity="0.6"/><ellipse cx="193.9" cy="238.9" rx="4.5" ry="3.5" transform="rotate(53 193.9 238.9)" fill="#4d5342" opacity="0.6"/><ellipse cx="300.7" cy="76.3" rx="1.6" ry="2.9" transform="rotate(94 300.7 76.3)" fill="#88887c" opacity="0.6"/><ellipse cx="270.5" cy="35.4" rx="3.8" ry="2.6" transform="rotate(156 270.5 35.4)" fill="#5a614c" opacity="0.6"/><ellipse cx="209.6" cy="73.9" rx="3.6" ry="2.0" transform="rotate(67 209.6 73.9)" fill="#88887c" opacity="0.6"/><ellipse cx="255.9" cy="186.2" rx="4.3" ry="3.9" transform="rotate(113 255.9 186.2)" fill="#7f7e70" opacity="0.6"/><ellipse cx="247.9" cy="183.1" rx="3.4" ry="3.3" transform="rotate(88 247.9 183.1)" fill="#7f7e70" opacity="0.6"/><ellipse cx="228.2" cy="200.4" rx="4.4" ry="1.6" transform="rotate(45 228.2 200.4)" fill="#7f7e70" opacity="0.6"/><ellipse cx="205.4" cy="225.0" rx="3.2" ry="1.7" transform="rotate(113 205.4 225.0)" fill="#7f7e70" opacity="0.6"/><ellipse cx="260.4" cy="36.5" rx="2.9" ry="4.4" transform="rotate(100 260.4 36.5)" fill="#5a614c" opacity="0.6"/><ellipse cx="236.3" cy="134.7" rx="3.0" ry="1.7" transform="rotate(156 236.3 134.7)" fill="#4d5342" opacity="0.6"/><ellipse cx="250.4" cy="137.3" rx="3.2" ry="2.7" transform="rotate(170 250.4 137.3)" fill="#75717a" opacity="0.6"/><ellipse cx="210.8" cy="186.4" rx="3.6" ry="2.6" transform="rotate(151 210.8 186.4)" fill="#75717a" opacity="0.6"/><ellipse cx="222.0" cy="256.0" rx="2.6" ry="3.2" transform="rotate(162 222.0 256.0)" fill="#4d5342" opacity="0.6"/><ellipse cx="272.8" cy="112.8" rx="2.0" ry="2.2" transform="rotate(157 272.8 112.8)" fill="#4d5342" opacity="0.6"/><ellipse cx="277.8" cy="103.9" rx="2.9" ry="2.4" transform="rotate(18 277.8 103.9)" fill="#7f7e70" opacity="0.6"/><ellipse cx="225.8" cy="225.8" rx="4.2" ry="3.2" transform="rotate(45 225.8 225.8)" fill="#4d5342" opacity="0.6"/><ellipse cx="222.4" cy="262.2" rx="3.7" ry="3.9" transform="rotate(95 222.4 262.2)" fill="#4d5342" opacity="0.6"/><ellipse cx="226.7" cy="181.9" rx="2.5" ry="4.3" transform="rotate(43 226.7 181.9)" fill="#4d5342" opacity="0.6"/><ellipse cx="264.8" cy="34.5" rx="3.9" ry="4.3" transform="rotate(9 264.8 34.5)" fill="#5a614c" opacity="0.6"/><ellipse cx="290.5" cy="111.4" rx="3.2" ry="3.2" transform="rotate(162 290.5 111.4)" fill="#7f7e70" opacity="0.6"/><ellipse cx="226.4" cy="194.1" rx="3.2" ry="2.9" transform="rotate(102 226.4 194.1)" fill="#75717a" opacity="0.6"/><ellipse cx="279.1" cy="59.6" rx="3.0" ry="2.0" transform="rotate(119 279.1 59.6)" fill="#7f7e70" opacity="0.6"/><ellipse cx="252.2" cy="228.7" rx="2.3" ry="4.2" transform="rotate(55 252.2 228.7)" fill="#75717a" opacity="0.6"/><ellipse cx="223.5" cy="136.7" rx="1.9" ry="1.9" transform="rotate(94 223.5 136.7)" fill="#75717a" opacity="0.6"/><ellipse cx="301.3" cy="153.7" rx="3.6" ry="4.1" transform="rotate(76 301.3 153.7)" fill="#7f7e70" opacity="0.6"/><ellipse cx="337.9" cy="87.0" rx="4.4" ry="1.9" transform="rotate(102 337.9 87.0)" fill="#7f7e70" opacity="0.6"/><ellipse cx="348.1" cy="153.6" rx="3.0" ry="2.3" transform="rotate(58 348.1 153.6)" fill="#4d5342" opacity="0.6"/><ellipse cx="243.4" cy="220.4" rx="1.7" ry="1.6" transform="rotate(119 243.4 220.4)" fill="#7f7e70" opacity="0.6"/><ellipse cx="325.0" cy="69.9" rx="3.0" ry="2.2" transform="rotate(59 325.0 69.9)" fill="#5a614c" opacity="0.6"/><ellipse cx="234.9" cy="120.9" rx="3.0" ry="2.3" transform="rotate(118 234.9 120.9)" fill="#75717a" opacity="0.6"/><ellipse cx="219.4" cy="229.5" rx="1.6" ry="3.7" transform="rotate(31 219.4 229.5)" fill="#4d5342" opacity="0.6"/><ellipse cx="303.7" cy="49.7" rx="1.5" ry="2.7" transform="rotate(124 303.7 49.7)" fill="#88887c" opacity="0.6"/><ellipse cx="333.2" cy="88.7" rx="2.5" ry="3.0" transform="rotate(46 333.2 88.7)" fill="#75717a" opacity="0.6"/><ellipse cx="194.8" cy="170.1" rx="3.2" ry="3.9" transform="rotate(107 194.8 170.1)" fill="#88887c" opacity="0.6"/><ellipse cx="278.2" cy="176.8" rx="3.6" ry="1.6" transform="rotate(152 278.2 176.8)" fill="#5a614c" opacity="0.6"/><ellipse cx="317.9" cy="71.5" rx="2.5" ry="1.8" transform="rotate(148 317.9 71.5)" fill="#75717a" opacity="0.6"/><ellipse cx="271.8" cy="135.8" rx="2.6" ry="1.8" transform="rotate(104 271.8 135.8)" fill="#75717a" opacity="0.6"/><ellipse cx="216.8" cy="255.0" rx="1.8" ry="2.8" transform="rotate(53 216.8 255.0)" fill="#5a614c" opacity="0.6"/><ellipse cx="205.8" cy="98.1" rx="1.7" ry="2.8" transform="rotate(164 205.8 98.1)" fill="#75717a" opacity="0.6"/><ellipse cx="218.9" cy="88.6" rx="2.1" ry="2.6" transform="rotate(115 218.9 88.6)" fill="#7f7e70" opacity="0.6"/><ellipse cx="293.8" cy="173.1" rx="2.3" ry="3.2" transform="rotate(130 293.8 173.1)" fill="#88887c" opacity="0.6"/><ellipse cx="260.4" cy="118.9" rx="3.6" ry="3.3" transform="rotate(151 260.4 118.9)" fill="#5a614c" opacity="0.6"/><ellipse cx="283.9" cy="75.3" rx="2.2" ry="4.0" transform="rotate(63 283.9 75.3)" fill="#4d5342" opacity="0.6"/><ellipse cx="333.1" cy="93.0" rx="4.4" ry="3.6" transform="rotate(1 333.1 93.0)" fill="#7f7e70" opacity="0.6"/><ellipse cx="302.2" cy="53.0" rx="3.3" ry="2.4" transform="rotate(176 302.2 53.0)" fill="#7f7e70" opacity="0.6"/><ellipse cx="214.5" cy="196.3" rx="2.5" ry="1.8" transform="rotate(158 214.5 196.3)" fill="#88887c" opacity="0.6"/><ellipse cx="372.9" cy="163.1" rx="3.5" ry="3.5" transform="rotate(155 372.9 163.1)" fill="#5a614c" opacity="0.6"/><ellipse cx="246.9" cy="81.1" rx="3.1" ry="3.3" transform="rotate(64 246.9 81.1)" fill="#75717a" opacity="0.6"/><ellipse cx="318.4" cy="158.3" rx="3.6" ry="2.1" transform="rotate(145 318.4 158.3)" fill="#4d5342" opacity="0.6"/><ellipse cx="243.6" cy="246.2" rx="4.2" ry="3.7" transform="rotate(75 243.6 246.2)" fill="#75717a" opacity="0.6"/><ellipse cx="276.7" cy="196.4" rx="1.8" ry="4.1" transform="rotate(77 276.7 196.4)" fill="#5a614c" opacity="0.6"/><ellipse cx="274.6" cy="232.7" rx="3.1" ry="2.6" transform="rotate(166 274.6 232.7)" fill="#75717a" opacity="0.6"/><ellipse cx="195.9" cy="92.4" rx="4.0" ry="1.9" transform="rotate(15 195.9 92.4)" fill="#75717a" opacity="0.6"/><ellipse cx="259.9" cy="157.1" rx="3.3" ry="3.7" transform="rotate(57 259.9 157.1)" fill="#7f7e70" opacity="0.6"/><ellipse cx="298.5" cy="139.1" rx="4.3" ry="3.2" transform="rotate(42 298.5 139.1)" fill="#75717a" opacity="0.6"/><ellipse cx="264.5" cy="116.6" rx="3.9" ry="3.4" transform="rotate(89 264.5 116.6)" fill="#4d5342" opacity="0.6"/><ellipse cx="349.4" cy="150.7" rx="3.9" ry="2.1" transform="rotate(180 349.4 150.7)" fill="#7f7e70" opacity="0.6"/><ellipse cx="336.0" cy="102.2" rx="3.9" ry="3.0" transform="rotate(85 336.0 102.2)" fill="#7f7e70" opacity="0.6"/><ellipse cx="268.6" cy="121.2" rx="2.9" ry="2.2" transform="rotate(88 268.6 121.2)" fill="#75717a" opacity="0.6"/><ellipse cx="204.0" cy="88.5" rx="2.6" ry="1.6" transform="rotate(80 204.0 88.5)" fill="#5a614c" opacity="0.6"/><ellipse cx="210.9" cy="149.5" rx="2.9" ry="3.4" transform="rotate(60 210.9 149.5)" fill="#88887c" opacity="0.6"/><ellipse cx="248.4" cy="35.1" rx="2.3" ry="3.3" transform="rotate(50 248.4 35.1)" fill="#4d5342" opacity="0.6"/>
<ellipse cx="16.0" cy="58.1" rx="2.7" ry="2.0" transform="rotate(12 16.0 58.1)" fill="#262b1c" opacity="0.65"/><ellipse cx="33.2" cy="97.9" rx="4.5" ry="1.7" transform="rotate(94 33.2 97.9)" fill="#57545a" opacity="0.65"/><ellipse cx="18.2" cy="73.0" rx="1.8" ry="2.1" transform="rotate(167 18.2 73.0)" fill="#57545a" opacity="0.65"/><ellipse cx="47.0" cy="77.4" rx="2.4" ry="3.4" transform="rotate(132 47.0 77.4)" fill="#57545a" opacity="0.65"/><ellipse cx="7.8" cy="165.7" rx="3.5" ry="3.0" transform="rotate(32 7.8 165.7)" fill="#262b1c" opacity="0.65"/><ellipse cx="19.1" cy="186.9" rx="2.4" ry="3.8" transform="rotate(35 19.1 186.9)" fill="#262b1c" opacity="0.65"/><ellipse cx="35.9" cy="128.2" rx="2.0" ry="2.4" transform="rotate(146 35.9 128.2)" fill="#2c2d20" opacity="0.65"/><ellipse cx="7.5" cy="135.0" rx="4.5" ry="3.1" transform="rotate(117 7.5 135.0)" fill="#57545a" opacity="0.65"/><ellipse cx="11.0" cy="180.2" rx="1.7" ry="4.2" transform="rotate(114 11.0 180.2)" fill="#262b1c" opacity="0.65"/><ellipse cx="18.2" cy="112.1" rx="3.7" ry="2.5" transform="rotate(101 18.2 112.1)" fill="#57545a" opacity="0.65"/><ellipse cx="8.6" cy="49.2" rx="2.2" ry="3.8" transform="rotate(111 8.6 49.2)" fill="#6a6650" opacity="0.65"/><ellipse cx="9.7" cy="236.0" rx="2.4" ry="1.6" transform="rotate(64 9.7 236.0)" fill="#2c2d20" opacity="0.65"/><ellipse cx="4.0" cy="97.8" rx="4.4" ry="3.8" transform="rotate(74 4.0 97.8)" fill="#7a7258" opacity="0.65"/><ellipse cx="40.4" cy="52.6" rx="3.4" ry="4.2" transform="rotate(53 40.4 52.6)" fill="#57545a" opacity="0.65"/><ellipse cx="5.5" cy="72.3" rx="3.9" ry="2.6" transform="rotate(52 5.5 72.3)" fill="#2c2d20" opacity="0.65"/><ellipse cx="27.2" cy="80.3" rx="4.2" ry="1.8" transform="rotate(11 27.2 80.3)" fill="#6a6650" opacity="0.65"/><ellipse cx="36.4" cy="152.9" rx="3.2" ry="2.5" transform="rotate(6 36.4 152.9)" fill="#7a7258" opacity="0.65"/><ellipse cx="38.8" cy="78.9" rx="2.1" ry="2.8" transform="rotate(89 38.8 78.9)" fill="#6a6650" opacity="0.65"/><ellipse cx="26.2" cy="89.2" rx="4.2" ry="4.0" transform="rotate(90 26.2 89.2)" fill="#2c2d20" opacity="0.65"/><ellipse cx="5.0" cy="90.2" rx="3.1" ry="3.8" transform="rotate(75 5.0 90.2)" fill="#57545a" opacity="0.65"/><ellipse cx="10.8" cy="47.0" rx="4.3" ry="3.2" transform="rotate(178 10.8 47.0)" fill="#262b1c" opacity="0.65"/><ellipse cx="5.2" cy="118.9" rx="2.8" ry="4.3" transform="rotate(103 5.2 118.9)" fill="#6a6650" opacity="0.65"/><ellipse cx="21.5" cy="176.6" rx="3.9" ry="3.4" transform="rotate(147 21.5 176.6)" fill="#7a7258" opacity="0.65"/><ellipse cx="14.8" cy="207.5" rx="3.9" ry="2.5" transform="rotate(71 14.8 207.5)" fill="#262b1c" opacity="0.65"/><ellipse cx="7.1" cy="243.8" rx="4.4" ry="3.5" transform="rotate(8 7.1 243.8)" fill="#7a7258" opacity="0.65"/><ellipse cx="10.0" cy="243.3" rx="3.5" ry="1.7" transform="rotate(30 10.0 243.3)" fill="#262b1c" opacity="0.65"/><ellipse cx="54.0" cy="82.8" rx="1.5" ry="4.3" transform="rotate(2 54.0 82.8)" fill="#57545a" opacity="0.65"/><ellipse cx="9.4" cy="209.3" rx="3.8" ry="4.1" transform="rotate(99 9.4 209.3)" fill="#6a6650" opacity="0.65"/><ellipse cx="11.9" cy="166.2" rx="4.0" ry="3.2" transform="rotate(141 11.9 166.2)" fill="#7a7258" opacity="0.65"/><ellipse cx="27.2" cy="52.9" rx="3.6" ry="1.8" transform="rotate(101 27.2 52.9)" fill="#57545a" opacity="0.65"/><ellipse cx="36.4" cy="65.7" rx="2.6" ry="3.8" transform="rotate(94 36.4 65.7)" fill="#2c2d20" opacity="0.65"/><ellipse cx="19.3" cy="110.2" rx="1.7" ry="4.4" transform="rotate(82 19.3 110.2)" fill="#6a6650" opacity="0.65"/><ellipse cx="46.3" cy="102.6" rx="2.2" ry="3.0" transform="rotate(174 46.3 102.6)" fill="#2c2d20" opacity="0.65"/><ellipse cx="7.2" cy="232.0" rx="3.9" ry="2.6" transform="rotate(180 7.2 232.0)" fill="#262b1c" opacity="0.65"/><ellipse cx="6.7" cy="224.6" rx="2.1" ry="2.4" transform="rotate(151 6.7 224.6)" fill="#262b1c" opacity="0.65"/><ellipse cx="9.5" cy="155.5" rx="2.6" ry="2.0" transform="rotate(127 9.5 155.5)" fill="#57545a" opacity="0.65"/><ellipse cx="30.2" cy="108.5" rx="3.1" ry="4.2" transform="rotate(128 30.2 108.5)" fill="#2c2d20" opacity="0.65"/><ellipse cx="38.6" cy="61.9" rx="1.8" ry="3.9" transform="rotate(108 38.6 61.9)" fill="#7a7258" opacity="0.65"/><ellipse cx="7.2" cy="88.5" rx="4.0" ry="2.6" transform="rotate(138 7.2 88.5)" fill="#2c2d20" opacity="0.65"/><ellipse cx="27.3" cy="66.1" rx="3.8" ry="2.6" transform="rotate(119 27.3 66.1)" fill="#6a6650" opacity="0.65"/><ellipse cx="26.8" cy="165.6" rx="3.5" ry="3.4" transform="rotate(51 26.8 165.6)" fill="#57545a" opacity="0.65"/><ellipse cx="13.9" cy="205.9" rx="3.5" ry="4.1" transform="rotate(14 13.9 205.9)" fill="#6a6650" opacity="0.65"/><ellipse cx="21.1" cy="115.6" rx="2.0" ry="4.1" transform="rotate(109 21.1 115.6)" fill="#7a7258" opacity="0.65"/><ellipse cx="35.1" cy="142.0" rx="3.2" ry="4.3" transform="rotate(137 35.1 142.0)" fill="#2c2d20" opacity="0.65"/><ellipse cx="12.5" cy="138.5" rx="4.2" ry="2.2" transform="rotate(142 12.5 138.5)" fill="#57545a" opacity="0.65"/><ellipse cx="51.5" cy="86.8" rx="3.0" ry="2.2" transform="rotate(66 51.5 86.8)" fill="#57545a" opacity="0.65"/><ellipse cx="32.5" cy="149.4" rx="2.9" ry="3.9" transform="rotate(91 32.5 149.4)" fill="#57545a" opacity="0.65"/><ellipse cx="18.6" cy="124.1" rx="1.5" ry="2.1" transform="rotate(97 18.6 124.1)" fill="#7a7258" opacity="0.65"/><ellipse cx="36.8" cy="114.0" rx="4.4" ry="3.4" transform="rotate(28 36.8 114.0)" fill="#2c2d20" opacity="0.65"/><ellipse cx="37.7" cy="110.3" rx="3.9" ry="4.2" transform="rotate(136 37.7 110.3)" fill="#262b1c" opacity="0.65"/><ellipse cx="11.2" cy="87.0" rx="2.4" ry="4.3" transform="rotate(29 11.2 87.0)" fill="#7a7258" opacity="0.65"/><ellipse cx="31.8" cy="69.7" rx="1.8" ry="1.6" transform="rotate(57 31.8 69.7)" fill="#2c2d20" opacity="0.65"/><ellipse cx="37.7" cy="72.9" rx="1.9" ry="2.7" transform="rotate(23 37.7 72.9)" fill="#2c2d20" opacity="0.65"/><ellipse cx="30.6" cy="69.0" rx="4.0" ry="3.0" transform="rotate(12 30.6 69.0)" fill="#6a6650" opacity="0.65"/><ellipse cx="12.0" cy="226.4" rx="3.0" ry="3.1" transform="rotate(55 12.0 226.4)" fill="#262b1c" opacity="0.65"/><ellipse cx="21.1" cy="118.8" rx="2.8" ry="1.6" transform="rotate(158 21.1 118.8)" fill="#2c2d20" opacity="0.65"/><ellipse cx="7.7" cy="60.8" rx="3.3" ry="1.5" transform="rotate(42 7.7 60.8)" fill="#2c2d20" opacity="0.65"/><ellipse cx="13.2" cy="212.7" rx="4.5" ry="3.6" transform="rotate(166 13.2 212.7)" fill="#262b1c" opacity="0.65"/><ellipse cx="21.5" cy="72.9" rx="3.1" ry="2.1" transform="rotate(85 21.5 72.9)" fill="#57545a" opacity="0.65"/><ellipse cx="19.8" cy="174.4" rx="4.2" ry="3.3" transform="rotate(7 19.8 174.4)" fill="#6a6650" opacity="0.65"/><ellipse cx="39.4" cy="101.8" rx="4.2" ry="3.4" transform="rotate(61 39.4 101.8)" fill="#2c2d20" opacity="0.65"/><ellipse cx="22.4" cy="53.4" rx="3.6" ry="3.0" transform="rotate(98 22.4 53.4)" fill="#7a7258" opacity="0.65"/><ellipse cx="42.1" cy="44.3" rx="3.5" ry="2.5" transform="rotate(108 42.1 44.3)" fill="#6a6650" opacity="0.65"/><ellipse cx="41.3" cy="61.0" rx="4.4" ry="4.0" transform="rotate(92 41.3 61.0)" fill="#2c2d20" opacity="0.65"/><ellipse cx="6.9" cy="84.4" rx="2.3" ry="4.4" transform="rotate(160 6.9 84.4)" fill="#2c2d20" opacity="0.65"/><ellipse cx="3.6" cy="185.3" rx="2.1" ry="2.2" transform="rotate(133 3.6 185.3)" fill="#57545a" opacity="0.65"/><ellipse cx="47.9" cy="99.8" rx="2.7" ry="3.3" transform="rotate(6 47.9 99.8)" fill="#262b1c" opacity="0.65"/><ellipse cx="30.2" cy="49.7" rx="3.0" ry="3.0" transform="rotate(101 30.2 49.7)" fill="#57545a" opacity="0.65"/><ellipse cx="27.1" cy="73.4" rx="1.6" ry="4.2" transform="rotate(168 27.1 73.4)" fill="#57545a" opacity="0.65"/><ellipse cx="14.6" cy="95.8" rx="1.8" ry="2.7" transform="rotate(110 14.6 95.8)" fill="#6a6650" opacity="0.65"/><ellipse cx="36.7" cy="102.9" rx="4.3" ry="3.8" transform="rotate(112 36.7 102.9)" fill="#6a6650" opacity="0.65"/><ellipse cx="14.9" cy="173.4" rx="3.8" ry="3.4" transform="rotate(1 14.9 173.4)" fill="#7a7258" opacity="0.65"/><ellipse cx="9.3" cy="243.9" rx="2.4" ry="3.2" transform="rotate(119 9.3 243.9)" fill="#2c2d20" opacity="0.65"/><ellipse cx="40.2" cy="92.3" rx="3.3" ry="3.4" transform="rotate(132 40.2 92.3)" fill="#7a7258" opacity="0.65"/><ellipse cx="11.9" cy="197.7" rx="1.6" ry="1.7" transform="rotate(29 11.9 197.7)" fill="#2c2d20" opacity="0.65"/><ellipse cx="40.0" cy="92.0" rx="4.3" ry="3.5" transform="rotate(89 40.0 92.0)" fill="#6a6650" opacity="0.65"/><ellipse cx="36.1" cy="142.1" rx="2.5" ry="2.8" transform="rotate(73 36.1 142.1)" fill="#2c2d20" opacity="0.65"/><ellipse cx="11.4" cy="82.9" rx="2.2" ry="3.2" transform="rotate(35 11.4 82.9)" fill="#7a7258" opacity="0.65"/><ellipse cx="40.3" cy="118.1" rx="3.1" ry="1.8" transform="rotate(40 40.3 118.1)" fill="#57545a" opacity="0.65"/><ellipse cx="13.2" cy="150.4" rx="1.6" ry="1.9" transform="rotate(53 13.2 150.4)" fill="#57545a" opacity="0.65"/><ellipse cx="5.3" cy="101.5" rx="3.7" ry="2.7" transform="rotate(25 5.3 101.5)" fill="#262b1c" opacity="0.65"/><ellipse cx="37.0" cy="111.0" rx="1.5" ry="3.6" transform="rotate(81 37.0 111.0)" fill="#262b1c" opacity="0.65"/><ellipse cx="14.6" cy="106.7" rx="3.3" ry="1.7" transform="rotate(14 14.6 106.7)" fill="#6a6650" opacity="0.65"/><ellipse cx="13.0" cy="167.6" rx="3.3" ry="3.3" transform="rotate(130 13.0 167.6)" fill="#2c2d20" opacity="0.65"/><ellipse cx="24.1" cy="85.5" rx="3.3" ry="3.4" transform="rotate(24 24.1 85.5)" fill="#7a7258" opacity="0.65"/><ellipse cx="18.7" cy="129.1" rx="2.4" ry="3.4" transform="rotate(31 18.7 129.1)" fill="#57545a" opacity="0.65"/><ellipse cx="22.0" cy="163.7" rx="4.4" ry="1.6" transform="rotate(27 22.0 163.7)" fill="#7a7258" opacity="0.65"/><ellipse cx="50.4" cy="78.1" rx="2.9" ry="1.9" transform="rotate(159 50.4 78.1)" fill="#7a7258" opacity="0.65"/><ellipse cx="13.8" cy="70.0" rx="3.2" ry="1.9" transform="rotate(151 13.8 70.0)" fill="#7a7258" opacity="0.65"/><ellipse cx="7.4" cy="237.5" rx="3.9" ry="3.3" transform="rotate(98 7.4 237.5)" fill="#57545a" opacity="0.65"/><ellipse cx="37.4" cy="99.2" rx="4.1" ry="2.3" transform="rotate(116 37.4 99.2)" fill="#57545a" opacity="0.65"/><ellipse cx="6.4" cy="66.1" rx="4.3" ry="1.6" transform="rotate(62 6.4 66.1)" fill="#7a7258" opacity="0.65"/><ellipse cx="7.0" cy="128.7" rx="1.7" ry="2.8" transform="rotate(164 7.0 128.7)" fill="#57545a" opacity="0.65"/><ellipse cx="13.9" cy="181.0" rx="2.1" ry="2.0" transform="rotate(129 13.9 181.0)" fill="#2c2d20" opacity="0.65"/><ellipse cx="3.2" cy="98.4" rx="3.1" ry="2.8" transform="rotate(17 3.2 98.4)" fill="#57545a" opacity="0.65"/><ellipse cx="31.1" cy="153.5" rx="3.6" ry="1.7" transform="rotate(79 31.1 153.5)" fill="#6a6650" opacity="0.65"/><ellipse cx="31.4" cy="145.9" rx="3.5" ry="1.9" transform="rotate(105 31.4 145.9)" fill="#7a7258" opacity="0.65"/><ellipse cx="38.3" cy="51.1" rx="4.4" ry="2.0" transform="rotate(138 38.3 51.1)" fill="#7a7258" opacity="0.65"/><ellipse cx="11.4" cy="113.6" rx="2.9" ry="4.5" transform="rotate(81 11.4 113.6)" fill="#262b1c" opacity="0.65"/><ellipse cx="4.4" cy="155.4" rx="4.4" ry="2.3" transform="rotate(106 4.4 155.4)" fill="#7a7258" opacity="0.65"/><ellipse cx="27.8" cy="107.2" rx="2.4" ry="2.4" transform="rotate(54 27.8 107.2)" fill="#57545a" opacity="0.65"/><ellipse cx="36.9" cy="93.6" rx="4.1" ry="2.0" transform="rotate(17 36.9 93.6)" fill="#6a6650" opacity="0.65"/><ellipse cx="48.9" cy="73.8" rx="1.8" ry="4.5" transform="rotate(6 48.9 73.8)" fill="#2c2d20" opacity="0.65"/><ellipse cx="5.6" cy="237.8" rx="4.1" ry="3.6" transform="rotate(32 5.6 237.8)" fill="#6a6650" opacity="0.65"/><ellipse cx="23.5" cy="174.0" rx="2.7" ry="3.4" transform="rotate(171 23.5 174.0)" fill="#262b1c" opacity="0.65"/><ellipse cx="19.0" cy="55.1" rx="3.9" ry="1.8" transform="rotate(10 19.0 55.1)" fill="#2c2d20" opacity="0.65"/><ellipse cx="24.6" cy="71.1" rx="3.6" ry="1.6" transform="rotate(40 24.6 71.1)" fill="#57545a" opacity="0.65"/><ellipse cx="21.9" cy="110.8" rx="3.5" ry="1.5" transform="rotate(65 21.9 110.8)" fill="#262b1c" opacity="0.65"/><ellipse cx="34.5" cy="140.8" rx="4.3" ry="2.8" transform="rotate(132 34.5 140.8)" fill="#262b1c" opacity="0.65"/><ellipse cx="11.7" cy="132.1" rx="3.1" ry="3.8" transform="rotate(17 11.7 132.1)" fill="#2c2d20" opacity="0.65"/><ellipse cx="9.9" cy="133.7" rx="3.7" ry="3.8" transform="rotate(159 9.9 133.7)" fill="#57545a" opacity="0.65"/><ellipse cx="25.1" cy="102.1" rx="3.9" ry="4.2" transform="rotate(131 25.1 102.1)" fill="#57545a" opacity="0.65"/><ellipse cx="18.7" cy="107.7" rx="1.6" ry="4.1" transform="rotate(113 18.7 107.7)" fill="#6a6650" opacity="0.65"/><ellipse cx="15.7" cy="146.8" rx="4.3" ry="2.8" transform="rotate(96 15.7 146.8)" fill="#2c2d20" opacity="0.65"/><ellipse cx="44.2" cy="78.2" rx="2.5" ry="2.0" transform="rotate(97 44.2 78.2)" fill="#7a7258" opacity="0.65"/><ellipse cx="29.6" cy="164.3" rx="1.9" ry="3.0" transform="rotate(69 29.6 164.3)" fill="#262b1c" opacity="0.65"/><ellipse cx="22.1" cy="144.8" rx="3.8" ry="3.9" transform="rotate(162 22.1 144.8)" fill="#262b1c" opacity="0.65"/><ellipse cx="17.0" cy="169.0" rx="2.1" ry="3.4" transform="rotate(32 17.0 169.0)" fill="#2c2d20" opacity="0.65"/><ellipse cx="34.5" cy="64.3" rx="1.5" ry="2.2" transform="rotate(61 34.5 64.3)" fill="#57545a" opacity="0.65"/><ellipse cx="34.6" cy="94.6" rx="1.7" ry="1.7" transform="rotate(79 34.6 94.6)" fill="#6a6650" opacity="0.65"/><ellipse cx="15.4" cy="206.8" rx="1.7" ry="3.3" transform="rotate(31 15.4 206.8)" fill="#2c2d20" opacity="0.65"/><ellipse cx="13.5" cy="240.4" rx="3.0" ry="2.5" transform="rotate(48 13.5 240.4)" fill="#262b1c" opacity="0.65"/><ellipse cx="37.9" cy="61.4" rx="2.3" ry="1.8" transform="rotate(155 37.9 61.4)" fill="#57545a" opacity="0.65"/><ellipse cx="45.9" cy="50.7" rx="3.6" ry="1.7" transform="rotate(132 45.9 50.7)" fill="#57545a" opacity="0.65"/><ellipse cx="6.9" cy="218.0" rx="3.4" ry="4.1" transform="rotate(152 6.9 218.0)" fill="#262b1c" opacity="0.65"/><ellipse cx="41.7" cy="127.6" rx="4.0" ry="4.3" transform="rotate(19 41.7 127.6)" fill="#6a6650" opacity="0.65"/><ellipse cx="4.9" cy="170.9" rx="3.1" ry="4.3" transform="rotate(85 4.9 170.9)" fill="#262b1c" opacity="0.65"/><ellipse cx="23.2" cy="157.0" rx="2.2" ry="3.4" transform="rotate(49 23.2 157.0)" fill="#2c2d20" opacity="0.65"/><ellipse cx="17.7" cy="183.6" rx="2.5" ry="3.6" transform="rotate(141 17.7 183.6)" fill="#2c2d20" opacity="0.65"/><ellipse cx="11.7" cy="202.6" rx="4.3" ry="4.4" transform="rotate(125 11.7 202.6)" fill="#262b1c" opacity="0.65"/><ellipse cx="39.4" cy="63.6" rx="2.1" ry="3.9" transform="rotate(101 39.4 63.6)" fill="#2c2d20" opacity="0.65"/><ellipse cx="32.7" cy="51.3" rx="2.4" ry="1.7" transform="rotate(83 32.7 51.3)" fill="#2c2d20" opacity="0.65"/><ellipse cx="17.6" cy="78.1" rx="3.8" ry="1.8" transform="rotate(46 17.6 78.1)" fill="#262b1c" opacity="0.65"/><ellipse cx="3.3" cy="121.4" rx="3.3" ry="2.0" transform="rotate(88 3.3 121.4)" fill="#57545a" opacity="0.65"/><ellipse cx="12.2" cy="192.8" rx="4.3" ry="2.1" transform="rotate(97 12.2 192.8)" fill="#7a7258" opacity="0.65"/><ellipse cx="20.7" cy="166.5" rx="3.9" ry="3.2" transform="rotate(77 20.7 166.5)" fill="#262b1c" opacity="0.65"/><ellipse cx="7.3" cy="134.3" rx="2.3" ry="2.0" transform="rotate(128 7.3 134.3)" fill="#57545a" opacity="0.65"/><ellipse cx="7.7" cy="116.2" rx="3.1" ry="3.3" transform="rotate(110 7.7 116.2)" fill="#6a6650" opacity="0.65"/><ellipse cx="4.8" cy="83.1" rx="2.2" ry="3.1" transform="rotate(34 4.8 83.1)" fill="#262b1c" opacity="0.65"/><ellipse cx="19.6" cy="94.2" rx="2.8" ry="3.6" transform="rotate(7 19.6 94.2)" fill="#7a7258" opacity="0.65"/><ellipse cx="6.0" cy="226.4" rx="2.1" ry="4.0" transform="rotate(6 6.0 226.4)" fill="#262b1c" opacity="0.65"/><ellipse cx="16.7" cy="129.8" rx="2.7" ry="1.6" transform="rotate(133 16.7 129.8)" fill="#6a6650" opacity="0.65"/><ellipse cx="8.7" cy="200.0" rx="1.9" ry="3.4" transform="rotate(92 8.7 200.0)" fill="#6a6650" opacity="0.65"/><ellipse cx="6.5" cy="179.7" rx="4.0" ry="1.6" transform="rotate(123 6.5 179.7)" fill="#57545a" opacity="0.65"/><ellipse cx="37.4" cy="79.0" rx="3.8" ry="2.8" transform="rotate(49 37.4 79.0)" fill="#6a6650" opacity="0.65"/><ellipse cx="4.6" cy="65.2" rx="2.7" ry="3.9" transform="rotate(142 4.6 65.2)" fill="#7a7258" opacity="0.65"/><ellipse cx="45.6" cy="51.5" rx="2.5" ry="3.1" transform="rotate(161 45.6 51.5)" fill="#262b1c" opacity="0.65"/><ellipse cx="12.4" cy="40.7" rx="2.5" ry="2.3" transform="rotate(70 12.4 40.7)" fill="#2c2d20" opacity="0.65"/><ellipse cx="34.4" cy="74.0" rx="4.1" ry="3.2" transform="rotate(43 34.4 74.0)" fill="#2c2d20" opacity="0.65"/><ellipse cx="8.5" cy="220.1" rx="2.3" ry="4.2" transform="rotate(22 8.5 220.1)" fill="#262b1c" opacity="0.65"/><ellipse cx="27.1" cy="136.1" rx="3.4" ry="3.2" transform="rotate(169 27.1 136.1)" fill="#262b1c" opacity="0.65"/><ellipse cx="31.3" cy="97.1" rx="2.5" ry="2.3" transform="rotate(114 31.3 97.1)" fill="#262b1c" opacity="0.65"/><ellipse cx="46.5" cy="91.9" rx="2.9" ry="3.1" transform="rotate(11 46.5 91.9)" fill="#7a7258" opacity="0.65"/><ellipse cx="28.4" cy="153.2" rx="4.0" ry="1.9" transform="rotate(42 28.4 153.2)" fill="#57545a" opacity="0.65"/><ellipse cx="30.8" cy="161.7" rx="2.7" ry="4.1" transform="rotate(161 30.8 161.7)" fill="#57545a" opacity="0.65"/><ellipse cx="14.1" cy="57.7" rx="3.0" ry="2.0" transform="rotate(46 14.1 57.7)" fill="#7a7258" opacity="0.65"/><ellipse cx="3.9" cy="104.1" rx="2.5" ry="3.7" transform="rotate(25 3.9 104.1)" fill="#7a7258" opacity="0.65"/><ellipse cx="31.0" cy="136.2" rx="2.0" ry="2.5" transform="rotate(65 31.0 136.2)" fill="#57545a" opacity="0.65"/><ellipse cx="31.0" cy="59.4" rx="4.3" ry="3.5" transform="rotate(90 31.0 59.4)" fill="#262b1c" opacity="0.65"/><ellipse cx="13.2" cy="195.8" rx="2.5" ry="4.1" transform="rotate(142 13.2 195.8)" fill="#7a7258" opacity="0.65"/><ellipse cx="48.6" cy="71.6" rx="2.0" ry="3.7" transform="rotate(166 48.6 71.6)" fill="#6a6650" opacity="0.65"/><ellipse cx="37.8" cy="63.8" rx="1.6" ry="2.0" transform="rotate(98 37.8 63.8)" fill="#6a6650" opacity="0.65"/><ellipse cx="36.0" cy="107.8" rx="3.0" ry="2.2" transform="rotate(57 36.0 107.8)" fill="#262b1c" opacity="0.65"/><ellipse cx="31.1" cy="100.0" rx="2.8" ry="3.7" transform="rotate(132 31.1 100.0)" fill="#6a6650" opacity="0.65"/><ellipse cx="20.3" cy="42.4" rx="4.3" ry="3.3" transform="rotate(154 20.3 42.4)" fill="#6a6650" opacity="0.65"/><ellipse cx="12.4" cy="182.1" rx="2.5" ry="3.4" transform="rotate(84 12.4 182.1)" fill="#6a6650" opacity="0.65"/><ellipse cx="43.8" cy="59.8" rx="2.4" ry="2.4" transform="rotate(46 43.8 59.8)" fill="#57545a" opacity="0.65"/><ellipse cx="6.2" cy="37.0" rx="4.5" ry="3.5" transform="rotate(142 6.2 37.0)" fill="#7a7258" opacity="0.65"/><ellipse cx="38.6" cy="48.9" rx="3.1" ry="4.3" transform="rotate(100 38.6 48.9)" fill="#2c2d20" opacity="0.65"/><ellipse cx="29.6" cy="135.9" rx="2.9" ry="4.1" transform="rotate(135 29.6 135.9)" fill="#57545a" opacity="0.65"/>
<ellipse cx="159.2" cy="25.2" rx="3.5" ry="3.9" transform="rotate(133 159.2 25.2)" fill="#7a8364" opacity="0.55"/><ellipse cx="102.8" cy="15.8" rx="3.9" ry="3.1" transform="rotate(162 102.8 15.8)" fill="#9c8f78" opacity="0.55"/><ellipse cx="135.3" cy="29.5" rx="2.5" ry="1.8" transform="rotate(45 135.3 29.5)" fill="#7a8364" opacity="0.55"/><ellipse cx="120.6" cy="9.5" rx="3.8" ry="3.4" transform="rotate(29 120.6 9.5)" fill="#9c8f78" opacity="0.55"/><ellipse cx="113.2" cy="21.0" rx="1.8" ry="1.5" transform="rotate(157 113.2 21.0)" fill="#9c8f78" opacity="0.55"/><ellipse cx="115.8" cy="5.7" rx="2.3" ry="2.0" transform="rotate(158 115.8 5.7)" fill="#7a8364" opacity="0.55"/><ellipse cx="119.5" cy="32.0" rx="3.2" ry="3.9" transform="rotate(161 119.5 32.0)" fill="#605f4c" opacity="0.55"/><ellipse cx="102.0" cy="14.1" rx="3.8" ry="2.2" transform="rotate(60 102.0 14.1)" fill="#7a8364" opacity="0.55"/><ellipse cx="155.7" cy="20.3" rx="3.3" ry="1.7" transform="rotate(64 155.7 20.3)" fill="#605f4c" opacity="0.55"/><ellipse cx="145.7" cy="10.7" rx="2.7" ry="3.3" transform="rotate(10 145.7 10.7)" fill="#9c8f78" opacity="0.55"/><ellipse cx="190.2" cy="12.2" rx="2.5" ry="2.9" transform="rotate(75 190.2 12.2)" fill="#605f4c" opacity="0.55"/><ellipse cx="155.0" cy="0.3" rx="1.6" ry="2.0" transform="rotate(172 155.0 0.3)" fill="#9c8f78" opacity="0.55"/><ellipse cx="111.3" cy="8.4" rx="3.5" ry="2.7" transform="rotate(92 111.3 8.4)" fill="#7a8364" opacity="0.55"/><ellipse cx="123.8" cy="15.7" rx="3.0" ry="3.5" transform="rotate(66 123.8 15.7)" fill="#605f4c" opacity="0.55"/><ellipse cx="103.5" cy="32.2" rx="1.7" ry="2.4" transform="rotate(110 103.5 32.2)" fill="#9c8f78" opacity="0.55"/><ellipse cx="132.3" cy="31.4" rx="2.9" ry="2.3" transform="rotate(57 132.3 31.4)" fill="#9c8f78" opacity="0.55"/><ellipse cx="175.9" cy="21.3" rx="3.3" ry="2.3" transform="rotate(87 175.9 21.3)" fill="#7a8364" opacity="0.55"/><ellipse cx="104.6" cy="33.5" rx="2.8" ry="2.5" transform="rotate(43 104.6 33.5)" fill="#7a8364" opacity="0.55"/><ellipse cx="132.7" cy="8.5" rx="3.1" ry="1.9" transform="rotate(176 132.7 8.5)" fill="#7a8364" opacity="0.55"/><ellipse cx="103.1" cy="16.8" rx="3.6" ry="1.8" transform="rotate(132 103.1 16.8)" fill="#9c8f78" opacity="0.55"/><ellipse cx="159.9" cy="26.8" rx="1.8" ry="2.6" transform="rotate(27 159.9 26.8)" fill="#605f4c" opacity="0.55"/><ellipse cx="128.0" cy="15.4" rx="4.0" ry="3.6" transform="rotate(176 128.0 15.4)" fill="#605f4c" opacity="0.55"/><ellipse cx="191.2" cy="23.4" rx="2.3" ry="2.2" transform="rotate(85 191.2 23.4)" fill="#9c8f78" opacity="0.55"/><ellipse cx="110.7" cy="27.9" rx="2.8" ry="1.9" transform="rotate(169 110.7 27.9)" fill="#605f4c" opacity="0.55"/><ellipse cx="117.1" cy="16.7" rx="2.8" ry="2.9" transform="rotate(91 117.1 16.7)" fill="#9c8f78" opacity="0.55"/><ellipse cx="174.7" cy="26.3" rx="3.2" ry="3.2" transform="rotate(137 174.7 26.3)" fill="#605f4c" opacity="0.55"/><ellipse cx="153.1" cy="22.7" rx="3.6" ry="2.2" transform="rotate(177 153.1 22.7)" fill="#7a8364" opacity="0.55"/><ellipse cx="127.9" cy="32.1" rx="3.1" ry="3.0" transform="rotate(2 127.9 32.1)" fill="#7a8364" opacity="0.55"/><ellipse cx="173.5" cy="11.1" rx="2.2" ry="2.2" transform="rotate(90 173.5 11.1)" fill="#7a8364" opacity="0.55"/><ellipse cx="175.8" cy="11.8" rx="3.1" ry="3.3" transform="rotate(149 175.8 11.8)" fill="#605f4c" opacity="0.55"/><ellipse cx="187.6" cy="5.9" rx="3.7" ry="2.6" transform="rotate(66 187.6 5.9)" fill="#605f4c" opacity="0.55"/><ellipse cx="149.2" cy="18.0" rx="1.9" ry="3.6" transform="rotate(169 149.2 18.0)" fill="#605f4c" opacity="0.55"/><ellipse cx="126.9" cy="2.7" rx="3.2" ry="2.5" transform="rotate(111 126.9 2.7)" fill="#7a8364" opacity="0.55"/><ellipse cx="149.1" cy="31.8" rx="2.3" ry="2.9" transform="rotate(156 149.1 31.8)" fill="#605f4c" opacity="0.55"/><ellipse cx="168.4" cy="0.9" rx="1.9" ry="2.6" transform="rotate(117 168.4 0.9)" fill="#9c8f78" opacity="0.55"/><ellipse cx="172.1" cy="6.1" rx="3.3" ry="4.0" transform="rotate(176 172.1 6.1)" fill="#9c8f78" opacity="0.55"/><ellipse cx="105.1" cy="4.5" rx="2.3" ry="2.0" transform="rotate(35 105.1 4.5)" fill="#9c8f78" opacity="0.55"/><ellipse cx="139.5" cy="11.9" rx="3.2" ry="1.7" transform="rotate(37 139.5 11.9)" fill="#7a8364" opacity="0.55"/><ellipse cx="185.8" cy="0.0" rx="2.5" ry="2.2" transform="rotate(74 185.8 0.0)" fill="#9c8f78" opacity="0.55"/><ellipse cx="165.4" cy="18.6" rx="3.9" ry="2.9" transform="rotate(54 165.4 18.6)" fill="#605f4c" opacity="0.55"/><ellipse cx="151.8" cy="11.5" rx="3.0" ry="3.9" transform="rotate(147 151.8 11.5)" fill="#605f4c" opacity="0.55"/><ellipse cx="138.9" cy="19.2" rx="2.8" ry="2.7" transform="rotate(28 138.9 19.2)" fill="#605f4c" opacity="0.55"/><ellipse cx="153.6" cy="32.5" rx="3.9" ry="3.0" transform="rotate(63 153.6 32.5)" fill="#7a8364" opacity="0.55"/><ellipse cx="100.1" cy="3.7" rx="2.9" ry="3.0" transform="rotate(25 100.1 3.7)" fill="#7a8364" opacity="0.55"/><ellipse cx="183.3" cy="19.2" rx="2.6" ry="3.9" transform="rotate(89 183.3 19.2)" fill="#605f4c" opacity="0.55"/><ellipse cx="191.3" cy="31.1" rx="3.0" ry="2.1" transform="rotate(177 191.3 31.1)" fill="#605f4c" opacity="0.55"/><ellipse cx="123.9" cy="0.7" rx="3.9" ry="2.3" transform="rotate(167 123.9 0.7)" fill="#9c8f78" opacity="0.55"/><ellipse cx="145.3" cy="4.1" rx="3.1" ry="2.6" transform="rotate(53 145.3 4.1)" fill="#9c8f78" opacity="0.55"/><ellipse cx="178.5" cy="0.4" rx="2.8" ry="2.2" transform="rotate(168 178.5 0.4)" fill="#9c8f78" opacity="0.55"/><ellipse cx="123.3" cy="9.1" rx="1.9" ry="4.0" transform="rotate(53 123.3 9.1)" fill="#7a8364" opacity="0.55"/><ellipse cx="182.0" cy="29.9" rx="3.7" ry="1.5" transform="rotate(23 182.0 29.9)" fill="#605f4c" opacity="0.55"/><ellipse cx="150.7" cy="11.4" rx="2.2" ry="2.8" transform="rotate(84 150.7 11.4)" fill="#605f4c" opacity="0.55"/><ellipse cx="164.8" cy="27.6" rx="1.8" ry="1.5" transform="rotate(100 164.8 27.6)" fill="#7a8364" opacity="0.55"/><ellipse cx="187.1" cy="30.2" rx="2.9" ry="1.5" transform="rotate(140 187.1 30.2)" fill="#605f4c" opacity="0.55"/><ellipse cx="156.5" cy="23.4" rx="3.9" ry="3.1" transform="rotate(155 156.5 23.4)" fill="#605f4c" opacity="0.55"/><ellipse cx="145.2" cy="23.2" rx="3.3" ry="3.7" transform="rotate(84 145.2 23.2)" fill="#9c8f78" opacity="0.55"/><ellipse cx="128.8" cy="0.1" rx="3.4" ry="3.0" transform="rotate(117 128.8 0.1)" fill="#605f4c" opacity="0.55"/><ellipse cx="186.5" cy="4.9" rx="2.7" ry="2.9" transform="rotate(90 186.5 4.9)" fill="#605f4c" opacity="0.55"/><ellipse cx="151.1" cy="14.5" rx="2.9" ry="1.6" transform="rotate(132 151.1 14.5)" fill="#605f4c" opacity="0.55"/><ellipse cx="177.9" cy="26.9" rx="3.2" ry="1.6" transform="rotate(130 177.9 26.9)" fill="#9c8f78" opacity="0.55"/><ellipse cx="104.6" cy="28.6" rx="2.0" ry="3.1" transform="rotate(171 104.6 28.6)" fill="#7a8364" opacity="0.55"/><ellipse cx="167.0" cy="14.9" rx="2.0" ry="2.0" transform="rotate(144 167.0 14.9)" fill="#9c8f78" opacity="0.55"/><ellipse cx="159.1" cy="1.5" rx="1.8" ry="2.4" transform="rotate(13 159.1 1.5)" fill="#9c8f78" opacity="0.55"/><ellipse cx="154.3" cy="4.0" rx="2.5" ry="3.1" transform="rotate(2 154.3 4.0)" fill="#9c8f78" opacity="0.55"/><ellipse cx="129.9" cy="20.4" rx="2.7" ry="3.8" transform="rotate(67 129.9 20.4)" fill="#9c8f78" opacity="0.55"/><ellipse cx="113.1" cy="10.0" rx="2.9" ry="3.2" transform="rotate(52 113.1 10.0)" fill="#7a8364" opacity="0.55"/><ellipse cx="152.2" cy="7.5" rx="1.7" ry="2.1" transform="rotate(150 152.2 7.5)" fill="#605f4c" opacity="0.55"/><ellipse cx="149.1" cy="4.5" rx="2.1" ry="2.4" transform="rotate(133 149.1 4.5)" fill="#9c8f78" opacity="0.55"/><ellipse cx="112.5" cy="0.6" rx="2.4" ry="2.9" transform="rotate(6 112.5 0.6)" fill="#9c8f78" opacity="0.55"/><ellipse cx="148.1" cy="15.4" rx="2.5" ry="2.7" transform="rotate(173 148.1 15.4)" fill="#9c8f78" opacity="0.55"/>
<ellipse cx="80.0" cy="31.2" rx="3.5" ry="2.8" transform="rotate(0 80.0 31.2)" fill="#5c8060" opacity="0.55"/><ellipse cx="48.6" cy="28.9" rx="3.1" ry="4.3" transform="rotate(49 48.6 28.9)" fill="#5a7258" opacity="0.55"/><ellipse cx="73.8" cy="15.7" rx="3.6" ry="4.0" transform="rotate(35 73.8 15.7)" fill="#5c8060" opacity="0.55"/><ellipse cx="70.9" cy="27.7" rx="4.0" ry="3.8" transform="rotate(16 70.9 27.7)" fill="#7d7a80" opacity="0.55"/><ellipse cx="35.6" cy="3.5" rx="4.4" ry="4.4" transform="rotate(80 35.6 3.5)" fill="#857f88" opacity="0.55"/><ellipse cx="76.3" cy="26.6" rx="4.4" ry="2.3" transform="rotate(8 76.3 26.6)" fill="#5a7258" opacity="0.55"/><ellipse cx="83.3" cy="34.7" rx="3.5" ry="4.5" transform="rotate(35 83.3 34.7)" fill="#5c8060" opacity="0.55"/><ellipse cx="65.5" cy="26.5" rx="4.4" ry="4.9" transform="rotate(5 65.5 26.5)" fill="#67626a" opacity="0.55"/><ellipse cx="26.8" cy="16.3" rx="3.1" ry="2.4" transform="rotate(90 26.8 16.3)" fill="#5c8060" opacity="0.55"/><ellipse cx="22.3" cy="23.1" rx="2.8" ry="4.2" transform="rotate(68 22.3 23.1)" fill="#5a7258" opacity="0.55"/><ellipse cx="16.4" cy="8.0" rx="4.6" ry="4.1" transform="rotate(2 16.4 8.0)" fill="#5a7258" opacity="0.55"/><ellipse cx="4.7" cy="12.7" rx="4.7" ry="3.9" transform="rotate(55 4.7 12.7)" fill="#7d7a80" opacity="0.55"/><ellipse cx="54.2" cy="11.0" rx="4.0" ry="3.5" transform="rotate(33 54.2 11.0)" fill="#5c8060" opacity="0.55"/><ellipse cx="75.4" cy="15.1" rx="4.9" ry="2.7" transform="rotate(176 75.4 15.1)" fill="#5c8060" opacity="0.55"/><ellipse cx="68.0" cy="33.8" rx="3.3" ry="4.5" transform="rotate(143 68.0 33.8)" fill="#5c8060" opacity="0.55"/><ellipse cx="44.4" cy="11.5" rx="4.4" ry="4.8" transform="rotate(35 44.4 11.5)" fill="#67626a" opacity="0.55"/><ellipse cx="46.8" cy="27.5" rx="4.9" ry="2.1" transform="rotate(97 46.8 27.5)" fill="#67626a" opacity="0.55"/><ellipse cx="60.2" cy="13.7" rx="2.8" ry="3.4" transform="rotate(167 60.2 13.7)" fill="#67626a" opacity="0.55"/><ellipse cx="98.2" cy="35.2" rx="3.3" ry="3.5" transform="rotate(108 98.2 35.2)" fill="#7d7a80" opacity="0.55"/><ellipse cx="50.7" cy="27.4" rx="3.5" ry="3.9" transform="rotate(84 50.7 27.4)" fill="#67626a" opacity="0.55"/><ellipse cx="92.5" cy="14.3" rx="3.8" ry="3.0" transform="rotate(72 92.5 14.3)" fill="#7d7a80" opacity="0.55"/><ellipse cx="73.7" cy="6.0" rx="4.5" ry="3.7" transform="rotate(112 73.7 6.0)" fill="#857f88" opacity="0.55"/><ellipse cx="20.7" cy="23.2" rx="3.7" ry="4.0" transform="rotate(67 20.7 23.2)" fill="#7d7a80" opacity="0.55"/><ellipse cx="85.8" cy="2.4" rx="2.6" ry="4.8" transform="rotate(110 85.8 2.4)" fill="#7d7a80" opacity="0.55"/><ellipse cx="81.2" cy="30.4" rx="3.6" ry="2.2" transform="rotate(42 81.2 30.4)" fill="#67626a" opacity="0.55"/><ellipse cx="38.1" cy="5.5" rx="3.9" ry="3.8" transform="rotate(26 38.1 5.5)" fill="#857f88" opacity="0.55"/><ellipse cx="72.3" cy="1.7" rx="3.4" ry="4.2" transform="rotate(12 72.3 1.7)" fill="#857f88" opacity="0.55"/><ellipse cx="71.0" cy="4.8" rx="4.5" ry="2.3" transform="rotate(111 71.0 4.8)" fill="#67626a" opacity="0.55"/><ellipse cx="91.0" cy="33.9" rx="3.4" ry="4.1" transform="rotate(142 91.0 33.9)" fill="#5a7258" opacity="0.55"/><ellipse cx="82.4" cy="7.2" rx="4.8" ry="3.4" transform="rotate(79 82.4 7.2)" fill="#5c8060" opacity="0.55"/><ellipse cx="29.8" cy="27.1" rx="2.2" ry="4.4" transform="rotate(176 29.8 27.1)" fill="#67626a" opacity="0.55"/><ellipse cx="37.9" cy="1.3" rx="3.5" ry="2.8" transform="rotate(49 37.9 1.3)" fill="#7d7a80" opacity="0.55"/><ellipse cx="44.8" cy="35.0" rx="2.1" ry="2.3" transform="rotate(147 44.8 35.0)" fill="#5a7258" opacity="0.55"/><ellipse cx="54.9" cy="1.2" rx="2.5" ry="3.1" transform="rotate(9 54.9 1.2)" fill="#5a7258" opacity="0.55"/><ellipse cx="71.0" cy="13.1" rx="2.2" ry="4.2" transform="rotate(21 71.0 13.1)" fill="#5c8060" opacity="0.55"/><ellipse cx="16.2" cy="28.2" rx="3.9" ry="2.4" transform="rotate(63 16.2 28.2)" fill="#857f88" opacity="0.55"/><ellipse cx="21.0" cy="26.9" rx="2.6" ry="4.2" transform="rotate(91 21.0 26.9)" fill="#7d7a80" opacity="0.55"/><ellipse cx="80.3" cy="35.9" rx="4.1" ry="4.1" transform="rotate(23 80.3 35.9)" fill="#5a7258" opacity="0.55"/><ellipse cx="57.4" cy="0.2" rx="4.4" ry="3.2" transform="rotate(137 57.4 0.2)" fill="#7d7a80" opacity="0.55"/><ellipse cx="54.1" cy="0.4" rx="4.5" ry="3.6" transform="rotate(153 54.1 0.4)" fill="#5a7258" opacity="0.55"/><ellipse cx="72.5" cy="24.5" rx="4.4" ry="3.1" transform="rotate(120 72.5 24.5)" fill="#5a7258" opacity="0.55"/><ellipse cx="18.9" cy="23.8" rx="3.2" ry="2.2" transform="rotate(7 18.9 23.8)" fill="#857f88" opacity="0.55"/><ellipse cx="14.1" cy="27.0" rx="2.3" ry="3.1" transform="rotate(6 14.1 27.0)" fill="#5c8060" opacity="0.55"/><ellipse cx="24.8" cy="15.5" rx="4.3" ry="4.1" transform="rotate(171 24.8 15.5)" fill="#857f88" opacity="0.55"/><ellipse cx="48.7" cy="27.5" rx="4.6" ry="2.5" transform="rotate(119 48.7 27.5)" fill="#857f88" opacity="0.55"/><ellipse cx="95.9" cy="26.7" rx="2.5" ry="4.1" transform="rotate(5 95.9 26.7)" fill="#7d7a80" opacity="0.55"/><ellipse cx="66.1" cy="10.9" rx="3.3" ry="2.6" transform="rotate(155 66.1 10.9)" fill="#5c8060" opacity="0.55"/><ellipse cx="79.4" cy="8.1" rx="3.8" ry="2.8" transform="rotate(142 79.4 8.1)" fill="#67626a" opacity="0.55"/><ellipse cx="78.4" cy="3.6" rx="3.8" ry="2.1" transform="rotate(66 78.4 3.6)" fill="#857f88" opacity="0.55"/><ellipse cx="24.9" cy="29.0" rx="3.1" ry="4.1" transform="rotate(61 24.9 29.0)" fill="#857f88" opacity="0.55"/><ellipse cx="36.4" cy="1.2" rx="3.0" ry="3.5" transform="rotate(83 36.4 1.2)" fill="#67626a" opacity="0.55"/><ellipse cx="11.5" cy="22.4" rx="2.8" ry="2.4" transform="rotate(75 11.5 22.4)" fill="#5a7258" opacity="0.55"/><ellipse cx="26.6" cy="25.2" rx="4.9" ry="3.3" transform="rotate(93 26.6 25.2)" fill="#7d7a80" opacity="0.55"/><ellipse cx="93.1" cy="9.6" rx="2.9" ry="2.1" transform="rotate(136 93.1 9.6)" fill="#857f88" opacity="0.55"/><ellipse cx="81.4" cy="21.9" rx="4.8" ry="4.4" transform="rotate(92 81.4 21.9)" fill="#857f88" opacity="0.55"/><ellipse cx="17.7" cy="14.9" rx="3.5" ry="4.6" transform="rotate(138 17.7 14.9)" fill="#5c8060" opacity="0.55"/><ellipse cx="81.7" cy="17.9" rx="4.5" ry="4.7" transform="rotate(28 81.7 17.9)" fill="#7d7a80" opacity="0.55"/><ellipse cx="87.4" cy="32.5" rx="3.0" ry="2.8" transform="rotate(24 87.4 32.5)" fill="#67626a" opacity="0.55"/><ellipse cx="60.1" cy="25.8" rx="2.7" ry="4.3" transform="rotate(32 60.1 25.8)" fill="#7d7a80" opacity="0.55"/><ellipse cx="63.4" cy="29.2" rx="4.8" ry="2.3" transform="rotate(68 63.4 29.2)" fill="#5a7258" opacity="0.55"/><ellipse cx="76.1" cy="34.7" rx="2.4" ry="4.8" transform="rotate(9 76.1 34.7)" fill="#5c8060" opacity="0.55"/><ellipse cx="78.3" cy="18.5" rx="3.1" ry="5.0" transform="rotate(152 78.3 18.5)" fill="#5c8060" opacity="0.55"/><ellipse cx="40.8" cy="10.4" rx="4.0" ry="4.9" transform="rotate(47 40.8 10.4)" fill="#857f88" opacity="0.55"/><ellipse cx="13.6" cy="22.9" rx="4.2" ry="2.5" transform="rotate(91 13.6 22.9)" fill="#857f88" opacity="0.55"/><ellipse cx="78.9" cy="29.1" rx="4.9" ry="2.3" transform="rotate(150 78.9 29.1)" fill="#857f88" opacity="0.55"/><ellipse cx="24.0" cy="12.9" rx="4.9" ry="4.5" transform="rotate(44 24.0 12.9)" fill="#5a7258" opacity="0.55"/><ellipse cx="24.9" cy="4.8" rx="3.4" ry="4.8" transform="rotate(112 24.9 4.8)" fill="#5c8060" opacity="0.55"/><ellipse cx="16.3" cy="36.9" rx="2.6" ry="3.1" transform="rotate(26 16.3 36.9)" fill="#67626a" opacity="0.55"/><ellipse cx="63.7" cy="34.6" rx="2.8" ry="2.0" transform="rotate(159 63.7 34.6)" fill="#857f88" opacity="0.55"/><ellipse cx="49.5" cy="24.0" rx="3.0" ry="2.0" transform="rotate(161 49.5 24.0)" fill="#857f88" opacity="0.55"/><ellipse cx="40.3" cy="23.7" rx="2.3" ry="4.5" transform="rotate(67 40.3 23.7)" fill="#5a7258" opacity="0.55"/><ellipse cx="38.9" cy="29.0" rx="4.2" ry="4.4" transform="rotate(170 38.9 29.0)" fill="#5a7258" opacity="0.55"/><ellipse cx="13.1" cy="16.9" rx="2.0" ry="5.0" transform="rotate(175 13.1 16.9)" fill="#5c8060" opacity="0.55"/><ellipse cx="49.6" cy="2.7" rx="2.4" ry="4.1" transform="rotate(143 49.6 2.7)" fill="#5a7258" opacity="0.55"/><ellipse cx="45.5" cy="9.7" rx="3.6" ry="3.0" transform="rotate(98 45.5 9.7)" fill="#67626a" opacity="0.55"/><ellipse cx="72.7" cy="1.7" rx="4.2" ry="4.0" transform="rotate(112 72.7 1.7)" fill="#857f88" opacity="0.55"/><ellipse cx="54.1" cy="31.1" rx="3.7" ry="2.8" transform="rotate(152 54.1 31.1)" fill="#67626a" opacity="0.55"/><ellipse cx="4.4" cy="8.0" rx="2.9" ry="2.5" transform="rotate(10 4.4 8.0)" fill="#67626a" opacity="0.55"/><ellipse cx="71.1" cy="33.5" rx="2.7" ry="4.2" transform="rotate(107 71.1 33.5)" fill="#857f88" opacity="0.55"/><ellipse cx="82.1" cy="31.5" rx="3.7" ry="3.0" transform="rotate(86 82.1 31.5)" fill="#5a7258" opacity="0.55"/><ellipse cx="49.1" cy="33.8" rx="3.9" ry="2.4" transform="rotate(132 49.1 33.8)" fill="#7d7a80" opacity="0.55"/><ellipse cx="8.3" cy="33.8" rx="2.6" ry="3.3" transform="rotate(39 8.3 33.8)" fill="#857f88" opacity="0.55"/><ellipse cx="49.8" cy="24.5" rx="4.5" ry="2.8" transform="rotate(48 49.8 24.5)" fill="#67626a" opacity="0.55"/><ellipse cx="32.2" cy="16.2" rx="3.1" ry="5.0" transform="rotate(98 32.2 16.2)" fill="#5a7258" opacity="0.55"/><ellipse cx="93.9" cy="2.3" rx="3.5" ry="4.5" transform="rotate(177 93.9 2.3)" fill="#857f88" opacity="0.55"/><ellipse cx="10.6" cy="4.2" rx="3.3" ry="3.6" transform="rotate(32 10.6 4.2)" fill="#67626a" opacity="0.55"/><ellipse cx="37.1" cy="2.4" rx="4.1" ry="3.0" transform="rotate(73 37.1 2.4)" fill="#857f88" opacity="0.55"/><ellipse cx="74.9" cy="10.8" rx="3.5" ry="4.2" transform="rotate(161 74.9 10.8)" fill="#5a7258" opacity="0.55"/><ellipse cx="77.4" cy="35.0" rx="4.3" ry="3.6" transform="rotate(69 77.4 35.0)" fill="#5a7258" opacity="0.55"/><ellipse cx="79.0" cy="24.4" rx="4.6" ry="4.7" transform="rotate(19 79.0 24.4)" fill="#5a7258" opacity="0.55"/>
<ellipse cx="188.2" cy="267.3" rx="3.5" ry="1.7" transform="rotate(96 188.2 267.3)" fill="#2a3322" opacity="0.65"/><ellipse cx="220.3" cy="293.8" rx="2.1" ry="1.8" transform="rotate(75 220.3 293.8)" fill="#525c42" opacity="0.65"/><ellipse cx="159.2" cy="276.9" rx="4.0" ry="1.9" transform="rotate(40 159.2 276.9)" fill="#1f261a" opacity="0.65"/><ellipse cx="219.6" cy="275.9" rx="4.4" ry="1.6" transform="rotate(155 219.6 275.9)" fill="#2a3322" opacity="0.65"/><ellipse cx="200.0" cy="280.9" rx="3.2" ry="3.2" transform="rotate(123 200.0 280.9)" fill="#1f261a" opacity="0.65"/><ellipse cx="220.1" cy="284.4" rx="2.6" ry="3.1" transform="rotate(11 220.1 284.4)" fill="#1f261a" opacity="0.65"/><ellipse cx="224.8" cy="279.4" rx="3.1" ry="3.8" transform="rotate(84 224.8 279.4)" fill="#3d4832" opacity="0.65"/><ellipse cx="192.8" cy="270.7" rx="2.0" ry="3.8" transform="rotate(15 192.8 270.7)" fill="#2a3322" opacity="0.65"/><ellipse cx="213.1" cy="292.6" rx="3.7" ry="2.4" transform="rotate(176 213.1 292.6)" fill="#1f261a" opacity="0.65"/><ellipse cx="211.5" cy="267.8" rx="2.5" ry="4.3" transform="rotate(76 211.5 267.8)" fill="#1f261a" opacity="0.65"/><ellipse cx="242.8" cy="282.1" rx="4.1" ry="2.4" transform="rotate(125 242.8 282.1)" fill="#3d4832" opacity="0.65"/><ellipse cx="219.9" cy="278.0" rx="4.0" ry="4.3" transform="rotate(85 219.9 278.0)" fill="#1f261a" opacity="0.65"/><ellipse cx="155.5" cy="286.6" rx="3.4" ry="4.5" transform="rotate(148 155.5 286.6)" fill="#2a3322" opacity="0.65"/><ellipse cx="236.9" cy="293.0" rx="2.5" ry="4.3" transform="rotate(64 236.9 293.0)" fill="#1f261a" opacity="0.65"/><ellipse cx="209.2" cy="269.6" rx="2.4" ry="3.7" transform="rotate(72 209.2 269.6)" fill="#3d4832" opacity="0.65"/><ellipse cx="158.0" cy="277.7" rx="3.1" ry="4.2" transform="rotate(147 158.0 277.7)" fill="#2a3322" opacity="0.65"/><ellipse cx="235.6" cy="296.5" rx="3.5" ry="2.6" transform="rotate(42 235.6 296.5)" fill="#1f261a" opacity="0.65"/><ellipse cx="169.9" cy="270.1" rx="2.2" ry="3.0" transform="rotate(106 169.9 270.1)" fill="#2a3322" opacity="0.65"/><ellipse cx="183.0" cy="267.1" rx="3.1" ry="3.3" transform="rotate(57 183.0 267.1)" fill="#525c42" opacity="0.65"/><ellipse cx="233.6" cy="280.0" rx="3.4" ry="3.5" transform="rotate(10 233.6 280.0)" fill="#3d4832" opacity="0.65"/><ellipse cx="197.4" cy="275.8" rx="2.9" ry="2.7" transform="rotate(34 197.4 275.8)" fill="#525c42" opacity="0.65"/><ellipse cx="202.6" cy="265.8" rx="3.3" ry="1.8" transform="rotate(102 202.6 265.8)" fill="#1f261a" opacity="0.65"/><ellipse cx="265.7" cy="283.5" rx="1.7" ry="2.1" transform="rotate(68 265.7 283.5)" fill="#2a3322" opacity="0.65"/><ellipse cx="266.5" cy="283.1" rx="2.9" ry="1.8" transform="rotate(88 266.5 283.1)" fill="#3d4832" opacity="0.65"/><ellipse cx="207.6" cy="272.9" rx="1.9" ry="3.7" transform="rotate(133 207.6 272.9)" fill="#3d4832" opacity="0.65"/><ellipse cx="250.8" cy="267.7" rx="1.6" ry="4.4" transform="rotate(95 250.8 267.7)" fill="#525c42" opacity="0.65"/><ellipse cx="233.6" cy="294.0" rx="3.8" ry="2.4" transform="rotate(116 233.6 294.0)" fill="#1f261a" opacity="0.65"/><ellipse cx="234.3" cy="271.1" rx="2.6" ry="2.0" transform="rotate(139 234.3 271.1)" fill="#2a3322" opacity="0.65"/><ellipse cx="226.9" cy="283.5" rx="3.9" ry="3.8" transform="rotate(35 226.9 283.5)" fill="#525c42" opacity="0.65"/><ellipse cx="249.5" cy="287.9" rx="2.2" ry="3.1" transform="rotate(64 249.5 287.9)" fill="#1f261a" opacity="0.65"/><ellipse cx="270.7" cy="289.7" rx="2.9" ry="2.1" transform="rotate(109 270.7 289.7)" fill="#2a3322" opacity="0.65"/><ellipse cx="203.5" cy="294.8" rx="4.5" ry="4.4" transform="rotate(66 203.5 294.8)" fill="#525c42" opacity="0.65"/><ellipse cx="160.7" cy="278.5" rx="2.5" ry="2.9" transform="rotate(177 160.7 278.5)" fill="#1f261a" opacity="0.65"/><ellipse cx="207.5" cy="284.9" rx="3.9" ry="1.8" transform="rotate(119 207.5 284.9)" fill="#3d4832" opacity="0.65"/><ellipse cx="245.0" cy="288.3" rx="2.9" ry="2.0" transform="rotate(142 245.0 288.3)" fill="#2a3322" opacity="0.65"/><ellipse cx="158.8" cy="295.1" rx="3.7" ry="2.9" transform="rotate(134 158.8 295.1)" fill="#1f261a" opacity="0.65"/><ellipse cx="237.9" cy="268.0" rx="1.9" ry="2.0" transform="rotate(163 237.9 268.0)" fill="#525c42" opacity="0.65"/><ellipse cx="223.8" cy="282.9" rx="2.9" ry="4.3" transform="rotate(28 223.8 282.9)" fill="#525c42" opacity="0.65"/><ellipse cx="150.7" cy="290.0" rx="3.7" ry="1.8" transform="rotate(135 150.7 290.0)" fill="#525c42" opacity="0.65"/><ellipse cx="201.8" cy="292.5" rx="4.0" ry="2.1" transform="rotate(45 201.8 292.5)" fill="#2a3322" opacity="0.65"/><ellipse cx="210.1" cy="288.7" rx="2.5" ry="3.1" transform="rotate(150 210.1 288.7)" fill="#1f261a" opacity="0.65"/><ellipse cx="260.8" cy="274.4" rx="2.9" ry="3.3" transform="rotate(163 260.8 274.4)" fill="#3d4832" opacity="0.65"/><ellipse cx="250.6" cy="292.7" rx="1.9" ry="2.0" transform="rotate(92 250.6 292.7)" fill="#3d4832" opacity="0.65"/><ellipse cx="244.3" cy="283.3" rx="3.8" ry="1.9" transform="rotate(25 244.3 283.3)" fill="#1f261a" opacity="0.65"/><ellipse cx="217.0" cy="273.4" rx="3.1" ry="3.2" transform="rotate(141 217.0 273.4)" fill="#1f261a" opacity="0.65"/><ellipse cx="257.5" cy="264.0" rx="2.1" ry="1.6" transform="rotate(18 257.5 264.0)" fill="#3d4832" opacity="0.65"/><ellipse cx="217.7" cy="288.6" rx="4.2" ry="2.8" transform="rotate(110 217.7 288.6)" fill="#525c42" opacity="0.65"/><ellipse cx="233.9" cy="277.8" rx="3.1" ry="2.9" transform="rotate(169 233.9 277.8)" fill="#2a3322" opacity="0.65"/><ellipse cx="262.4" cy="293.2" rx="2.1" ry="2.8" transform="rotate(75 262.4 293.2)" fill="#3d4832" opacity="0.65"/><ellipse cx="231.0" cy="289.4" rx="4.2" ry="2.0" transform="rotate(129 231.0 289.4)" fill="#2a3322" opacity="0.65"/><ellipse cx="165.7" cy="292.9" rx="4.4" ry="2.2" transform="rotate(171 165.7 292.9)" fill="#3d4832" opacity="0.65"/><ellipse cx="257.7" cy="267.7" rx="3.5" ry="2.2" transform="rotate(127 257.7 267.7)" fill="#3d4832" opacity="0.65"/><ellipse cx="190.1" cy="268.9" rx="2.5" ry="3.7" transform="rotate(4 190.1 268.9)" fill="#3d4832" opacity="0.65"/><ellipse cx="189.1" cy="283.8" rx="3.0" ry="1.7" transform="rotate(177 189.1 283.8)" fill="#525c42" opacity="0.65"/><ellipse cx="268.5" cy="265.7" rx="2.3" ry="1.6" transform="rotate(140 268.5 265.7)" fill="#2a3322" opacity="0.65"/><ellipse cx="241.7" cy="290.7" rx="4.0" ry="3.5" transform="rotate(170 241.7 290.7)" fill="#3d4832" opacity="0.65"/><ellipse cx="166.5" cy="294.2" rx="3.2" ry="3.6" transform="rotate(16 166.5 294.2)" fill="#1f261a" opacity="0.65"/><ellipse cx="247.1" cy="268.4" rx="4.2" ry="2.3" transform="rotate(3 247.1 268.4)" fill="#1f261a" opacity="0.65"/><ellipse cx="247.4" cy="264.9" rx="4.1" ry="1.7" transform="rotate(155 247.4 264.9)" fill="#3d4832" opacity="0.65"/><ellipse cx="149.4" cy="296.8" rx="2.8" ry="4.2" transform="rotate(112 149.4 296.8)" fill="#1f261a" opacity="0.65"/><ellipse cx="213.3" cy="270.3" rx="1.8" ry="2.0" transform="rotate(9 213.3 270.3)" fill="#525c42" opacity="0.65"/><ellipse cx="263.6" cy="284.0" rx="3.1" ry="2.1" transform="rotate(80 263.6 284.0)" fill="#525c42" opacity="0.65"/><ellipse cx="181.5" cy="290.1" rx="4.5" ry="1.6" transform="rotate(3 181.5 290.1)" fill="#525c42" opacity="0.65"/><ellipse cx="211.8" cy="270.6" rx="2.8" ry="3.5" transform="rotate(117 211.8 270.6)" fill="#3d4832" opacity="0.65"/><ellipse cx="215.7" cy="293.1" rx="4.4" ry="2.4" transform="rotate(39 215.7 293.1)" fill="#525c42" opacity="0.65"/><ellipse cx="190.5" cy="291.1" rx="3.6" ry="3.4" transform="rotate(73 190.5 291.1)" fill="#2a3322" opacity="0.65"/><ellipse cx="269.8" cy="291.3" rx="1.5" ry="3.4" transform="rotate(158 269.8 291.3)" fill="#3d4832" opacity="0.65"/><ellipse cx="252.3" cy="292.5" rx="3.5" ry="2.3" transform="rotate(44 252.3 292.5)" fill="#2a3322" opacity="0.65"/><ellipse cx="153.6" cy="268.5" rx="2.3" ry="1.5" transform="rotate(66 153.6 268.5)" fill="#2a3322" opacity="0.65"/><ellipse cx="268.6" cy="281.1" rx="2.2" ry="4.4" transform="rotate(56 268.6 281.1)" fill="#2a3322" opacity="0.65"/><ellipse cx="170.7" cy="273.7" rx="1.8" ry="2.3" transform="rotate(118 170.7 273.7)" fill="#525c42" opacity="0.65"/><ellipse cx="150.8" cy="272.6" rx="2.2" ry="3.3" transform="rotate(95 150.8 272.6)" fill="#525c42" opacity="0.65"/><ellipse cx="229.5" cy="287.1" rx="4.1" ry="2.7" transform="rotate(59 229.5 287.1)" fill="#3d4832" opacity="0.65"/><ellipse cx="166.5" cy="287.3" rx="3.4" ry="1.6" transform="rotate(150 166.5 287.3)" fill="#3d4832" opacity="0.65"/><ellipse cx="239.0" cy="290.4" rx="1.9" ry="3.1" transform="rotate(91 239.0 290.4)" fill="#1f261a" opacity="0.65"/><ellipse cx="250.5" cy="282.4" rx="4.2" ry="3.5" transform="rotate(125 250.5 282.4)" fill="#525c42" opacity="0.65"/><ellipse cx="227.0" cy="295.6" rx="2.6" ry="2.9" transform="rotate(9 227.0 295.6)" fill="#1f261a" opacity="0.65"/><ellipse cx="225.7" cy="285.8" rx="3.0" ry="1.5" transform="rotate(144 225.7 285.8)" fill="#1f261a" opacity="0.65"/><ellipse cx="229.8" cy="264.3" rx="3.7" ry="2.3" transform="rotate(13 229.8 264.3)" fill="#2a3322" opacity="0.65"/><ellipse cx="177.1" cy="288.5" rx="2.2" ry="3.4" transform="rotate(83 177.1 288.5)" fill="#3d4832" opacity="0.65"/><ellipse cx="157.5" cy="293.9" rx="2.4" ry="1.6" transform="rotate(114 157.5 293.9)" fill="#525c42" opacity="0.65"/><ellipse cx="179.5" cy="288.0" rx="2.4" ry="3.2" transform="rotate(2 179.5 288.0)" fill="#1f261a" opacity="0.65"/><ellipse cx="208.2" cy="296.0" rx="1.8" ry="2.2" transform="rotate(88 208.2 296.0)" fill="#2a3322" opacity="0.65"/><ellipse cx="205.6" cy="278.3" rx="1.9" ry="4.2" transform="rotate(36 205.6 278.3)" fill="#1f261a" opacity="0.65"/><ellipse cx="264.1" cy="262.6" rx="2.9" ry="4.0" transform="rotate(174 264.1 262.6)" fill="#3d4832" opacity="0.65"/><ellipse cx="271.3" cy="275.5" rx="4.2" ry="4.3" transform="rotate(13 271.3 275.5)" fill="#1f261a" opacity="0.65"/><ellipse cx="165.6" cy="280.3" rx="4.4" ry="1.9" transform="rotate(148 165.6 280.3)" fill="#2a3322" opacity="0.65"/><ellipse cx="258.0" cy="286.6" rx="2.2" ry="4.2" transform="rotate(88 258.0 286.6)" fill="#1f261a" opacity="0.65"/><ellipse cx="167.7" cy="295.2" rx="3.5" ry="2.7" transform="rotate(131 167.7 295.2)" fill="#3d4832" opacity="0.65"/><ellipse cx="190.7" cy="273.1" rx="4.0" ry="1.5" transform="rotate(135 190.7 273.1)" fill="#3d4832" opacity="0.65"/><ellipse cx="162.9" cy="294.4" rx="3.6" ry="4.2" transform="rotate(52 162.9 294.4)" fill="#2a3322" opacity="0.65"/><ellipse cx="156.1" cy="275.7" rx="4.1" ry="1.7" transform="rotate(167 156.1 275.7)" fill="#2a3322" opacity="0.65"/><ellipse cx="253.9" cy="271.8" rx="1.7" ry="3.5" transform="rotate(114 253.9 271.8)" fill="#525c42" opacity="0.65"/><ellipse cx="178.9" cy="271.3" rx="3.0" ry="2.1" transform="rotate(67 178.9 271.3)" fill="#3d4832" opacity="0.65"/><ellipse cx="257.6" cy="290.4" rx="3.4" ry="4.2" transform="rotate(169 257.6 290.4)" fill="#525c42" opacity="0.65"/><ellipse cx="237.2" cy="263.7" rx="3.7" ry="2.9" transform="rotate(135 237.2 263.7)" fill="#2a3322" opacity="0.65"/><ellipse cx="208.2" cy="293.9" rx="3.2" ry="2.0" transform="rotate(75 208.2 293.9)" fill="#2a3322" opacity="0.65"/><ellipse cx="184.9" cy="287.9" rx="4.4" ry="2.3" transform="rotate(118 184.9 287.9)" fill="#2a3322" opacity="0.65"/><ellipse cx="207.9" cy="285.4" rx="1.9" ry="3.4" transform="rotate(14 207.9 285.4)" fill="#3d4832" opacity="0.65"/><ellipse cx="216.2" cy="277.9" rx="2.5" ry="3.8" transform="rotate(77 216.2 277.9)" fill="#525c42" opacity="0.65"/><ellipse cx="178.3" cy="268.1" rx="3.2" ry="2.5" transform="rotate(66 178.3 268.1)" fill="#525c42" opacity="0.65"/><ellipse cx="258.0" cy="288.2" rx="2.7" ry="2.7" transform="rotate(94 258.0 288.2)" fill="#3d4832" opacity="0.65"/><ellipse cx="181.5" cy="288.3" rx="3.0" ry="3.2" transform="rotate(65 181.5 288.3)" fill="#525c42" opacity="0.65"/><ellipse cx="159.5" cy="293.4" rx="2.7" ry="3.4" transform="rotate(78 159.5 293.4)" fill="#2a3322" opacity="0.65"/><ellipse cx="253.2" cy="292.6" rx="1.6" ry="1.6" transform="rotate(128 253.2 292.6)" fill="#3d4832" opacity="0.65"/><ellipse cx="268.1" cy="279.1" rx="1.7" ry="4.3" transform="rotate(167 268.1 279.1)" fill="#3d4832" opacity="0.65"/><ellipse cx="268.6" cy="270.7" rx="1.8" ry="2.0" transform="rotate(94 268.6 270.7)" fill="#1f261a" opacity="0.65"/><ellipse cx="264.7" cy="287.3" rx="3.4" ry="3.8" transform="rotate(82 264.7 287.3)" fill="#1f261a" opacity="0.65"/><ellipse cx="236.7" cy="295.7" rx="3.4" ry="3.1" transform="rotate(79 236.7 295.7)" fill="#1f261a" opacity="0.65"/><ellipse cx="160.3" cy="272.5" rx="4.3" ry="2.1" transform="rotate(47 160.3 272.5)" fill="#1f261a" opacity="0.65"/>
<ellipse cx="197.9" cy="22.6" rx="2.3" ry="2.7" transform="rotate(180 197.9 22.6)" fill="#1e251a" opacity="0.65"/><ellipse cx="219.3" cy="1.0" rx="3.5" ry="3.2" transform="rotate(103 219.3 1.0)" fill="#46523a" opacity="0.65"/><ellipse cx="195.0" cy="7.5" rx="2.1" ry="2.8" transform="rotate(73 195.0 7.5)" fill="#46523a" opacity="0.65"/><ellipse cx="244.6" cy="21.2" rx="2.3" ry="4.4" transform="rotate(70 244.6 21.2)" fill="#46523a" opacity="0.65"/><ellipse cx="196.4" cy="1.9" rx="2.7" ry="2.3" transform="rotate(163 196.4 1.9)" fill="#2a3322" opacity="0.65"/><ellipse cx="258.3" cy="18.6" rx="2.4" ry="2.2" transform="rotate(170 258.3 18.6)" fill="#46523a" opacity="0.65"/><ellipse cx="242.7" cy="4.7" rx="4.6" ry="3.4" transform="rotate(105 242.7 4.7)" fill="#46523a" opacity="0.65"/><ellipse cx="210.3" cy="11.4" rx="4.6" ry="2.4" transform="rotate(138 210.3 11.4)" fill="#1e251a" opacity="0.65"/><ellipse cx="229.5" cy="10.0" rx="3.1" ry="3.9" transform="rotate(89 229.5 10.0)" fill="#2a3322" opacity="0.65"/><ellipse cx="203.4" cy="4.8" rx="3.6" ry="3.5" transform="rotate(13 203.4 4.8)" fill="#2a3322" opacity="0.65"/><ellipse cx="259.2" cy="17.4" rx="3.0" ry="4.7" transform="rotate(53 259.2 17.4)" fill="#1e251a" opacity="0.65"/><ellipse cx="208.8" cy="13.5" rx="3.1" ry="4.5" transform="rotate(160 208.8 13.5)" fill="#1e251a" opacity="0.65"/><ellipse cx="239.3" cy="3.7" rx="4.8" ry="4.6" transform="rotate(5 239.3 3.7)" fill="#1e251a" opacity="0.65"/><ellipse cx="211.4" cy="0.4" rx="4.3" ry="3.0" transform="rotate(31 211.4 0.4)" fill="#46523a" opacity="0.65"/><ellipse cx="258.6" cy="4.4" rx="3.7" ry="3.2" transform="rotate(14 258.6 4.4)" fill="#1e251a" opacity="0.65"/><ellipse cx="210.5" cy="3.0" rx="2.3" ry="2.3" transform="rotate(94 210.5 3.0)" fill="#46523a" opacity="0.65"/><ellipse cx="226.1" cy="4.8" rx="3.8" ry="2.6" transform="rotate(164 226.1 4.8)" fill="#46523a" opacity="0.65"/><ellipse cx="218.1" cy="18.4" rx="4.2" ry="3.1" transform="rotate(174 218.1 18.4)" fill="#1e251a" opacity="0.65"/><ellipse cx="238.4" cy="16.0" rx="2.2" ry="3.9" transform="rotate(159 238.4 16.0)" fill="#2a3322" opacity="0.65"/><ellipse cx="201.4" cy="10.8" rx="3.3" ry="2.4" transform="rotate(36 201.4 10.8)" fill="#1e251a" opacity="0.65"/><ellipse cx="226.8" cy="15.1" rx="2.5" ry="2.4" transform="rotate(105 226.8 15.1)" fill="#46523a" opacity="0.65"/><ellipse cx="238.5" cy="23.0" rx="3.5" ry="2.3" transform="rotate(167 238.5 23.0)" fill="#2a3322" opacity="0.65"/><ellipse cx="218.7" cy="11.5" rx="2.7" ry="2.6" transform="rotate(80 218.7 11.5)" fill="#1e251a" opacity="0.65"/><ellipse cx="204.5" cy="0.1" rx="3.8" ry="4.7" transform="rotate(118 204.5 0.1)" fill="#46523a" opacity="0.65"/><ellipse cx="229.2" cy="31.3" rx="4.2" ry="3.8" transform="rotate(147 229.2 31.3)" fill="#2a3322" opacity="0.65"/><ellipse cx="203.7" cy="7.3" rx="3.6" ry="4.2" transform="rotate(117 203.7 7.3)" fill="#1e251a" opacity="0.65"/><ellipse cx="210.6" cy="9.5" rx="2.2" ry="3.0" transform="rotate(163 210.6 9.5)" fill="#46523a" opacity="0.65"/><ellipse cx="205.4" cy="9.5" rx="3.6" ry="4.9" transform="rotate(66 205.4 9.5)" fill="#2a3322" opacity="0.65"/><ellipse cx="254.3" cy="16.5" rx="3.9" ry="4.9" transform="rotate(141 254.3 16.5)" fill="#46523a" opacity="0.65"/><ellipse cx="238.8" cy="3.5" rx="3.5" ry="3.1" transform="rotate(105 238.8 3.5)" fill="#46523a" opacity="0.65"/><ellipse cx="204.0" cy="12.7" rx="3.2" ry="4.8" transform="rotate(94 204.0 12.7)" fill="#2a3322" opacity="0.65"/><ellipse cx="244.8" cy="26.3" rx="3.8" ry="3.1" transform="rotate(77 244.8 26.3)" fill="#46523a" opacity="0.65"/><ellipse cx="252.2" cy="16.2" rx="2.2" ry="2.5" transform="rotate(90 252.2 16.2)" fill="#46523a" opacity="0.65"/><ellipse cx="236.7" cy="26.4" rx="5.0" ry="2.8" transform="rotate(149 236.7 26.4)" fill="#46523a" opacity="0.65"/><ellipse cx="209.6" cy="28.4" rx="3.2" ry="3.1" transform="rotate(174 209.6 28.4)" fill="#2a3322" opacity="0.65"/><ellipse cx="246.3" cy="8.0" rx="4.4" ry="3.8" transform="rotate(149 246.3 8.0)" fill="#46523a" opacity="0.65"/><ellipse cx="226.7" cy="3.4" rx="2.3" ry="2.3" transform="rotate(31 226.7 3.4)" fill="#2a3322" opacity="0.65"/><ellipse cx="249.3" cy="4.4" rx="3.8" ry="4.1" transform="rotate(16 249.3 4.4)" fill="#46523a" opacity="0.65"/><ellipse cx="223.9" cy="21.4" rx="2.8" ry="3.7" transform="rotate(23 223.9 21.4)" fill="#46523a" opacity="0.65"/><ellipse cx="255.5" cy="20.9" rx="3.0" ry="2.1" transform="rotate(166 255.5 20.9)" fill="#1e251a" opacity="0.65"/>
</g>
<rect x="3" y="0" width="421" height="297" filter="url(#noise)" opacity="0.45" style="mix-blend-mode:soft-light"/>
<g fill="#323d4c">
<path d="M247.5,32.8 L254.7,33.4 L260.7,34 L265.5,37 L267.9,41.8 L266.7,46 L267.9,50.2 L271.5,52.7 L276.3,59.9 L279.9,65.9 L282.3,73.1 L285.9,79.1 L292,85.1 L293.1,89.9 L287.1,88.7 L282.3,85.1 L276.3,82.7 L270.3,80.3 L263.1,82.7 L257.1,81.5 L258.3,77.9 L263.1,75.5 L260.7,71.9 L254.7,69.5 L246.3,68.9 L239,68.3 L231.8,65.9 L228.2,61.1 L227,53.9 L230.6,56.3 L234.2,59.9 L242.7,59.9 L251.1,59.3 L260.7,59.3 L265.5,56.3 L265.5,52.7 L263.1,49 L260.7,44.2 L255.9,39.4 L251.1,35.8 Z"/>
<path d="M296,35 L298.5,35 L301,46 L304,58 L307,68 L310,78 L312,86 L310,89 L306.5,80 L303.5,70 L300.5,58 L298,46 Z"/>
<path d="M309,89 L314,90 L320,96 L326,101 L324,106 L317,104 L312,98 Z"/>
<path d="M339,88 L344,89 L346,97 L342,101 L338,96 Z"/>
<path d="M96,10 Q100,8 102,12 Q101,17 97,16 Z"/>
</g>
<g fill="none" stroke="#1e2b38" stroke-width="1.5" opacity="0.95">
<path d="M3,5 Q8,8 14,8 Q22,6 28,7 Q36,12 42,19 Q48,22 56,21 Q66,20 74,17 Q80,17 86,22 Q94,27 101,31 Q104,35 108,38 Q114,39 119,43 Q124,46 128,50 Q131,55 134,60 Q139,66 143,71 Q147,77 150,83 Q156,90 162,95 Q170,105 178,114 Q195,118 210,120 Q225,118 240,113 Q258,106 270,103 Q285,101 300,104 Q312,108 320,113"/>
<path d="M308,106 Q320,113 330,117 Q340,121 346,126 Q352,134 357,139 Q364,146 374,152" stroke-width="2.6" stroke="#35505c"/>
</g>
<path d="M308.1,0 L310.2,20.2 L314.2,36.4 L319.2,50.5 L327.3,66.7 L335.4,80.8 L342.5,90.9 L343.5,101 L351.6,115.2 L359.6,129.3 L367.7,141.4 L372.8,150.5 L379.8,155.6 L381.9,163.6 L378.8,167.7 L374,164.7 L366.4,161.9 L355,164.7 L347.4,169.5 L336,171.4 L324.6,175.2 L317,180 L309.4,185.6 L301.8,193.2 L294.2,200.8 L286.6,210.3 L280,219.8 L275.2,229.3 L271.4,240.7 L268.6,254 L268.6,265.4 L269.5,276.8 L270.5,290.1 L270.5,297 L424,297 L424,0 Z" fill="#4a5896"/>
<g clip-path="url(#oceanclip)">
<path d="M308.1,0 L310.2,20.2 L314.2,36.4 L319.2,50.5 L327.3,66.7 L335.4,80.8 L342.5,90.9 L343.5,101 L351.6,115.2 L359.6,129.3 L367.7,141.4 L372.8,150.5 L379.8,155.6 L381.9,163.6 L378.8,167.7 L374,164.7 L366.4,161.9 L355,164.7 L347.4,169.5 L336,171.4 L324.6,175.2 L317,180 L309.4,185.6 L301.8,193.2 L294.2,200.8 L286.6,210.3 L280,219.8 L275.2,229.3 L271.4,240.7 L268.6,254 L268.6,265.4 L269.5,276.8 L270.5,290.1 L270.5,297" fill="none" stroke="#232b60" stroke-width="16" opacity="0.7" filter="url(#blur4)"/>
<path d="M385,0 L392,0 L396,60 L388,60 Z" fill="#323f86" opacity="0.5" filter="url(#blur4)"/>
<g filter="url(#blur3)"><ellipse cx="392" cy="272" rx="32" ry="7" transform="rotate(38 392 272)" fill="#161a38" opacity="0.85"/><ellipse cx="412" cy="286" rx="16" ry="12" fill="#121630" opacity="0.9"/><ellipse cx="370" cy="256" rx="9" ry="3" transform="rotate(30 370 256)" fill="#1c2244" opacity="0.8"/></g>
</g>
<path d="M308.1,0 L310.2,20.2 L314.2,36.4 L319.2,50.5 L327.3,66.7 L335.4,80.8 L342.5,90.9 L343.5,101 L351.6,115.2 L359.6,129.3 L367.7,141.4 L372.8,150.5 L379.8,155.6 L381.9,163.6 L378.8,167.7 L374,164.7 L366.4,161.9 L355,164.7 L347.4,169.5 L336,171.4 L324.6,175.2 L317,180 L309.4,185.6 L301.8,193.2 L294.2,200.8 L286.6,210.3 L280,219.8 L275.2,229.3 L271.4,240.7 L268.6,254 L268.6,265.4 L269.5,276.8 L270.5,290.1 L270.5,297" fill="none" stroke="#6ab0c4" stroke-width="1" opacity="0.85"/>
<path d="M138.7,178.4 L152.5,177.4 L164.3,178.4 L176,177.4 L186,180.3 L188.9,187.2 L189.8,199 L187.9,206.9 L189.8,214.8 L186,222.6 L178,226.6 L170.2,230.5 L166.2,234.4 L162.3,242.3 L158.4,250.2 L152.5,258 L151.5,265.9 L152.5,269.8 L148.5,277.7 L144.6,287.5 L142.6,297 L93.4,297 L89.5,285.6 L93.4,275.7 L97.4,267.9 L93.4,258 L89.5,244.3 L93.4,232.5 L105.2,228.5 L119,222.6 L126.9,214.8 L124.9,204.9 L121,191.2 L126.9,182.3 Z" fill="#1b2550"/>
<g clip-path="url(#bayclip)" filter="url(#blur6)">
<ellipse cx="150" cy="215" rx="34" ry="34" fill="#26458c"/>
<ellipse cx="127" cy="246" rx="21" ry="30" fill="#2e5aa8"/>
<ellipse cx="116" cy="284" rx="5.5" ry="13" fill="#2f5cab"/>
<ellipse cx="162" cy="196" rx="18" ry="12" fill="#2a4c96"/>
</g>
<path d="M120,181 L139,178 L141,195 L136,208 L128,216 L121,214 L124,200 Z" fill="#1d2230" opacity="0.9"/>
<g fill="#6c6870">
<path d="M121,184 L130,182 L131,188 L124,192 Z"/>
<path d="M128,194 L136,192 L137,199 L130,203 Z"/>
<path d="M140,180 L150,180 L148,186 L141,188 Z"/>
<path d="M96,236 L104,233 L106,240 L99,244 Z"/>
<path d="M92,252 L99,249 L101,259 L95,261 Z"/>
<path d="M176,225 L186,221 L190,228 L180,231 Z"/>
</g>
<path d="M3,279 Q20,276 40,276 Q56,277 64,281 Q72,286 72,297 L3,297 Z" fill="#1e2a62"/>
<g filter="url(#blur3)"><ellipse cx="50" cy="289" rx="14" ry="5" fill="#3a52a8"/><ellipse cx="20" cy="292" rx="12" ry="3" fill="#2e4290"/></g>
<text x="96.4" y="174.2" font-family="'Liberation Serif', 'Times New Roman', serif" font-weight="bold" font-size="18" fill="#e2ea2a" stroke="#e2ea2a" stroke-width="0.6" textLength="43.2" lengthAdjust="spacingAndGlyphs">Tokyo</text>
<rect x="73.5" y="31.9" width="235" height="236.4" fill="#ffffff" opacity="0.08" clip-path="url(#oceanclip)"/>
<path d="M73.50,31.9 V268.24 M73.5,31.90 H308.22 M86.54,31.9 V268.24 M73.5,45.03 H308.22 M99.58,31.9 V268.24 M73.5,58.16 H308.22 M112.62,31.9 V268.24 M73.5,71.29 H308.22 M125.66,31.9 V268.24 M73.5,84.42 H308.22 M138.70,31.9 V268.24 M73.5,97.55 H308.22 M151.74,31.9 V268.24 M73.5,110.68 H308.22 M164.78,31.9 V268.24 M73.5,123.81 H308.22 M177.82,31.9 V268.24 M73.5,136.94 H308.22 M190.86,31.9 V268.24 M73.5,150.07 H308.22 M203.90,31.9 V268.24 M73.5,163.20 H308.22 M216.94,31.9 V268.24 M73.5,176.33 H308.22 M229.98,31.9 V268.24 M73.5,189.46 H308.22 M243.02,31.9 V268.24 M73.5,202.59 H308.22 M256.06,31.9 V268.24 M73.5,215.72 H308.22 M269.10,31.9 V268.24 M73.5,228.85 H308.22 M282.14,31.9 V268.24 M73.5,241.98 H308.22 M295.18,31.9 V268.24 M73.5,255.11 H308.22 M308.22,31.9 V268.24 M73.5,268.24 H308.22" stroke="#e6e6e6" stroke-width="1.8" fill="none" opacity="0.9"/>
<circle cx="102.3" cy="81" r="2.6" fill="#e01818"/>
<circle cx="120.6" cy="72.9" r="2.3" fill="#e01818"/>
<circle cx="170.2" cy="221.1" r="3.2" fill="#e01818"/>
<circle cx="269.7" cy="192.6" r="3.2" fill="#e01818"/>
<circle cx="288.5" cy="188.5" r="2.7" fill="#e01818"/>
<path d="M219,5 L165,291" stroke="#f4f4f4" stroke-width="1" fill="none"/>
<rect x="217.5" y="3" width="3" height="3.5" fill="#4a6ad0"/>
<rect x="162.5" y="288" width="3" height="3.5" fill="#4a6ad0"/>
<text x="224.6" y="11.6" font-family="'Liberation Serif', 'Times New Roman', serif" font-weight="bold" font-size="14.2" fill="#fafafa" stroke="#fafafa" stroke-width="0.45" textLength="51.4" lengthAdjust="spacingAndGlyphs">Kakioka</text>
<text x="170.2" y="292.4" font-family="'Liberation Serif', 'Times New Roman', serif" font-weight="bold" font-size="14.4" fill="#fafafa" stroke="#fafafa" stroke-width="0.45" textLength="54.6" lengthAdjust="spacingAndGlyphs">Kanozan</text>
<text transform="translate(195.6,119.8) rotate(-79.5)" font-family="'Liberation Serif', 'Times New Roman', serif" font-weight="bold" font-size="15" fill="#f6f6f6" stroke="#f6f6f6" stroke-width="0.4">110 km</text>
<rect x="5.4" y="289.2" width="31.6" height="5.3" fill="#f4f4f4"/>
<text x="6.2" y="288.8" font-family="'Liberation Sans', Arial, sans-serif" font-weight="bold" font-size="9.8" fill="#e6ee22" textLength="29" lengthAdjust="spacingAndGlyphs">12 km</text>
</g>
<path d="M552.39,64.4 V331.1 M600.27,64.4 V331.1 M648.16,64.4 V331.1 M696.05,64.4 V331.1 M743.94,64.4 V331.1 M791.83,64.4 V331.1 M839.71,64.4 V331.1 M504.5,242.20 H887.6 M504.5,197.75 H887.6 M504.5,153.30 H887.6 M504.5,108.85 H887.6" stroke="#a8a8a8" stroke-width="0.9" stroke-dasharray="1,2.2" fill="none"/>
<path d="M504.50,331.1 v-3.8 M504.50,64.4 v3.8 M552.39,331.1 v-3.8 M552.39,64.4 v3.8 M600.27,331.1 v-3.8 M600.27,64.4 v3.8 M648.16,331.1 v-3.8 M648.16,64.4 v3.8 M696.05,331.1 v-3.8 M696.05,64.4 v3.8 M743.94,331.1 v-3.8 M743.94,64.4 v3.8 M791.83,331.1 v-3.8 M791.83,64.4 v3.8 M839.71,331.1 v-3.8 M839.71,64.4 v3.8 M887.60,331.1 v-3.8 M887.60,64.4 v3.8 M504.5,331.10 h3.8 M887.6,331.10 h-3.8 M504.5,286.65 h3.8 M887.6,286.65 h-3.8 M504.5,242.20 h3.8 M887.6,242.20 h-3.8 M504.5,197.75 h3.8 M887.6,197.75 h-3.8 M504.5,153.30 h3.8 M887.6,153.30 h-3.8 M504.5,108.85 h3.8 M887.6,108.85 h-3.8" stroke="#555" stroke-width="1" fill="none"/>
<path d="M504.5,286.65 H887.6" stroke="#9a9a9a" stroke-width="2.4" fill="none"/>
<path d="M504.50,286.65 V278.65 M514.08,286.65 V261.98 M523.65,286.65 V264.42 M533.23,286.65 V278.65 M542.81,286.65 V277.54 M552.39,286.65 V301.32 M561.97,286.65 V319.10 M571.54,286.65 V309.32 M581.12,286.65 V299.76 M590.70,286.65 V275.98 M600.27,286.65 V276.87 M609.85,286.65 V268.65 M619.43,286.65 V272.65 M629.01,286.65 V279.98 M638.59,286.65 V303.99 M648.16,286.65 V296.21 M657.74,286.65 V304.87 M667.32,286.65 V298.21 M676.89,286.65 V269.76 M686.47,286.65 V223.75 M696.05,286.65 V168.41 M705.63,286.65 V222.64 M715.21,286.65 V252.65 M724.78,286.65 V286.43 M734.36,286.65 V290.65 M743.94,286.65 V292.65 M753.51,286.65 V283.98 M763.09,286.65 V270.20 M772.67,286.65 V258.20 M782.25,286.65 V261.31 M791.83,286.65 V277.98 M801.40,286.65 V279.76 M810.98,286.65 V295.10 M820.56,286.65 V295.54 M830.13,286.65 V291.76 M839.71,286.65 V275.32 M849.29,286.65 V273.76 M858.87,286.65 V255.09 M868.45,286.65 V253.31 M878.02,286.65 V268.87 M887.60,286.65 V278.87" stroke="#336b30" stroke-width="1.3" fill="none"/>
<circle cx="504.50" cy="278.65" r="2.25" fill="#1f5c1f"/>
<circle cx="514.08" cy="261.98" r="2.25" fill="#1f5c1f"/>
<circle cx="523.65" cy="264.42" r="2.25" fill="#1f5c1f"/>
<circle cx="533.23" cy="278.65" r="2.25" fill="#1f5c1f"/>
<circle cx="542.81" cy="277.54" r="2.25" fill="#1f5c1f"/>
<circle cx="552.39" cy="301.32" r="2.25" fill="#1f5c1f"/>
<circle cx="561.97" cy="319.10" r="2.25" fill="#1f5c1f"/>
<circle cx="571.54" cy="309.32" r="2.25" fill="#1f5c1f"/>
<circle cx="581.12" cy="299.76" r="2.25" fill="#1f5c1f"/>
<circle cx="590.70" cy="275.98" r="2.25" fill="#1f5c1f"/>
<circle cx="600.27" cy="276.87" r="2.25" fill="#1f5c1f"/>
<circle cx="609.85" cy="268.65" r="2.25" fill="#1f5c1f"/>
<circle cx="619.43" cy="272.65" r="2.25" fill="#1f5c1f"/>
<circle cx="629.01" cy="279.98" r="2.25" fill="#1f5c1f"/>
<circle cx="638.59" cy="303.99" r="2.25" fill="#1f5c1f"/>
<circle cx="648.16" cy="296.21" r="2.25" fill="#1f5c1f"/>
<circle cx="657.74" cy="304.87" r="2.25" fill="#1f5c1f"/>
<circle cx="667.32" cy="298.21" r="2.25" fill="#1f5c1f"/>
<circle cx="676.89" cy="269.76" r="2.25" fill="#1f5c1f"/>
<circle cx="686.47" cy="223.75" r="2.25" fill="#1f5c1f"/>
<circle cx="696.05" cy="168.41" r="2.25" fill="#1f5c1f"/>
<circle cx="705.63" cy="222.64" r="2.25" fill="#1f5c1f"/>
<circle cx="715.21" cy="252.65" r="2.25" fill="#1f5c1f"/>
<circle cx="724.78" cy="286.43" r="2.25" fill="#1f5c1f"/>
<circle cx="734.36" cy="290.65" r="2.25" fill="#1f5c1f"/>
<circle cx="743.94" cy="292.65" r="2.25" fill="#1f5c1f"/>
<circle cx="753.51" cy="283.98" r="2.25" fill="#1f5c1f"/>
<circle cx="763.09" cy="270.20" r="2.25" fill="#1f5c1f"/>
<circle cx="772.67" cy="258.20" r="2.25" fill="#1f5c1f"/>
<circle cx="782.25" cy="261.31" r="2.25" fill="#1f5c1f"/>
<circle cx="791.83" cy="277.98" r="2.25" fill="#1f5c1f"/>
<circle cx="801.40" cy="279.76" r="2.25" fill="#1f5c1f"/>
<circle cx="810.98" cy="295.10" r="2.25" fill="#1f5c1f"/>
<circle cx="820.56" cy="295.54" r="2.25" fill="#1f5c1f"/>
<circle cx="830.13" cy="291.76" r="2.25" fill="#1f5c1f"/>
<circle cx="839.71" cy="275.32" r="2.25" fill="#1f5c1f"/>
<circle cx="849.29" cy="273.76" r="2.25" fill="#1f5c1f"/>
<circle cx="858.87" cy="255.09" r="2.25" fill="#1f5c1f"/>
<circle cx="868.45" cy="253.31" r="2.25" fill="#1f5c1f"/>
<circle cx="878.02" cy="268.87" r="2.25" fill="#1f5c1f"/>
<circle cx="887.60" cy="278.87" r="2.25" fill="#1f5c1f"/>
<path d="M504.50,286.65 V285.09 M514.08,286.65 V282.20 M523.65,286.65 V295.32 M533.23,286.65 V292.21 M542.81,286.65 V280.43 M552.39,286.65 V287.09 M561.97,286.65 V285.98 M571.54,286.65 V290.87 M581.12,286.65 V289.09 M590.70,286.65 V279.76 M600.27,286.65 V293.98 M609.85,286.65 V287.09 M619.43,286.65 V287.76 M629.01,286.65 V271.98 M638.59,286.65 V284.43 M648.16,286.65 V258.65 M657.74,286.65 V279.09 M667.32,286.65 V290.21 M676.89,286.65 V290.87 M686.47,286.65 V279.54 M696.05,286.65 V266.65 M705.63,286.65 V282.65 M715.21,286.65 V266.43 M724.78,286.65 V270.20 M734.36,286.65 V257.09 M743.94,286.65 V271.76 M753.51,286.65 V283.32 M763.09,286.65 V284.43 M772.67,286.65 V285.98 M782.25,286.65 V285.98 M791.83,286.65 V286.87 M801.40,286.65 V275.09 M810.98,286.65 V271.54 M820.56,286.65 V261.76 M830.13,286.65 V268.20 M839.71,286.65 V261.76 M849.29,286.65 V278.20 M858.87,286.65 V276.43 M868.45,286.65 V272.65 M878.02,286.65 V288.43 M887.60,286.65 V288.21" stroke="#a82a2e" stroke-width="1.3" fill="none"/>
<circle cx="504.50" cy="285.09" r="2.25" fill="#e8161e"/>
<circle cx="514.08" cy="282.20" r="2.25" fill="#e8161e"/>
<circle cx="523.65" cy="295.32" r="2.25" fill="#e8161e"/>
<circle cx="533.23" cy="292.21" r="2.25" fill="#e8161e"/>
<circle cx="542.81" cy="280.43" r="2.25" fill="#e8161e"/>
<circle cx="552.39" cy="287.09" r="2.25" fill="#e8161e"/>
<circle cx="561.97" cy="285.98" r="2.25" fill="#e8161e"/>
<circle cx="571.54" cy="290.87" r="2.25" fill="#e8161e"/>
<circle cx="581.12" cy="289.09" r="2.25" fill="#e8161e"/>
<circle cx="590.70" cy="279.76" r="2.25" fill="#e8161e"/>
<circle cx="600.27" cy="293.98" r="2.25" fill="#e8161e"/>
<circle cx="609.85" cy="287.09" r="2.25" fill="#e8161e"/>
<circle cx="619.43" cy="287.76" r="2.25" fill="#e8161e"/>
<circle cx="629.01" cy="271.98" r="2.25" fill="#e8161e"/>
<circle cx="638.59" cy="284.43" r="2.25" fill="#e8161e"/>
<circle cx="648.16" cy="258.65" r="2.25" fill="#e8161e"/>
<circle cx="657.74" cy="279.09" r="2.25" fill="#e8161e"/>
<circle cx="667.32" cy="290.21" r="2.25" fill="#e8161e"/>
<circle cx="676.89" cy="290.87" r="2.25" fill="#e8161e"/>
<circle cx="686.47" cy="279.54" r="2.25" fill="#e8161e"/>
<circle cx="696.05" cy="266.65" r="2.25" fill="#e8161e"/>
<circle cx="705.63" cy="282.65" r="2.25" fill="#e8161e"/>
<circle cx="715.21" cy="266.43" r="2.25" fill="#e8161e"/>
<circle cx="724.78" cy="270.20" r="2.25" fill="#e8161e"/>
<circle cx="734.36" cy="257.09" r="2.25" fill="#e8161e"/>
<circle cx="743.94" cy="271.76" r="2.25" fill="#e8161e"/>
<circle cx="753.51" cy="283.32" r="2.25" fill="#e8161e"/>
<circle cx="763.09" cy="284.43" r="2.25" fill="#e8161e"/>
<circle cx="772.67" cy="285.98" r="2.25" fill="#e8161e"/>
<circle cx="782.25" cy="285.98" r="2.25" fill="#e8161e"/>
<circle cx="791.83" cy="286.87" r="2.25" fill="#e8161e"/>
<circle cx="801.40" cy="275.09" r="2.25" fill="#e8161e"/>
<circle cx="810.98" cy="271.54" r="2.25" fill="#e8161e"/>
<circle cx="820.56" cy="261.76" r="2.25" fill="#e8161e"/>
<circle cx="830.13" cy="268.20" r="2.25" fill="#e8161e"/>
<circle cx="839.71" cy="261.76" r="2.25" fill="#e8161e"/>
<circle cx="849.29" cy="278.20" r="2.25" fill="#e8161e"/>
<circle cx="858.87" cy="276.43" r="2.25" fill="#e8161e"/>
<circle cx="868.45" cy="272.65" r="2.25" fill="#e8161e"/>
<circle cx="878.02" cy="288.43" r="2.25" fill="#e8161e"/>
<circle cx="887.60" cy="288.21" r="2.25" fill="#e8161e"/>
<rect x="504.5" y="64.4" width="383.10" height="266.70" fill="none" stroke="#444" stroke-width="1.1"/>
<text x="535" y="55.60" font-family="'Liberation Sans', Arial, sans-serif" font-weight="bold" font-size="10.8" fill="#1e1e1e" textLength="321.5" lengthAdjust="spacingAndGlyphs">Crosscorrelation Function (Lithospheric Signal, Kp-index)</text>
<text x="501.8" y="335.00" text-anchor="end" font-family="'Liberation Sans', Arial, sans-serif" font-weight="bold" font-size="10.6" fill="#1a1a1a" transform="translate(501.8,0) scale(0.9,1) translate(-501.8,0)">-0.2</text>
<text x="501.8" y="290.55" text-anchor="end" font-family="'Liberation Sans', Arial, sans-serif" font-weight="bold" font-size="10.6" fill="#1a1a1a" transform="translate(501.8,0) scale(0.9,1) translate(-501.8,0)">0</text>
<text x="501.8" y="246.10" text-anchor="end" font-family="'Liberation Sans', Arial, sans-serif" font-weight="bold" font-size="10.6" fill="#1a1a1a" transform="translate(501.8,0) scale(0.9,1) translate(-501.8,0)">0.2</text>
<text x="501.8" y="201.65" text-anchor="end" font-family="'Liberation Sans', Arial, sans-serif" font-weight="bold" font-size="10.6" fill="#1a1a1a" transform="translate(501.8,0) scale(0.9,1) translate(-501.8,0)">0.4</text>
<text x="501.8" y="157.20" text-anchor="end" font-family="'Liberation Sans', Arial, sans-serif" font-weight="bold" font-size="10.6" fill="#1a1a1a" transform="translate(501.8,0) scale(0.9,1) translate(-501.8,0)">0.6</text>
<text x="501.8" y="112.75" text-anchor="end" font-family="'Liberation Sans', Arial, sans-serif" font-weight="bold" font-size="10.6" fill="#1a1a1a" transform="translate(501.8,0) scale(0.9,1) translate(-501.8,0)">0.8</text>
<text x="503.50" y="343.10" text-anchor="middle" font-family="'Liberation Sans', Arial, sans-serif" font-weight="bold" font-size="10.6" fill="#1a1a1a">-20</text>
<text x="551.39" y="343.10" text-anchor="middle" font-family="'Liberation Sans', Arial, sans-serif" font-weight="bold" font-size="10.6" fill="#1a1a1a">-15</text>
<text x="599.27" y="343.10" text-anchor="middle" font-family="'Liberation Sans', Arial, sans-serif" font-weight="bold" font-size="10.6" fill="#1a1a1a">-10</text>
<text x="647.16" y="343.10" text-anchor="middle" font-family="'Liberation Sans', Arial, sans-serif" font-weight="bold" font-size="10.6" fill="#1a1a1a">-5</text>
<text x="695.05" y="343.10" text-anchor="middle" font-family="'Liberation Sans', Arial, sans-serif" font-weight="bold" font-size="10.6" fill="#1a1a1a">0</text>
<text x="742.94" y="343.10" text-anchor="middle" font-family="'Liberation Sans', Arial, sans-serif" font-weight="bold" font-size="10.6" fill="#1a1a1a">5</text>
<text x="790.83" y="343.10" text-anchor="middle" font-family="'Liberation Sans', Arial, sans-serif" font-weight="bold" font-size="10.6" fill="#1a1a1a">10</text>
<text x="838.71" y="343.10" text-anchor="middle" font-family="'Liberation Sans', Arial, sans-serif" font-weight="bold" font-size="10.6" fill="#1a1a1a">15</text>
<text x="886.60" y="343.10" text-anchor="middle" font-family="'Liberation Sans', Arial, sans-serif" font-weight="bold" font-size="10.6" fill="#1a1a1a">20</text>
<text x="696.05" y="353.70" text-anchor="middle" font-family="'Liberation Sans', Arial, sans-serif" font-weight="bold" font-size="8.6" fill="#1a1a1a">Lag</text>
<text transform="translate(481.3,221.75) rotate(-90)" font-family="'Liberation Sans', Arial, sans-serif" font-weight="bold" font-size="8.9" fill="#1a1a1a" textLength="73" lengthAdjust="spacingAndGlyphs">Cross Correlation</text>
<rect x="822.7" y="68.20" width="62.2" height="30.2" fill="#fff" stroke="#555" stroke-width="1"/>
<path d="M826.8,75.80 H840.5" stroke="#3d7a3a" stroke-width="1.3"/>
<circle cx="840.6" cy="75.80" r="2.3" fill="#1f5c1f"/>
<text x="848" y="79.70" font-family="'Liberation Sans', Arial, sans-serif" font-weight="bold" font-size="10.4" fill="#1a1a1a">50 pT</text>
<path d="M826.8,90.10 H840.5" stroke="#c87070" stroke-width="1.3"/>
<circle cx="840.6" cy="90.10" r="2.3" fill="#e8161e"/>
<text x="848" y="94.00" font-family="'Liberation Sans', Arial, sans-serif" font-weight="bold" font-size="10.4" fill="#1a1a1a">150 pT</text>
<path d="M552.39,403.6 V668.4 M600.27,403.6 V668.4 M648.16,403.6 V668.4 M696.05,403.6 V668.4 M743.94,403.6 V668.4 M791.83,403.6 V668.4 M839.71,403.6 V668.4 M504.5,580.13 H887.6 M504.5,536.00 H887.6 M504.5,491.87 H887.6 M504.5,447.73 H887.6" stroke="#a8a8a8" stroke-width="0.9" stroke-dasharray="1,2.2" fill="none"/>
<path d="M504.50,668.4 v-3.8 M504.50,403.6 v3.8 M552.39,668.4 v-3.8 M552.39,403.6 v3.8 M600.27,668.4 v-3.8 M600.27,403.6 v3.8 M648.16,668.4 v-3.8 M648.16,403.6 v3.8 M696.05,668.4 v-3.8 M696.05,403.6 v3.8 M743.94,668.4 v-3.8 M743.94,403.6 v3.8 M791.83,668.4 v-3.8 M791.83,403.6 v3.8 M839.71,668.4 v-3.8 M839.71,403.6 v3.8 M887.60,668.4 v-3.8 M887.60,403.6 v3.8 M504.5,668.40 h3.8 M887.6,668.40 h-3.8 M504.5,624.27 h3.8 M887.6,624.27 h-3.8 M504.5,580.13 h3.8 M887.6,580.13 h-3.8 M504.5,536.00 h3.8 M887.6,536.00 h-3.8 M504.5,491.87 h3.8 M887.6,491.87 h-3.8 M504.5,447.73 h3.8 M887.6,447.73 h-3.8" stroke="#555" stroke-width="1" fill="none"/>
<path d="M504.5,624.27 H887.6" stroke="#3a3a48" stroke-width="1.3" fill="none"/>
<path d="M504.50,624.27 V623.38 M514.08,624.27 V598.45 M523.65,624.27 V581.68 M533.23,624.27 V591.83 M542.81,624.27 V606.61 M552.39,624.27 V624.71 M561.97,624.27 V640.82 M571.54,624.27 V646.77 M581.12,624.27 V643.24 M590.70,624.27 V623.60 M600.27,624.27 V608.16 M609.85,624.27 V592.49 M619.43,624.27 V588.96 M629.01,624.27 V595.58 M638.59,624.27 V629.78 M648.16,624.27 V637.51 M657.74,624.27 V632.87 M667.32,624.27 V619.85 M676.89,624.27 V590.50 M686.47,624.27 V540.41 M696.05,624.27 V441.33 M705.63,624.27 V505.77 M715.21,624.27 V571.75 M724.78,624.27 V613.45 M734.36,624.27 V632.21 M743.94,624.27 V638.61 M753.51,624.27 V637.51 M763.09,624.27 V606.61 M772.67,624.27 V594.26 M782.25,624.27 V590.28 M791.83,624.27 V597.79 M801.40,624.27 V605.95 M810.98,624.27 V629.78 M820.56,624.27 V644.57 M830.13,624.27 V641.92 M839.71,624.27 V616.76 M849.29,624.27 V608.82 M858.87,624.27 V595.58 M868.45,624.27 V585.87 M878.02,624.27 V597.79 M887.60,624.27 V602.20" stroke="#c8d25a" stroke-width="1.3" fill="none"/>
<circle cx="504.50" cy="623.38" r="2.25" fill="#a8be1e"/>
<circle cx="514.08" cy="598.45" r="2.25" fill="#a8be1e"/>
<circle cx="523.65" cy="581.68" r="2.25" fill="#a8be1e"/>
<circle cx="533.23" cy="591.83" r="2.25" fill="#a8be1e"/>
<circle cx="542.81" cy="606.61" r="2.25" fill="#a8be1e"/>
<circle cx="552.39" cy="624.71" r="2.25" fill="#a8be1e"/>
<circle cx="561.97" cy="640.82" r="2.25" fill="#a8be1e"/>
<circle cx="571.54" cy="646.77" r="2.25" fill="#a8be1e"/>
<circle cx="581.12" cy="643.24" r="2.25" fill="#a8be1e"/>
<circle cx="590.70" cy="623.60" r="2.25" fill="#a8be1e"/>
<circle cx="600.27" cy="608.16" r="2.25" fill="#a8be1e"/>
<circle cx="609.85" cy="592.49" r="2.25" fill="#a8be1e"/>
<circle cx="619.43" cy="588.96" r="2.25" fill="#a8be1e"/>
<circle cx="629.01" cy="595.58" r="2.25" fill="#a8be1e"/>
<circle cx="638.59" cy="629.78" r="2.25" fill="#a8be1e"/>
<circle cx="648.16" cy="637.51" r="2.25" fill="#a8be1e"/>
<circle cx="657.74" cy="632.87" r="2.25" fill="#a8be1e"/>
<circle cx="667.32" cy="619.85" r="2.25" fill="#a8be1e"/>
<circle cx="676.89" cy="590.50" r="2.25" fill="#a8be1e"/>
<circle cx="686.47" cy="540.41" r="2.25" fill="#a8be1e"/>
<circle cx="696.05" cy="441.33" r="2.25" fill="#a8be1e"/>
<circle cx="705.63" cy="505.77" r="2.25" fill="#a8be1e"/>
<circle cx="715.21" cy="571.75" r="2.25" fill="#a8be1e"/>
<circle cx="724.78" cy="613.45" r="2.25" fill="#a8be1e"/>
<circle cx="734.36" cy="632.21" r="2.25" fill="#a8be1e"/>
<circle cx="743.94" cy="638.61" r="2.25" fill="#a8be1e"/>
<circle cx="753.51" cy="637.51" r="2.25" fill="#a8be1e"/>
<circle cx="763.09" cy="606.61" r="2.25" fill="#a8be1e"/>
<circle cx="772.67" cy="594.26" r="2.25" fill="#a8be1e"/>
<circle cx="782.25" cy="590.28" r="2.25" fill="#a8be1e"/>
<circle cx="791.83" cy="597.79" r="2.25" fill="#a8be1e"/>
<circle cx="801.40" cy="605.95" r="2.25" fill="#a8be1e"/>
<circle cx="810.98" cy="629.78" r="2.25" fill="#a8be1e"/>
<circle cx="820.56" cy="644.57" r="2.25" fill="#a8be1e"/>
<circle cx="830.13" cy="641.92" r="2.25" fill="#a8be1e"/>
<circle cx="839.71" cy="616.76" r="2.25" fill="#a8be1e"/>
<circle cx="849.29" cy="608.82" r="2.25" fill="#a8be1e"/>
<circle cx="858.87" cy="595.58" r="2.25" fill="#a8be1e"/>
<circle cx="868.45" cy="585.87" r="2.25" fill="#a8be1e"/>
<circle cx="878.02" cy="597.79" r="2.25" fill="#a8be1e"/>
<circle cx="887.60" cy="602.20" r="2.25" fill="#a8be1e"/>
<path d="M504.50,624.27 V622.72 M514.08,624.27 V598.01 M523.65,624.27 V577.93 M533.23,624.27 V584.77 M542.81,624.27 V601.98 M552.39,624.27 V621.84 M561.97,624.27 V641.26 M571.54,624.27 V647.66 M581.12,624.27 V640.82 M590.70,624.27 V620.07 M600.27,624.27 V605.07 M609.85,624.27 V587.42 M619.43,624.27 V582.34 M629.01,624.27 V594.70 M638.59,624.27 V630.67 M648.16,624.27 V640.38 M657.74,624.27 V635.96 M667.32,624.27 V616.10 M676.89,624.27 V586.31 M686.47,624.27 V530.48 M696.05,624.27 V433.39 M705.63,624.27 V505.77 M715.21,624.27 V575.50 M724.78,624.27 V619.85 M734.36,624.27 V640.38 M743.94,624.27 V644.79 M753.51,624.27 V639.05 M763.09,624.27 V606.17 M772.67,624.27 V588.30 M782.25,624.27 V584.33 M791.83,624.27 V593.15 M801.40,624.27 V604.41 M810.98,624.27 V630.89 M820.56,624.27 V645.01 M830.13,624.27 V644.35 M839.71,624.27 V622.06 M849.29,624.27 V610.81 M858.87,624.27 V595.36 M868.45,624.27 V580.35 M878.02,624.27 V593.59 M887.60,624.27 V601.98" stroke="#2b2d78" stroke-width="1.3" fill="none"/>
<circle cx="504.50" cy="622.72" r="2.25" fill="#2632a6"/>
<circle cx="514.08" cy="598.01" r="2.25" fill="#2632a6"/>
<circle cx="523.65" cy="577.93" r="2.25" fill="#2632a6"/>
<circle cx="533.23" cy="584.77" r="2.25" fill="#2632a6"/>
<circle cx="542.81" cy="601.98" r="2.25" fill="#2632a6"/>
<circle cx="552.39" cy="621.84" r="2.25" fill="#2632a6"/>
<circle cx="561.97" cy="641.26" r="2.25" fill="#2632a6"/>
<circle cx="571.54" cy="647.66" r="2.25" fill="#2632a6"/>
<circle cx="581.12" cy="640.82" r="2.25" fill="#2632a6"/>
<circle cx="590.70" cy="620.07" r="2.25" fill="#2632a6"/>
<circle cx="600.27" cy="605.07" r="2.25" fill="#2632a6"/>
<circle cx="609.85" cy="587.42" r="2.25" fill="#2632a6"/>
<circle cx="619.43" cy="582.34" r="2.25" fill="#2632a6"/>
<circle cx="629.01" cy="594.70" r="2.25" fill="#2632a6"/>
<circle cx="638.59" cy="630.67" r="2.25" fill="#2632a6"/>
<circle cx="648.16" cy="640.38" r="2.25" fill="#2632a6"/>
<circle cx="657.74" cy="635.96" r="2.25" fill="#2632a6"/>
<circle cx="667.32" cy="616.10" r="2.25" fill="#2632a6"/>
<circle cx="676.89" cy="586.31" r="2.25" fill="#2632a6"/>
<circle cx="686.47" cy="530.48" r="2.25" fill="#2632a6"/>
<circle cx="696.05" cy="433.39" r="2.25" fill="#2632a6"/>
<circle cx="705.63" cy="505.77" r="2.25" fill="#2632a6"/>
<circle cx="715.21" cy="575.50" r="2.25" fill="#2632a6"/>
<circle cx="724.78" cy="619.85" r="2.25" fill="#2632a6"/>
<circle cx="734.36" cy="640.38" r="2.25" fill="#2632a6"/>
<circle cx="743.94" cy="644.79" r="2.25" fill="#2632a6"/>
<circle cx="753.51" cy="639.05" r="2.25" fill="#2632a6"/>
<circle cx="763.09" cy="606.17" r="2.25" fill="#2632a6"/>
<circle cx="772.67" cy="588.30" r="2.25" fill="#2632a6"/>
<circle cx="782.25" cy="584.33" r="2.25" fill="#2632a6"/>
<circle cx="791.83" cy="593.15" r="2.25" fill="#2632a6"/>
<circle cx="801.40" cy="604.41" r="2.25" fill="#2632a6"/>
<circle cx="810.98" cy="630.89" r="2.25" fill="#2632a6"/>
<circle cx="820.56" cy="645.01" r="2.25" fill="#2632a6"/>
<circle cx="830.13" cy="644.35" r="2.25" fill="#2632a6"/>
<circle cx="839.71" cy="622.06" r="2.25" fill="#2632a6"/>
<circle cx="849.29" cy="610.81" r="2.25" fill="#2632a6"/>
<circle cx="858.87" cy="595.36" r="2.25" fill="#2632a6"/>
<circle cx="868.45" cy="580.35" r="2.25" fill="#2632a6"/>
<circle cx="878.02" cy="593.59" r="2.25" fill="#2632a6"/>
<circle cx="887.60" cy="601.98" r="2.25" fill="#2632a6"/>
<rect x="504.5" y="403.6" width="383.10" height="264.80" fill="none" stroke="#444" stroke-width="1.1"/>
<text x="535" y="394.80" font-family="'Liberation Sans', Arial, sans-serif" font-weight="bold" font-size="10.8" fill="#1e1e1e" textLength="321.5" lengthAdjust="spacingAndGlyphs">Crosscorrelation Function (Ionospheric Signal, Kp-index)</text>
<text x="501.8" y="672.30" text-anchor="end" font-family="'Liberation Sans', Arial, sans-serif" font-weight="bold" font-size="10.6" fill="#1a1a1a" transform="translate(501.8,0) scale(0.9,1) translate(-501.8,0)">-0.2</text>
<text x="501.8" y="628.17" text-anchor="end" font-family="'Liberation Sans', Arial, sans-serif" font-weight="bold" font-size="10.6" fill="#1a1a1a" transform="translate(501.8,0) scale(0.9,1) translate(-501.8,0)">0</text>
<text x="501.8" y="584.03" text-anchor="end" font-family="'Liberation Sans', Arial, sans-serif" font-weight="bold" font-size="10.6" fill="#1a1a1a" transform="translate(501.8,0) scale(0.9,1) translate(-501.8,0)">0.2</text>
<text x="501.8" y="539.90" text-anchor="end" font-family="'Liberation Sans', Arial, sans-serif" font-weight="bold" font-size="10.6" fill="#1a1a1a" transform="translate(501.8,0) scale(0.9,1) translate(-501.8,0)">0.4</text>
<text x="501.8" y="495.77" text-anchor="end" font-family="'Liberation Sans', Arial, sans-serif" font-weight="bold" font-size="10.6" fill="#1a1a1a" transform="translate(501.8,0) scale(0.9,1) translate(-501.8,0)">0.6</text>
<text x="501.8" y="451.63" text-anchor="end" font-family="'Liberation Sans', Arial, sans-serif" font-weight="bold" font-size="10.6" fill="#1a1a1a" transform="translate(501.8,0) scale(0.9,1) translate(-501.8,0)">0.8</text>
<text x="503.50" y="680.40" text-anchor="middle" font-family="'Liberation Sans', Arial, sans-serif" font-weight="bold" font-size="10.6" fill="#1a1a1a">-20</text>
<text x="551.39" y="680.40" text-anchor="middle" font-family="'Liberation Sans', Arial, sans-serif" font-weight="bold" font-size="10.6" fill="#1a1a1a">-15</text>
<text x="599.27" y="680.40" text-anchor="middle" font-family="'Liberation Sans', Arial, sans-serif" font-weight="bold" font-size="10.6" fill="#1a1a1a">-10</text>
<text x="647.16" y="680.40" text-anchor="middle" font-family="'Liberation Sans', Arial, sans-serif" font-weight="bold" font-size="10.6" fill="#1a1a1a">-5</text>
<text x="695.05" y="680.40" text-anchor="middle" font-family="'Liberation Sans', Arial, sans-serif" font-weight="bold" font-size="10.6" fill="#1a1a1a">0</text>
<text x="742.94" y="680.40" text-anchor="middle" font-family="'Liberation Sans', Arial, sans-serif" font-weight="bold" font-size="10.6" fill="#1a1a1a">5</text>
<text x="790.83" y="680.40" text-anchor="middle" font-family="'Liberation Sans', Arial, sans-serif" font-weight="bold" font-size="10.6" fill="#1a1a1a">10</text>
<text x="838.71" y="680.40" text-anchor="middle" font-family="'Liberation Sans', Arial, sans-serif" font-weight="bold" font-size="10.6" fill="#1a1a1a">15</text>
<text x="886.60" y="680.40" text-anchor="middle" font-family="'Liberation Sans', Arial, sans-serif" font-weight="bold" font-size="10.6" fill="#1a1a1a">20</text>
<text x="696.05" y="691.00" text-anchor="middle" font-family="'Liberation Sans', Arial, sans-serif" font-weight="bold" font-size="8.6" fill="#1a1a1a">Lag</text>
<text transform="translate(481.3,560.00) rotate(-90)" font-family="'Liberation Sans', Arial, sans-serif" font-weight="bold" font-size="8.9" fill="#1a1a1a" textLength="73" lengthAdjust="spacingAndGlyphs">Cross Correlation</text>
<rect x="822.7" y="406.50" width="62.2" height="30.2" fill="#fff" stroke="#555" stroke-width="1"/>
<path d="M826.8,414.10 H840.5" stroke="#c4d070" stroke-width="1.3"/>
<circle cx="840.6" cy="414.10" r="2.3" fill="#a8be1e"/>
<text x="848" y="418.00" font-family="'Liberation Sans', Arial, sans-serif" font-weight="bold" font-size="10.4" fill="#1a1a1a">50 pT</text>
<path d="M826.8,428.40 H840.5" stroke="#30308e" stroke-width="1.3"/>
<circle cx="840.6" cy="428.40" r="2.3" fill="#2632a6"/>
<text x="848" y="432.30" font-family="'Liberation Sans', Arial, sans-serif" font-weight="bold" font-size="10.4" fill="#1a1a1a">150 pT</text>
<path d="M74.50,589.2 V651.7 M129.92,589.2 V651.7 M185.33,589.2 V651.7 M240.74,589.2 V651.7 M296.15,589.2 V651.7 M351.56,589.2 V651.7 M406.98,589.2 V651.7 M20.2,636.08 H423.6 M20.2,620.45 H423.6 M20.2,604.83 H423.6" stroke="#b4b4b4" stroke-width="0.8" stroke-dasharray="2.2,1.6" fill="none"/>
<path d="M20.20,651.7 H20.75 V648.76 H20.20 Z M20.75,651.7 H21.86 V649.84 H20.75 Z M21.86,651.7 H22.97 V650.03 H21.86 Z M22.97,651.7 H24.08 V651.61 H22.97 Z M24.08,651.7 H25.19 V650.86 H24.08 Z M25.19,651.7 H26.30 V651.19 H25.19 Z M26.30,651.7 H27.40 V650.48 H26.30 Z M27.40,651.7 H28.51 V649.34 H27.40 Z M28.51,651.7 H29.62 V650.28 H28.51 Z M29.62,651.7 H30.73 V651.20 H29.62 Z M31.84,651.7 H32.94 V647.01 H31.84 Z M32.94,651.7 H34.05 V649.52 H32.94 Z M34.05,651.7 H35.16 V648.18 H34.05 Z M35.16,651.7 H36.27 V649.00 H35.16 Z M36.27,651.7 H37.38 V647.40 H36.27 Z M37.38,651.7 H38.49 V648.80 H37.38 Z M38.49,651.7 H39.59 V648.39 H38.49 Z M39.59,651.7 H40.70 V647.09 H39.59 Z M40.70,651.7 H41.81 V650.83 H40.70 Z M41.81,651.7 H42.92 V651.46 H41.81 Z M42.92,651.7 H44.03 V651.52 H42.92 Z M44.03,651.7 H45.14 V645.85 H44.03 Z M47.35,651.7 H48.46 V650.90 H47.35 Z M48.46,651.7 H49.57 V651.25 H48.46 Z M49.57,651.7 H50.68 V650.00 H49.57 Z M50.68,651.7 H51.78 V649.74 H50.68 Z M51.78,651.7 H52.89 V651.37 H51.78 Z M52.89,651.7 H54.00 V649.96 H52.89 Z M54.00,651.7 H55.11 V650.10 H54.00 Z M55.11,651.7 H56.22 V650.72 H55.11 Z M56.22,651.7 H57.33 V650.04 H56.22 Z M57.33,651.7 H58.43 V649.90 H57.33 Z M58.43,651.7 H59.54 V648.58 H58.43 Z M59.54,651.7 H60.65 V647.10 H59.54 Z M60.65,651.7 H61.76 V647.79 H60.65 Z M61.76,651.7 H62.87 V648.92 H61.76 Z M62.87,651.7 H63.98 V650.21 H62.87 Z M66.19,651.7 H67.30 V650.67 H66.19 Z M67.30,651.7 H68.41 V650.40 H67.30 Z M68.41,651.7 H69.52 V649.13 H68.41 Z M69.52,651.7 H70.62 V649.15 H69.52 Z M70.63,651.7 H71.73 V648.51 H70.63 Z M71.73,651.7 H72.84 V651.41 H71.73 Z M72.84,651.7 H73.95 V647.11 H72.84 Z M73.95,651.7 H75.06 V651.61 H73.95 Z M75.06,651.7 H76.17 V650.79 H75.06 Z M76.17,651.7 H77.27 V649.91 H76.17 Z M77.27,651.7 H78.38 V648.12 H77.27 Z M78.38,651.7 H79.49 V644.52 H78.38 Z M79.49,651.7 H80.60 V650.31 H79.49 Z M80.60,651.7 H81.71 V644.47 H80.60 Z M81.71,651.7 H82.82 V650.17 H81.71 Z M82.82,651.7 H83.92 V650.19 H82.82 Z M83.92,651.7 H85.03 V651.18 H83.92 Z M86.14,651.7 H87.25 V651.63 H86.14 Z M87.25,651.7 H88.36 V648.54 H87.25 Z M88.36,651.7 H89.47 V651.24 H88.36 Z M89.47,651.7 H90.57 V651.28 H89.47 Z M90.57,651.7 H91.68 V651.32 H90.57 Z M91.68,651.7 H92.79 V651.49 H91.68 Z M92.79,651.7 H93.90 V650.42 H92.79 Z M93.90,651.7 H95.01 V651.63 H93.90 Z M95.01,651.7 H96.11 V645.94 H95.01 Z M96.11,651.7 H97.22 V650.84 H96.11 Z M97.22,651.7 H98.33 V651.10 H97.22 Z M98.33,651.7 H99.44 V649.98 H98.33 Z M99.44,651.7 H100.55 V650.28 H99.44 Z M100.55,651.7 H101.66 V650.77 H100.55 Z M101.66,651.7 H102.76 V651.09 H101.66 Z M102.76,651.7 H103.87 V650.47 H102.76 Z M103.87,651.7 H104.98 V651.34 H103.87 Z M106.09,651.7 H107.20 V647.58 H106.09 Z M107.20,651.7 H108.31 V649.30 H107.20 Z M108.31,651.7 H109.41 V651.45 H108.31 Z M109.41,651.7 H110.52 V651.38 H109.41 Z M110.52,651.7 H111.63 V650.56 H110.52 Z M111.63,651.7 H112.74 V650.44 H111.63 Z M112.74,651.7 H113.85 V650.92 H112.74 Z M113.85,651.7 H114.95 V649.27 H113.85 Z M114.95,651.7 H116.06 V650.12 H114.95 Z M116.06,651.7 H117.17 V646.23 H116.06 Z M117.17,651.7 H118.28 V650.81 H117.17 Z M118.28,651.7 H119.39 V649.59 H118.28 Z M119.39,651.7 H120.50 V651.27 H119.39 Z M120.50,651.7 H121.60 V648.58 H120.50 Z M121.60,651.7 H122.71 V650.07 H121.60 Z M124.93,651.7 H126.04 V651.25 H124.93 Z M126.04,651.7 H127.15 V651.46 H126.04 Z M127.15,651.7 H128.25 V650.91 H127.15 Z M128.25,651.7 H129.36 V650.04 H128.25 Z M129.36,651.7 H130.47 V650.41 H129.36 Z M130.47,651.7 H131.58 V649.94 H130.47 Z M131.58,651.7 H132.69 V648.84 H131.58 Z M132.69,651.7 H133.79 V649.44 H132.69 Z M133.79,651.7 H134.90 V649.58 H133.79 Z M134.90,651.7 H136.01 V649.49 H134.90 Z M136.01,651.7 H137.12 V650.62 H136.01 Z M137.12,651.7 H138.23 V650.05 H137.12 Z M138.23,651.7 H139.34 V651.46 H138.23 Z M139.34,651.7 H140.44 V648.58 H139.34 Z M140.44,651.7 H141.55 V651.30 H140.44 Z M141.55,651.7 H142.66 V651.41 H141.55 Z M142.66,651.7 H143.77 V648.88 H142.66 Z M143.77,651.7 H144.88 V647.79 H143.77 Z M144.88,651.7 H145.99 V649.50 H144.88 Z M145.99,651.7 H147.09 V649.18 H145.99 Z M147.09,651.7 H148.20 V648.72 H147.09 Z M148.20,651.7 H149.31 V641.54 H148.20 Z M149.31,651.7 H150.42 V650.53 H149.31 Z M150.42,651.7 H151.53 V651.37 H150.42 Z M151.53,651.7 H152.63 V650.42 H151.53 Z M152.63,651.7 H153.74 V649.94 H152.63 Z M153.74,651.7 H154.85 V649.11 H153.74 Z M154.85,651.7 H155.96 V650.85 H154.85 Z M155.96,651.7 H157.07 V648.89 H155.96 Z M157.07,651.7 H158.18 V650.32 H157.07 Z M158.18,651.7 H159.28 V646.71 H158.18 Z M159.28,651.7 H160.39 V651.40 H159.28 Z M160.39,651.7 H161.50 V651.43 H160.39 Z M161.50,651.7 H162.61 V647.41 H161.50 Z M162.61,651.7 H163.72 V651.50 H162.61 Z M163.72,651.7 H164.83 V651.20 H163.72 Z M164.83,651.7 H165.93 V650.26 H164.83 Z M165.93,651.7 H167.04 V649.51 H165.93 Z M167.04,651.7 H168.15 V649.76 H167.04 Z M168.15,651.7 H169.26 V648.96 H168.15 Z M169.26,651.7 H170.37 V649.64 H169.26 Z M170.37,651.7 H171.47 V651.54 H170.37 Z M173.69,651.7 H174.80 V646.13 H173.69 Z M174.80,651.7 H175.91 V651.20 H174.80 Z M175.91,651.7 H177.02 V642.48 H175.91 Z M177.02,651.7 H178.12 V651.25 H177.02 Z M178.12,651.7 H179.23 V650.74 H178.12 Z M179.23,651.7 H180.34 V650.91 H179.23 Z M180.34,651.7 H181.45 V651.17 H180.34 Z M181.45,651.7 H182.56 V648.34 H181.45 Z M182.56,651.7 H183.67 V647.96 H182.56 Z M183.67,651.7 H184.77 V648.71 H183.67 Z M184.77,651.7 H185.88 V648.83 H184.77 Z M185.88,651.7 H186.99 V650.46 H185.88 Z M186.99,651.7 H188.10 V651.31 H186.99 Z M188.10,651.7 H189.21 V643.03 H188.10 Z M189.21,651.7 H190.32 V651.45 H189.21 Z M190.32,651.7 H191.42 V651.56 H190.32 Z M191.42,651.7 H192.53 V648.44 H191.42 Z M192.53,651.7 H193.64 V651.52 H192.53 Z M193.64,651.7 H194.75 V649.44 H193.64 Z M194.75,651.7 H195.86 V651.52 H194.75 Z M195.86,651.7 H196.96 V649.44 H195.86 Z M196.96,651.7 H198.07 V651.24 H196.96 Z M198.07,651.7 H199.18 V648.99 H198.07 Z M199.18,651.7 H200.29 V650.31 H199.18 Z M200.29,651.7 H201.40 V650.12 H200.29 Z M201.40,651.7 H202.51 V650.90 H201.40 Z M202.51,651.7 H203.61 V648.24 H202.51 Z M203.61,651.7 H204.72 V640.61 H203.61 Z M204.72,651.7 H205.83 V651.63 H204.72 Z M205.83,651.7 H206.94 V648.51 H205.83 Z M206.94,651.7 H208.05 V647.99 H206.94 Z M208.05,651.7 H209.16 V651.59 H208.05 Z M209.16,651.7 H210.26 V649.50 H209.16 Z M210.26,651.7 H211.37 V649.49 H210.26 Z M211.37,651.7 H212.48 V648.01 H211.37 Z M212.48,651.7 H213.59 V649.18 H212.48 Z M213.59,651.7 H214.70 V651.51 H213.59 Z M214.70,651.7 H215.80 V648.68 H214.70 Z M215.80,651.7 H216.91 V649.60 H215.80 Z M216.91,651.7 H218.02 V648.92 H216.91 Z M218.02,651.7 H219.13 V646.15 H218.02 Z M219.13,651.7 H220.24 V649.84 H219.13 Z M220.24,651.7 H221.35 V649.41 H220.24 Z M221.35,651.7 H222.45 V650.59 H221.35 Z M222.45,651.7 H223.56 V649.73 H222.45 Z M223.56,651.7 H224.67 V649.26 H223.56 Z M224.67,651.7 H225.78 V648.13 H224.67 Z M225.78,651.7 H226.89 V651.59 H225.78 Z M226.89,651.7 H228.00 V649.54 H226.89 Z M228.00,651.7 H229.10 V649.59 H228.00 Z M229.10,651.7 H230.21 V650.37 H229.10 Z M230.21,651.7 H231.32 V649.61 H230.21 Z M231.32,651.7 H232.43 V648.88 H231.32 Z M232.43,651.7 H233.54 V650.27 H232.43 Z M233.54,651.7 H234.64 V650.19 H233.54 Z M234.64,651.7 H235.75 V651.22 H234.64 Z M235.75,651.7 H236.86 V650.32 H235.75 Z M236.86,651.7 H237.97 V651.62 H236.86 Z M237.97,651.7 H239.08 V635.45 H237.97 Z M239.08,651.7 H240.19 V649.97 H239.08 Z M240.19,651.7 H241.29 V647.09 H240.19 Z M241.29,651.7 H242.40 V650.17 H241.29 Z M242.40,651.7 H243.51 V644.67 H242.40 Z M243.51,651.7 H244.62 V649.54 H243.51 Z M244.62,651.7 H245.73 V651.47 H244.62 Z M245.73,651.7 H246.84 V651.16 H245.73 Z M246.84,651.7 H247.94 V651.24 H246.84 Z M247.94,651.7 H249.05 V650.35 H247.94 Z M249.05,651.7 H250.16 V640.29 H249.05 Z M250.16,651.7 H251.27 V650.72 H250.16 Z M251.27,651.7 H252.38 V649.11 H251.27 Z M252.38,651.7 H253.48 V649.36 H252.38 Z M253.48,651.7 H254.59 V649.97 H253.48 Z M254.59,651.7 H255.70 V649.52 H254.59 Z M255.70,651.7 H256.81 V643.42 H255.70 Z M256.81,651.7 H257.92 V651.64 H256.81 Z M257.92,651.7 H259.03 V645.35 H257.92 Z M259.03,651.7 H260.13 V650.70 H259.03 Z M260.13,651.7 H261.24 V638.81 H260.13 Z M261.24,651.7 H262.35 V647.44 H261.24 Z M262.35,651.7 H263.46 V649.06 H262.35 Z M263.46,651.7 H264.57 V649.16 H263.46 Z M264.57,651.7 H265.68 V651.20 H264.57 Z M265.68,651.7 H266.78 V650.96 H265.68 Z M266.78,651.7 H267.89 V651.59 H266.78 Z M267.89,651.7 H269.00 V648.18 H267.89 Z M269.00,651.7 H270.11 V649.09 H269.00 Z M270.11,651.7 H271.22 V644.63 H270.11 Z M271.22,651.7 H272.33 V648.34 H271.22 Z M272.33,651.7 H273.43 V649.42 H272.33 Z M273.43,651.7 H274.54 V649.71 H273.43 Z M274.54,651.7 H275.65 V650.75 H274.54 Z M277.87,651.7 H278.97 V647.42 H277.87 Z M278.97,651.7 H280.08 V650.92 H278.97 Z M280.08,651.7 H281.19 V649.78 H280.08 Z M281.19,651.7 H282.30 V649.61 H281.19 Z M282.30,651.7 H283.41 V651.60 H282.30 Z M283.41,651.7 H284.52 V649.49 H283.41 Z M284.52,651.7 H285.62 V648.51 H284.52 Z M285.62,651.7 H286.73 V593.50 H285.62 Z M286.73,651.7 H287.84 V645.45 H286.73 Z M287.84,651.7 H288.95 V644.67 H287.84 Z M288.95,651.7 H290.06 V646.23 H288.95 Z M290.06,651.7 H291.17 V645.84 H290.06 Z M291.17,651.7 H292.27 V647.01 H291.17 Z M292.27,651.7 H293.38 V649.54 H292.27 Z M293.38,651.7 H294.49 V649.47 H293.38 Z M294.49,651.7 H295.60 V650.79 H294.49 Z M295.60,651.7 H296.71 V634.51 H295.60 Z M298.92,651.7 H300.03 V650.74 H298.92 Z M300.03,651.7 H301.14 V640.68 H300.03 Z M301.14,651.7 H302.25 V647.01 H301.14 Z M303.36,651.7 H304.46 V651.25 H303.36 Z M304.46,651.7 H305.57 V650.44 H304.46 Z M305.57,651.7 H306.68 V650.21 H305.57 Z M306.68,651.7 H307.79 V649.63 H306.68 Z M307.79,651.7 H308.90 V651.42 H307.79 Z M308.90,651.7 H310.01 V647.79 H308.90 Z M310.01,651.7 H311.11 V649.20 H310.01 Z M311.11,651.7 H312.22 V649.64 H311.11 Z M312.22,651.7 H313.33 V651.10 H312.22 Z M313.33,651.7 H314.44 V651.29 H313.33 Z M315.55,651.7 H316.65 V651.55 H315.55 Z M316.65,651.7 H317.76 V651.10 H316.65 Z M317.76,651.7 H318.87 V651.32 H317.76 Z M318.87,651.7 H319.98 V651.32 H318.87 Z M319.98,651.7 H321.09 V651.01 H319.98 Z M321.09,651.7 H322.20 V650.72 H321.09 Z M322.20,651.7 H323.30 V650.78 H322.20 Z M323.30,651.7 H324.41 V648.81 H323.30 Z M324.41,651.7 H325.52 V646.95 H324.41 Z M325.52,651.7 H326.63 V650.26 H325.52 Z M326.63,651.7 H327.74 V649.49 H326.63 Z M327.74,651.7 H328.85 V651.23 H327.74 Z M328.85,651.7 H329.95 V650.08 H328.85 Z M329.95,651.7 H331.06 V641.54 H329.95 Z M331.06,651.7 H332.17 V649.95 H331.06 Z M332.17,651.7 H333.28 V645.14 H332.17 Z M333.28,651.7 H334.39 V651.22 H333.28 Z M334.39,651.7 H335.49 V650.14 H334.39 Z M335.49,651.7 H336.60 V646.39 H335.49 Z M336.60,651.7 H337.71 V649.61 H336.60 Z M337.71,651.7 H338.82 V649.77 H337.71 Z M338.82,651.7 H339.93 V650.11 H338.82 Z M339.93,651.7 H341.04 V648.87 H339.93 Z M341.04,651.7 H342.14 V647.36 H341.04 Z M342.14,651.7 H343.25 V649.35 H342.14 Z M343.25,651.7 H344.36 V651.38 H343.25 Z M344.36,651.7 H345.47 V651.26 H344.36 Z M345.47,651.7 H346.58 V638.58 H345.47 Z M346.58,651.7 H347.69 V650.09 H346.58 Z M347.69,651.7 H348.79 V648.25 H347.69 Z M348.79,651.7 H349.90 V648.59 H348.79 Z M349.90,651.7 H351.01 V651.55 H349.90 Z M351.01,651.7 H352.12 V651.29 H351.01 Z M352.12,651.7 H353.23 V646.41 H352.12 Z M353.23,651.7 H354.33 V648.42 H353.23 Z M354.33,651.7 H355.44 V649.09 H354.33 Z M355.44,651.7 H356.55 V648.64 H355.44 Z M356.55,651.7 H357.66 V650.28 H356.55 Z M357.66,651.7 H358.77 V649.78 H357.66 Z M358.77,651.7 H359.88 V648.78 H358.77 Z M359.88,651.7 H360.98 V648.48 H359.88 Z M360.98,651.7 H362.09 V650.81 H360.98 Z M363.20,651.7 H364.31 V641.54 H363.20 Z M364.31,651.7 H365.42 V649.44 H364.31 Z M365.42,651.7 H366.53 V649.32 H365.42 Z M366.53,651.7 H367.63 V649.99 H366.53 Z M367.63,651.7 H368.74 V651.14 H367.63 Z M369.85,651.7 H370.96 V649.87 H369.85 Z M370.96,651.7 H372.07 V651.17 H370.96 Z M372.07,651.7 H373.18 V650.27 H372.07 Z M373.18,651.7 H374.28 V651.54 H373.18 Z M374.28,651.7 H375.39 V650.48 H374.28 Z M375.39,651.7 H376.50 V646.42 H375.39 Z M376.50,651.7 H377.61 V645.45 H376.50 Z M377.61,651.7 H378.72 V651.47 H377.61 Z M378.72,651.7 H379.82 V649.39 H378.72 Z M379.82,651.7 H380.93 V651.54 H379.82 Z M380.93,651.7 H382.04 V648.77 H380.93 Z M382.04,651.7 H383.15 V649.08 H382.04 Z M383.15,651.7 H384.26 V648.77 H383.15 Z M384.26,651.7 H385.37 V649.70 H384.26 Z M385.37,651.7 H386.47 V650.76 H385.37 Z M386.47,651.7 H387.58 V650.88 H386.47 Z M387.58,651.7 H388.69 V647.32 H387.58 Z M388.69,651.7 H389.80 V650.39 H388.69 Z M389.80,651.7 H390.91 V650.44 H389.80 Z M390.91,651.7 H392.02 V649.18 H390.91 Z M392.02,651.7 H393.12 V651.45 H392.02 Z M393.12,651.7 H394.23 V649.41 H393.12 Z M394.23,651.7 H395.34 V649.59 H394.23 Z M395.34,651.7 H396.45 V649.89 H395.34 Z M396.45,651.7 H397.56 V649.50 H396.45 Z M397.56,651.7 H398.66 V648.73 H397.56 Z M398.66,651.7 H399.77 V640.29 H398.66 Z M399.77,651.7 H400.88 V649.35 H399.77 Z M400.88,651.7 H401.99 V649.55 H400.88 Z M401.99,651.7 H403.10 V649.05 H401.99 Z M403.10,651.7 H404.21 V649.65 H403.10 Z M404.21,651.7 H405.31 V651.23 H404.21 Z M405.31,651.7 H406.42 V651.37 H405.31 Z M406.42,651.7 H407.53 V650.23 H406.42 Z M407.53,651.7 H408.64 V649.34 H407.53 Z M408.64,651.7 H409.75 V651.58 H408.64 Z M409.75,651.7 H410.86 V650.16 H409.75 Z M410.86,651.7 H411.96 V644.67 H410.86 Z M411.96,651.7 H413.07 V649.07 H411.96 Z M413.07,651.7 H414.18 V649.67 H413.07 Z M414.18,651.7 H415.29 V649.50 H414.18 Z M415.29,651.7 H416.40 V650.12 H415.29 Z M416.40,651.7 H417.50 V650.15 H416.40 Z M417.50,651.7 H418.61 V651.43 H417.50 Z M418.61,651.7 H419.72 V651.12 H418.61 Z M419.72,651.7 H420.83 V650.85 H419.72 Z M420.83,651.7 H421.94 V645.29 H420.83 Z M423.05,651.7 H423.60 V648.22 H423.05 Z" fill="#d81c24"/>
<path d="M74.50,651.7 v-2.5 M74.50,589.2 v2.5 M129.92,651.7 v-2.5 M129.92,589.2 v2.5 M185.33,651.7 v-2.5 M185.33,589.2 v2.5 M240.74,651.7 v-2.5 M240.74,589.2 v2.5 M296.15,651.7 v-2.5 M296.15,589.2 v2.5 M351.56,651.7 v-2.5 M351.56,589.2 v2.5 M406.98,651.7 v-2.5 M406.98,589.2 v2.5 M20.2,651.70 h2.5 M423.6,651.70 h-2.5 M20.2,636.08 h2.5 M423.6,636.08 h-2.5 M20.2,620.45 h2.5 M423.6,620.45 h-2.5 M20.2,604.83 h2.5 M423.6,604.83 h-2.5 M20.2,589.20 h2.5 M423.6,589.20 h-2.5" stroke="#444" stroke-width="0.9" fill="none"/>
<rect x="20.2" y="589.2" width="403.40" height="62.50" fill="none" stroke="#3a3a3a" stroke-width="0.9"/>
<text x="18.9" y="654.00" text-anchor="end" font-family="'Liberation Sans', Arial, sans-serif" font-weight="bold" font-size="6.5" fill="#222">0</text>
<text x="18.9" y="638.38" text-anchor="end" font-family="'Liberation Sans', Arial, sans-serif" font-weight="bold" font-size="6.5" fill="#222">200</text>
<text x="18.9" y="622.75" text-anchor="end" font-family="'Liberation Sans', Arial, sans-serif" font-weight="bold" font-size="6.5" fill="#222">400</text>
<text x="18.9" y="607.12" text-anchor="end" font-family="'Liberation Sans', Arial, sans-serif" font-weight="bold" font-size="6.5" fill="#222">600</text>
<text x="18.9" y="591.50" text-anchor="end" font-family="'Liberation Sans', Arial, sans-serif" font-weight="bold" font-size="6.5" fill="#222">800</text>
<text x="74.50" y="659.60" text-anchor="middle" font-family="'Liberation Sans', Arial, sans-serif" font-weight="bold" font-size="6.5" fill="#222">50</text>
<text x="129.92" y="659.60" text-anchor="middle" font-family="'Liberation Sans', Arial, sans-serif" font-weight="bold" font-size="6.5" fill="#222">100</text>
<text x="185.33" y="659.60" text-anchor="middle" font-family="'Liberation Sans', Arial, sans-serif" font-weight="bold" font-size="6.5" fill="#222">150</text>
<text x="240.74" y="659.60" text-anchor="middle" font-family="'Liberation Sans', Arial, sans-serif" font-weight="bold" font-size="6.5" fill="#222">200</text>
<text x="296.15" y="659.60" text-anchor="middle" font-family="'Liberation Sans', Arial, sans-serif" font-weight="bold" font-size="6.5" fill="#222">250</text>
<text x="351.56" y="659.60" text-anchor="middle" font-family="'Liberation Sans', Arial, sans-serif" font-weight="bold" font-size="6.5" fill="#222">300</text>
<text x="406.98" y="659.60" text-anchor="middle" font-family="'Liberation Sans', Arial, sans-serif" font-weight="bold" font-size="6.5" fill="#222">350</text>
<text x="167.2" y="583.4" font-family="'Liberation Sans', Arial, sans-serif" font-weight="bold" font-size="8.2" fill="#2a2a2a" textLength="109" lengthAdjust="spacingAndGlyphs">Number of lithospheric signals</text>
<text transform="translate(4.9,648.95) rotate(-90)" font-family="'Liberation Sans', Arial, sans-serif" font-weight="bold" font-size="6" fill="#222" textLength="57" lengthAdjust="spacingAndGlyphs">Number of M-blocks</text>
<path d="M70.9,608.4 V634.5" stroke="#5e9254" stroke-width="1.3"/>
<path d="M69.10000000000001,634 H72.7 L70.9,638.7 Z" fill="#237a23"/>
<text x="62.1" y="606.9" font-family="'Liberation Sans', Arial, sans-serif" font-weight="bold" font-size="7.3" fill="#1a1a1a" textLength="16.6" lengthAdjust="spacingAndGlyphs">M 5.5</text>
<path d="M129.8,608.4 V634.5" stroke="#5e9254" stroke-width="1.3"/>
<path d="M128.0,634 H131.60000000000002 L129.8,638.7 Z" fill="#237a23"/>
<text x="121.5" y="606.9" font-family="'Liberation Sans', Arial, sans-serif" font-weight="bold" font-size="7.3" fill="#1a1a1a" textLength="16.6" lengthAdjust="spacingAndGlyphs">M 5.9</text>
<path d="M208.1,608.4 V634.5" stroke="#5e9254" stroke-width="1.3"/>
<path d="M206.29999999999998,634 H209.9 L208.1,638.7 Z" fill="#237a23"/>
<text x="199.9" y="606.9" font-family="'Liberation Sans', Arial, sans-serif" font-weight="bold" font-size="7.3" fill="#1a1a1a" textLength="16.6" lengthAdjust="spacingAndGlyphs">M 5.7</text>
<path d="M245.9,608.4 V634.5" stroke="#5e9254" stroke-width="1.3"/>
<path d="M244.1,634 H247.70000000000002 L245.9,638.7 Z" fill="#237a23"/>
<text x="237.6" y="606.9" font-family="'Liberation Sans', Arial, sans-serif" font-weight="bold" font-size="7.3" fill="#1a1a1a" textLength="16.6" lengthAdjust="spacingAndGlyphs">M 5.9</text>
<path d="M339.0,608.4 V634.5" stroke="#5e9254" stroke-width="1.3"/>
<path d="M337.2,634 H340.8 L339.0,638.7 Z" fill="#237a23"/>
<text x="330.6" y="606.9" font-family="'Liberation Sans', Arial, sans-serif" font-weight="bold" font-size="7.3" fill="#1a1a1a" textLength="16.6" lengthAdjust="spacingAndGlyphs">M 5.0</text>
<path d="M74.50,675.5 V738.0 M129.92,675.5 V738.0 M185.33,675.5 V738.0 M240.74,675.5 V738.0 M296.15,675.5 V738.0 M351.56,675.5 V738.0 M406.98,675.5 V738.0 M20.2,722.38 H423.6 M20.2,706.75 H423.6 M20.2,691.12 H423.6" stroke="#b4b4b4" stroke-width="0.8" stroke-dasharray="2.2,1.6" fill="none"/>
<path d="M20.20,738.0 H20.75 V716.01 H20.20 Z M20.75,738.0 H21.86 V723.83 H20.75 Z M21.86,738.0 H22.97 V713.22 H21.86 Z M22.97,738.0 H24.08 V713.22 H22.97 Z M24.08,738.0 H25.19 V713.22 H24.08 Z M25.19,738.0 H26.30 V724.38 H25.19 Z M26.30,738.0 H27.40 V728.85 H26.30 Z M27.40,738.0 H28.51 V712.11 H27.40 Z M28.51,738.0 H29.62 V702.06 H28.51 Z M29.62,738.0 H30.73 V727.17 H29.62 Z M30.73,738.0 H31.84 V726.62 H30.73 Z M31.84,738.0 H32.94 V726.62 H31.84 Z M32.94,738.0 H34.05 V717.13 H32.94 Z M34.05,738.0 H35.16 V724.38 H34.05 Z M35.16,738.0 H36.27 V727.17 H35.16 Z M36.27,738.0 H37.38 V713.22 H36.27 Z M37.38,738.0 H38.49 V692.02 H37.38 Z M38.49,738.0 H39.59 V703.18 H38.49 Z M39.59,738.0 H40.70 V710.99 H39.59 Z M40.70,738.0 H41.81 V718.80 H40.70 Z M41.81,738.0 H42.92 V676.95 H41.81 Z M42.92,738.0 H44.03 V717.69 H42.92 Z M44.03,738.0 H45.14 V725.50 H44.03 Z M45.14,738.0 H46.24 V728.85 H45.14 Z M46.24,738.0 H47.35 V732.20 H46.24 Z M47.35,738.0 H48.46 V734.43 H47.35 Z M48.46,738.0 H49.57 V733.87 H48.46 Z M49.57,738.0 H50.68 V731.08 H49.57 Z M50.68,738.0 H51.78 V722.15 H50.68 Z M51.78,738.0 H52.89 V722.71 H51.78 Z M52.89,738.0 H54.00 V722.15 H52.89 Z M54.00,738.0 H55.11 V732.20 H54.00 Z M55.11,738.0 H56.22 V732.20 H55.11 Z M56.22,738.0 H57.33 V729.96 H56.22 Z M57.33,738.0 H58.43 V733.31 H57.33 Z M58.43,738.0 H59.54 V734.43 H58.43 Z M59.54,738.0 H60.65 V721.04 H59.54 Z M60.65,738.0 H61.76 V721.04 H60.65 Z M61.76,738.0 H62.87 V714.34 H61.76 Z M62.87,738.0 H63.98 V716.57 H62.87 Z M63.98,738.0 H65.08 V717.69 H63.98 Z M65.08,738.0 H66.19 V719.92 H65.08 Z M66.19,738.0 H67.30 V728.85 H66.19 Z M67.30,738.0 H68.41 V733.31 H67.30 Z M68.41,738.0 H69.52 V731.08 H68.41 Z M69.52,738.0 H70.62 V733.31 H69.52 Z M70.63,738.0 H71.73 V724.38 H70.63 Z M71.73,738.0 H72.84 V727.73 H71.73 Z M72.84,738.0 H73.95 V718.80 H72.84 Z M73.95,738.0 H75.06 V722.15 H73.95 Z M75.06,738.0 H76.17 V727.73 H75.06 Z M76.17,738.0 H77.27 V731.08 H76.17 Z M77.27,738.0 H78.38 V731.08 H77.27 Z M78.38,738.0 H79.49 V731.08 H78.38 Z M79.49,738.0 H80.60 V726.62 H79.49 Z M80.60,738.0 H81.71 V724.38 H80.60 Z M81.71,738.0 H82.82 V723.83 H81.71 Z M82.82,738.0 H83.92 V723.27 H82.82 Z M83.92,738.0 H85.03 V721.59 H83.92 Z M85.03,738.0 H86.14 V721.04 H85.03 Z M86.14,738.0 H87.25 V724.38 H86.14 Z M87.25,738.0 H88.36 V733.31 H87.25 Z M88.36,738.0 H89.47 V734.43 H88.36 Z M89.47,738.0 H90.57 V725.50 H89.47 Z M90.57,738.0 H91.68 V717.69 H90.57 Z M91.68,738.0 H92.79 V717.13 H91.68 Z M92.79,738.0 H93.90 V718.25 H92.79 Z M93.90,738.0 H95.01 V718.80 H93.90 Z M95.01,738.0 H96.11 V723.27 H95.01 Z M96.11,738.0 H97.22 V732.20 H96.11 Z M97.22,738.0 H98.33 V734.43 H97.22 Z M98.33,738.0 H99.44 V731.08 H98.33 Z M99.44,738.0 H100.55 V727.73 H99.44 Z M100.55,738.0 H101.66 V727.73 H100.55 Z M101.66,738.0 H102.76 V726.06 H101.66 Z M102.76,738.0 H103.87 V726.06 H102.76 Z M103.87,738.0 H104.98 V727.17 H103.87 Z M104.98,738.0 H106.09 V728.85 H104.98 Z M106.09,738.0 H107.20 V729.96 H106.09 Z M107.20,738.0 H108.31 V729.96 H107.20 Z M108.31,738.0 H109.41 V729.96 H108.31 Z M109.41,738.0 H110.52 V732.20 H109.41 Z M110.52,738.0 H111.63 V726.62 H110.52 Z M111.63,738.0 H112.74 V715.46 H111.63 Z M112.74,738.0 H113.85 V718.80 H112.74 Z M113.85,738.0 H114.95 V721.04 H113.85 Z M114.95,738.0 H116.06 V721.04 H114.95 Z M116.06,738.0 H117.17 V727.73 H116.06 Z M117.17,738.0 H118.28 V731.08 H117.17 Z M118.28,738.0 H119.39 V728.85 H118.28 Z M119.39,738.0 H120.50 V731.08 H119.39 Z M120.50,738.0 H121.60 V734.43 H120.50 Z M121.60,738.0 H122.71 V723.27 H121.60 Z M122.71,738.0 H123.82 V723.27 H122.71 Z M123.82,738.0 H124.93 V718.25 H123.82 Z M124.93,738.0 H126.04 V718.80 H124.93 Z M126.04,738.0 H127.15 V726.62 H126.04 Z M127.15,738.0 H128.25 V732.20 H127.15 Z M128.25,738.0 H129.36 V734.43 H128.25 Z M129.36,738.0 H130.47 V734.43 H129.36 Z M130.47,738.0 H131.58 V718.80 H130.47 Z M131.58,738.0 H132.69 V718.80 H131.58 Z M132.69,738.0 H133.79 V717.13 H132.69 Z M133.79,738.0 H134.90 V721.04 H133.79 Z M134.90,738.0 H136.01 V721.04 H134.90 Z M136.01,738.0 H137.12 V727.73 H136.01 Z M137.12,738.0 H138.23 V732.20 H137.12 Z M138.23,738.0 H139.34 V732.20 H138.23 Z M139.34,738.0 H140.44 V725.50 H139.34 Z M140.44,738.0 H141.55 V719.92 H140.44 Z M141.55,738.0 H142.66 V729.96 H141.55 Z M142.66,738.0 H143.77 V729.96 H142.66 Z M143.77,738.0 H144.88 V723.27 H143.77 Z M144.88,738.0 H145.99 V724.38 H144.88 Z M145.99,738.0 H147.09 V729.96 H145.99 Z M147.09,738.0 H148.20 V733.87 H147.09 Z M148.20,738.0 H149.31 V733.87 H148.20 Z M149.31,738.0 H150.42 V734.43 H149.31 Z M150.42,738.0 H151.53 V728.85 H150.42 Z M151.53,738.0 H152.63 V720.48 H151.53 Z M152.63,738.0 H153.74 V721.04 H152.63 Z M153.74,738.0 H154.85 V723.27 H153.74 Z M154.85,738.0 H155.96 V731.08 H154.85 Z M155.96,738.0 H157.07 V733.31 H155.96 Z M157.07,738.0 H158.18 V732.20 H157.07 Z M158.18,738.0 H159.28 V729.96 H158.18 Z M159.28,738.0 H160.39 V727.17 H159.28 Z M160.39,738.0 H161.50 V700.72 H160.39 Z M161.50,738.0 H162.61 V727.73 H161.50 Z M162.61,738.0 H163.72 V729.96 H162.61 Z M163.72,738.0 H164.83 V726.62 H163.72 Z M164.83,738.0 H165.93 V726.62 H164.83 Z M165.93,738.0 H167.04 V723.27 H165.93 Z M167.04,738.0 H168.15 V732.75 H167.04 Z M168.15,738.0 H169.26 V682.53 H168.15 Z M169.26,738.0 H170.37 V715.46 H169.26 Z M170.37,738.0 H171.47 V727.73 H170.37 Z M171.47,738.0 H172.58 V728.85 H171.47 Z M172.58,738.0 H173.69 V727.73 H172.58 Z M173.69,738.0 H174.80 V714.34 H173.69 Z M174.80,738.0 H175.91 V723.27 H174.80 Z M175.91,738.0 H177.02 V726.62 H175.91 Z M177.02,738.0 H178.12 V729.96 H177.02 Z M178.12,738.0 H179.23 V732.20 H178.12 Z M179.23,738.0 H180.34 V732.20 H179.23 Z M180.34,738.0 H181.45 V732.75 H180.34 Z M181.45,738.0 H182.56 V735.54 H181.45 Z M182.56,738.0 H183.67 V725.50 H182.56 Z M183.67,738.0 H184.77 V709.32 H183.67 Z M184.77,738.0 H185.88 V710.99 H184.77 Z M185.88,738.0 H186.99 V722.15 H185.88 Z M186.99,738.0 H188.10 V726.62 H186.99 Z M188.10,738.0 H189.21 V729.96 H188.10 Z M189.21,738.0 H190.32 V729.96 H189.21 Z M190.32,738.0 H191.42 V719.92 H190.32 Z M191.42,738.0 H192.53 V724.38 H191.42 Z M192.53,738.0 H193.64 V728.85 H192.53 Z M193.64,738.0 H194.75 V725.50 H193.64 Z M194.75,738.0 H195.86 V734.43 H194.75 Z M195.86,738.0 H196.96 V734.43 H195.86 Z M196.96,738.0 H198.07 V733.31 H196.96 Z M198.07,738.0 H199.18 V719.92 H198.07 Z M199.18,738.0 H200.29 V719.36 H199.18 Z M200.29,738.0 H201.40 V719.36 H200.29 Z M201.40,738.0 H202.51 V724.38 H201.40 Z M202.51,738.0 H203.61 V716.57 H202.51 Z M203.61,738.0 H204.72 V716.57 H203.61 Z M204.72,738.0 H205.83 V722.15 H204.72 Z M205.83,738.0 H206.94 V727.73 H205.83 Z M206.94,738.0 H208.05 V729.96 H206.94 Z M208.05,738.0 H209.16 V732.20 H208.05 Z M209.16,738.0 H210.26 V732.20 H209.16 Z M210.26,738.0 H211.37 V713.78 H210.26 Z M211.37,738.0 H212.48 V713.78 H211.37 Z M212.48,738.0 H213.59 V714.34 H212.48 Z M213.59,738.0 H214.70 V724.38 H213.59 Z M214.70,738.0 H215.80 V725.50 H214.70 Z M215.80,738.0 H216.91 V729.96 H215.80 Z M216.91,738.0 H218.02 V732.75 H216.91 Z M218.02,738.0 H219.13 V729.96 H218.02 Z M219.13,738.0 H220.24 V729.96 H219.13 Z M220.24,738.0 H221.35 V720.48 H220.24 Z M221.35,738.0 H222.45 V722.15 H221.35 Z M222.45,738.0 H223.56 V727.73 H222.45 Z M223.56,738.0 H224.67 V732.20 H223.56 Z M224.67,738.0 H225.78 V732.75 H224.67 Z M225.78,738.0 H226.89 V732.20 H225.78 Z M226.89,738.0 H228.00 V729.96 H226.89 Z M228.00,738.0 H229.10 V729.96 H228.00 Z M229.10,738.0 H230.21 V717.69 H229.10 Z M230.21,738.0 H231.32 V707.08 H230.21 Z M231.32,738.0 H232.43 V718.80 H231.32 Z M232.43,738.0 H233.54 V719.92 H232.43 Z M233.54,738.0 H234.64 V721.04 H233.54 Z M234.64,738.0 H235.75 V729.96 H234.64 Z M235.75,738.0 H236.86 V732.75 H235.75 Z M236.86,738.0 H237.97 V732.75 H236.86 Z M237.97,738.0 H239.08 V719.92 H237.97 Z M239.08,738.0 H240.19 V719.92 H239.08 Z M240.19,738.0 H241.29 V721.04 H240.19 Z M241.29,738.0 H242.40 V721.04 H241.29 Z M242.40,738.0 H243.51 V724.38 H242.40 Z M243.51,738.0 H244.62 V729.96 H243.51 Z M244.62,738.0 H245.73 V729.96 H244.62 Z M245.73,738.0 H246.84 V732.20 H245.73 Z M246.84,738.0 H247.94 V732.20 H246.84 Z M247.94,738.0 H249.05 V732.20 H247.94 Z M249.05,738.0 H250.16 V725.50 H249.05 Z M250.16,738.0 H251.27 V718.80 H250.16 Z M251.27,738.0 H252.38 V716.01 H251.27 Z M252.38,738.0 H253.48 V721.04 H252.38 Z M253.48,738.0 H254.59 V727.73 H253.48 Z M254.59,738.0 H255.70 V725.50 H254.59 Z M255.70,738.0 H256.81 V717.69 H255.70 Z M256.81,738.0 H257.92 V725.50 H256.81 Z M257.92,738.0 H259.03 V729.96 H257.92 Z M259.03,738.0 H260.13 V727.73 H259.03 Z M260.13,738.0 H261.24 V723.27 H260.13 Z M261.24,738.0 H262.35 V722.15 H261.24 Z M262.35,738.0 H263.46 V725.50 H262.35 Z M263.46,738.0 H264.57 V728.85 H263.46 Z M264.57,738.0 H265.68 V726.62 H264.57 Z M265.68,738.0 H266.78 V731.08 H265.68 Z M266.78,738.0 H267.89 V729.96 H266.78 Z M267.89,738.0 H269.00 V707.08 H267.89 Z M269.00,738.0 H270.11 V729.96 H269.00 Z M270.11,738.0 H271.22 V725.50 H270.11 Z M271.22,738.0 H272.33 V717.13 H271.22 Z M272.33,738.0 H273.43 V718.80 H272.33 Z M273.43,738.0 H274.54 V719.92 H273.43 Z M274.54,738.0 H275.65 V727.73 H274.54 Z M275.65,738.0 H276.76 V731.08 H275.65 Z M276.76,738.0 H277.87 V727.73 H276.76 Z M277.87,738.0 H278.97 V725.50 H277.87 Z M278.97,738.0 H280.08 V727.73 H278.97 Z M280.08,738.0 H281.19 V693.69 H280.08 Z M281.19,738.0 H282.30 V719.92 H281.19 Z M282.30,738.0 H283.41 V728.85 H282.30 Z M283.41,738.0 H284.52 V729.96 H283.41 Z M284.52,738.0 H285.62 V731.08 H284.52 Z M285.62,738.0 H286.73 V733.31 H285.62 Z M286.73,738.0 H287.84 V714.34 H286.73 Z M287.84,738.0 H288.95 V714.34 H287.84 Z M288.95,738.0 H290.06 V721.04 H288.95 Z M290.06,738.0 H291.17 V717.69 H290.06 Z M291.17,738.0 H292.27 V718.80 H291.17 Z M292.27,738.0 H293.38 V721.04 H292.27 Z M293.38,738.0 H294.49 V724.38 H293.38 Z M294.49,738.0 H295.60 V728.85 H294.49 Z M295.60,738.0 H296.71 V729.96 H295.60 Z M296.71,738.0 H297.81 V731.08 H296.71 Z M297.81,738.0 H298.92 V727.73 H297.81 Z M298.92,738.0 H300.03 V709.88 H298.92 Z M300.03,738.0 H301.14 V690.34 H300.03 Z M301.14,738.0 H302.25 V700.95 H301.14 Z M302.25,738.0 H303.36 V716.57 H302.25 Z M303.36,738.0 H304.46 V718.80 H303.36 Z M304.46,738.0 H305.57 V698.71 H304.46 Z M305.57,738.0 H306.68 V722.15 H305.57 Z M306.68,738.0 H307.79 V723.27 H306.68 Z M307.79,738.0 H308.90 V727.73 H307.79 Z M308.90,738.0 H310.01 V729.96 H308.90 Z M310.01,738.0 H311.11 V733.31 H310.01 Z M311.11,738.0 H312.22 V734.43 H311.11 Z M312.22,738.0 H313.33 V732.20 H312.22 Z M313.33,738.0 H314.44 V732.20 H313.33 Z M314.44,738.0 H315.55 V728.85 H314.44 Z M315.55,738.0 H316.65 V726.62 H315.55 Z M316.65,738.0 H317.76 V721.17 H316.65 Z M317.76,738.0 H318.87 V720.57 H317.76 Z M318.87,738.0 H319.98 V723.58 H318.87 Z M319.98,738.0 H321.09 V729.59 H319.98 Z M321.09,738.0 H322.20 V729.59 H321.09 Z M322.20,738.0 H323.30 V724.18 H322.20 Z M323.30,738.0 H324.41 V728.38 H323.30 Z M324.41,738.0 H325.52 V733.19 H324.41 Z M325.52,738.0 H326.63 V734.39 H325.52 Z M326.63,738.0 H327.74 V734.39 H326.63 Z M327.74,738.0 H328.85 V731.99 H327.74 Z M328.85,738.0 H329.95 V727.18 H328.85 Z M329.95,738.0 H331.06 V719.37 H329.95 Z M331.06,738.0 H332.17 V729.59 H331.06 Z M332.17,738.0 H333.28 V725.98 H332.17 Z M333.28,738.0 H334.39 V733.19 H333.28 Z M334.39,738.0 H335.49 V734.39 H334.39 Z M335.49,738.0 H336.60 V734.39 H335.49 Z M336.60,738.0 H337.71 V734.39 H336.60 Z M337.71,738.0 H338.82 V733.19 H337.71 Z M338.82,738.0 H339.93 V729.59 H338.82 Z M339.93,738.0 H341.04 V725.98 H339.93 Z M341.04,738.0 H342.14 V731.99 H341.04 Z M342.14,738.0 H343.25 V734.39 H342.14 Z M343.25,738.0 H344.36 V734.39 H343.25 Z M344.36,738.0 H345.47 V733.19 H344.36 Z M345.47,738.0 H346.58 V729.59 H345.47 Z M346.58,738.0 H347.69 V730.79 H346.58 Z M347.69,738.0 H348.79 V730.79 H347.69 Z M348.79,738.0 H349.90 V724.18 H348.79 Z M349.90,738.0 H351.01 V728.38 H349.90 Z M351.01,738.0 H352.12 V733.19 H351.01 Z M352.12,738.0 H353.23 V734.39 H352.12 Z M353.23,738.0 H354.33 V733.19 H353.23 Z M354.33,738.0 H355.44 V730.79 H354.33 Z M355.44,738.0 H356.55 V725.98 H355.44 Z M356.55,738.0 H357.66 V725.98 H356.55 Z M357.66,738.0 H358.77 V723.58 H357.66 Z M358.77,738.0 H359.88 V722.38 H358.77 Z M359.88,738.0 H360.98 V721.77 H359.88 Z M360.98,738.0 H362.09 V721.17 H360.98 Z M362.09,738.0 H363.20 V723.58 H362.09 Z M363.20,738.0 H364.31 V729.59 H363.20 Z M364.31,738.0 H365.42 V731.99 H364.31 Z M365.42,738.0 H366.53 V730.79 H365.42 Z M366.53,738.0 H367.63 V729.59 H366.53 Z M367.63,738.0 H368.74 V729.59 H367.63 Z M368.74,738.0 H369.85 V727.78 H368.74 Z M369.85,738.0 H370.96 V728.38 H369.85 Z M370.96,738.0 H372.07 V730.79 H370.96 Z M372.07,738.0 H373.18 V734.39 H372.07 Z M373.18,738.0 H374.28 V735.60 H373.18 Z M374.28,738.0 H375.39 V734.39 H374.28 Z M375.39,738.0 H376.50 V730.79 H375.39 Z M376.50,738.0 H377.61 V729.59 H376.50 Z M377.61,738.0 H378.72 V730.79 H377.61 Z M378.72,738.0 H379.82 V731.99 H378.72 Z M379.82,738.0 H380.93 V731.99 H379.82 Z M380.93,738.0 H382.04 V728.38 H380.93 Z M382.04,738.0 H383.15 V728.38 H382.04 Z M383.15,738.0 H384.26 V731.99 H383.15 Z M384.26,738.0 H385.37 V733.19 H384.26 Z M385.37,738.0 H386.47 V730.79 H385.37 Z M386.47,738.0 H387.58 V727.18 H386.47 Z M387.58,738.0 H388.69 V723.58 H387.58 Z M388.69,738.0 H389.80 V719.97 H388.69 Z M389.80,738.0 H390.91 V719.97 H389.80 Z M390.91,738.0 H392.02 V719.97 H390.91 Z M392.02,738.0 H393.12 V719.97 H392.02 Z M393.12,738.0 H394.23 V729.59 H393.12 Z M394.23,738.0 H395.34 V733.19 H394.23 Z M395.34,738.0 H396.45 V733.19 H395.34 Z M396.45,738.0 H397.56 V735.60 H396.45 Z M397.56,738.0 H398.66 V731.99 H397.56 Z M398.66,738.0 H399.77 V729.59 H398.66 Z M399.77,738.0 H400.88 V726.58 H399.77 Z M400.88,738.0 H401.99 V727.18 H400.88 Z M401.99,738.0 H403.10 V730.79 H401.99 Z M403.10,738.0 H404.21 V730.79 H403.10 Z M404.21,738.0 H405.31 V731.99 H404.21 Z M405.31,738.0 H406.42 V733.19 H405.31 Z M406.42,738.0 H407.53 V728.38 H406.42 Z M407.53,738.0 H408.64 V729.59 H407.53 Z M408.64,738.0 H409.75 V725.98 H408.64 Z M409.75,738.0 H410.86 V724.78 H409.75 Z M410.86,738.0 H411.96 V728.38 H410.86 Z M411.96,738.0 H413.07 V733.19 H411.96 Z M413.07,738.0 H414.18 V735.60 H413.07 Z M414.18,738.0 H415.29 V735.60 H414.18 Z M415.29,738.0 H416.40 V730.79 H415.29 Z M416.40,738.0 H417.50 V729.59 H416.40 Z M417.50,738.0 H418.61 V725.98 H417.50 Z M418.61,738.0 H419.72 V714.56 H418.61 Z M419.72,738.0 H420.83 V715.16 H419.72 Z M420.83,738.0 H421.94 V727.18 H420.83 Z M421.94,738.0 H423.05 V724.78 H421.94 Z M423.05,738.0 H423.60 V724.78 H423.05 Z" fill="#3a40a4"/>
<path d="M74.50,738.0 v-2.5 M74.50,675.5 v2.5 M129.92,738.0 v-2.5 M129.92,675.5 v2.5 M185.33,738.0 v-2.5 M185.33,675.5 v2.5 M240.74,738.0 v-2.5 M240.74,675.5 v2.5 M296.15,738.0 v-2.5 M296.15,675.5 v2.5 M351.56,738.0 v-2.5 M351.56,675.5 v2.5 M406.98,738.0 v-2.5 M406.98,675.5 v2.5 M20.2,738.00 h2.5 M423.6,738.00 h-2.5 M20.2,722.38 h2.5 M423.6,722.38 h-2.5 M20.2,706.75 h2.5 M423.6,706.75 h-2.5 M20.2,691.12 h2.5 M423.6,691.12 h-2.5 M20.2,675.50 h2.5 M423.6,675.50 h-2.5" stroke="#444" stroke-width="0.9" fill="none"/>
<rect x="20.2" y="675.5" width="403.40" height="62.50" fill="none" stroke="#3a3a3a" stroke-width="0.9"/>
<text x="18.9" y="740.30" text-anchor="end" font-family="'Liberation Sans', Arial, sans-serif" font-weight="bold" font-size="6.5" fill="#222">0</text>
<text x="18.9" y="724.67" text-anchor="end" font-family="'Liberation Sans', Arial, sans-serif" font-weight="bold" font-size="6.5" fill="#222">1</text>
<text x="18.9" y="709.05" text-anchor="end" font-family="'Liberation Sans', Arial, sans-serif" font-weight="bold" font-size="6.5" fill="#222">2</text>
<text x="18.9" y="693.42" text-anchor="end" font-family="'Liberation Sans', Arial, sans-serif" font-weight="bold" font-size="6.5" fill="#222">3</text>
<text x="18.9" y="677.80" text-anchor="end" font-family="'Liberation Sans', Arial, sans-serif" font-weight="bold" font-size="6.5" fill="#222">4</text>
<text x="74.50" y="746.60" text-anchor="middle" font-family="'Liberation Sans', Arial, sans-serif" font-weight="bold" font-size="6.5" fill="#222">50</text>
<text x="129.92" y="746.60" text-anchor="middle" font-family="'Liberation Sans', Arial, sans-serif" font-weight="bold" font-size="6.5" fill="#222">100</text>
<text x="185.33" y="746.60" text-anchor="middle" font-family="'Liberation Sans', Arial, sans-serif" font-weight="bold" font-size="6.5" fill="#222">150</text>
<text x="240.74" y="746.60" text-anchor="middle" font-family="'Liberation Sans', Arial, sans-serif" font-weight="bold" font-size="6.5" fill="#222">200</text>
<text x="296.15" y="746.60" text-anchor="middle" font-family="'Liberation Sans', Arial, sans-serif" font-weight="bold" font-size="6.5" fill="#222">250</text>
<text x="351.56" y="746.60" text-anchor="middle" font-family="'Liberation Sans', Arial, sans-serif" font-weight="bold" font-size="6.5" fill="#222">300</text>
<text x="406.98" y="746.60" text-anchor="middle" font-family="'Liberation Sans', Arial, sans-serif" font-weight="bold" font-size="6.5" fill="#222">350</text>
<text x="167.2" y="669.7" font-family="'Liberation Sans', Arial, sans-serif" font-weight="bold" font-size="8.2" fill="#2a2a2a" textLength="109" lengthAdjust="spacingAndGlyphs">Number of ionospheric signals</text>
<text transform="translate(12.4,734.75) rotate(-90)" font-family="'Liberation Sans', Arial, sans-serif" font-weight="bold" font-size="6" fill="#222" textLength="56" lengthAdjust="spacingAndGlyphs">Number of M-blocks</text>
<text x="20.8" y="673.9" font-family="'Liberation Sans', Arial, sans-serif" font-size="6.4" fill="#222" textLength="12" lengthAdjust="spacingAndGlyphs">x 10</text>
<text x="33.4" y="667.2" font-family="'Liberation Sans', Arial, sans-serif" font-size="4.6" fill="#222">4</text>
<path d="M74.50,762.5 V824.5 M129.92,762.5 V824.5 M185.33,762.5 V824.5 M240.74,762.5 V824.5 M296.15,762.5 V824.5 M351.56,762.5 V824.5 M406.98,762.5 V824.5 M20.2,800.52 H423.6 M20.2,776.53 H423.6" stroke="#b4b4b4" stroke-width="0.8" stroke-dasharray="2.2,1.6" fill="none"/>
<path d="M20.20,824.5 H20.75 V793.60 H20.20 Z M20.75,824.5 H21.86 V781.33 H20.75 Z M21.86,824.5 H22.97 V792.48 H21.86 Z M22.97,824.5 H24.08 V787.46 H22.97 Z M24.08,824.5 H25.19 V793.60 H24.08 Z M25.19,824.5 H26.30 V813.68 H25.19 Z M26.30,824.5 H27.40 V795.83 H26.30 Z M27.40,824.5 H28.51 V788.02 H27.40 Z M28.51,824.5 H29.62 V814.79 H28.51 Z M29.62,824.5 H30.73 V810.33 H29.62 Z M30.73,824.5 H31.84 V798.06 H30.73 Z M31.84,824.5 H32.94 V783.00 H31.84 Z M32.94,824.5 H34.05 V795.83 H32.94 Z M34.05,824.5 H35.16 V799.18 H34.05 Z M35.16,824.5 H36.27 V793.60 H35.16 Z M36.27,824.5 H37.38 V794.71 H36.27 Z M37.38,824.5 H38.49 V773.52 H37.38 Z M38.49,824.5 H39.59 V766.83 H38.49 Z M39.59,824.5 H40.70 V775.75 H39.59 Z M40.70,824.5 H41.81 V794.71 H40.70 Z M41.81,824.5 H42.92 V781.89 H41.81 Z M42.92,824.5 H44.03 V785.79 H42.92 Z M44.03,824.5 H45.14 V792.48 H44.03 Z M45.14,824.5 H46.24 V802.52 H45.14 Z M46.24,824.5 H47.35 V814.79 H46.24 Z M47.35,824.5 H48.46 V819.26 H47.35 Z M48.46,824.5 H49.57 V819.26 H48.46 Z M49.57,824.5 H50.68 V810.33 H49.57 Z M50.68,824.5 H51.78 V791.93 H50.68 Z M51.78,824.5 H52.89 V794.71 H51.78 Z M52.89,824.5 H54.00 V794.71 H52.89 Z M54.00,824.5 H55.11 V811.45 H54.00 Z M55.11,824.5 H56.22 V804.75 H55.11 Z M56.22,824.5 H57.33 V805.87 H56.22 Z M57.33,824.5 H58.43 V817.03 H57.33 Z M58.43,824.5 H59.54 V819.26 H58.43 Z M59.54,824.5 H60.65 V804.75 H59.54 Z M60.65,824.5 H61.76 V786.91 H60.65 Z M61.76,824.5 H62.87 V783.56 H61.76 Z M62.87,824.5 H63.98 V788.02 H62.87 Z M63.98,824.5 H65.08 V791.37 H63.98 Z M65.08,824.5 H66.19 V799.18 H65.08 Z M66.19,824.5 H67.30 V813.68 H66.19 Z M67.30,824.5 H68.41 V815.91 H67.30 Z M68.41,824.5 H69.52 V811.45 H68.41 Z M69.52,824.5 H70.62 V815.91 H69.52 Z M70.63,824.5 H71.73 V797.50 H70.63 Z M71.73,824.5 H72.84 V810.33 H71.73 Z M72.84,824.5 H73.95 V786.91 H72.84 Z M73.95,824.5 H75.06 V796.39 H73.95 Z M75.06,824.5 H76.17 V799.18 H75.06 Z M76.17,824.5 H77.27 V811.45 H76.17 Z M77.27,824.5 H78.38 V815.91 H77.27 Z M78.38,824.5 H79.49 V817.03 H78.38 Z M79.49,824.5 H80.60 V815.91 H79.49 Z M80.60,824.5 H81.71 V803.64 H80.60 Z M81.71,824.5 H82.82 V801.41 H81.71 Z M82.82,824.5 H83.92 V799.18 H82.82 Z M83.92,824.5 H85.03 V798.06 H83.92 Z M85.03,824.5 H86.14 V806.99 H85.03 Z M86.14,824.5 H87.25 V798.06 H86.14 Z M87.25,824.5 H88.36 V813.68 H87.25 Z M88.36,824.5 H89.47 V819.26 H88.36 Z M89.47,824.5 H90.57 V802.52 H89.47 Z M90.57,824.5 H91.68 V780.21 H90.57 Z M91.68,824.5 H92.79 V779.65 H91.68 Z M92.79,824.5 H93.90 V785.79 H92.79 Z M93.90,824.5 H95.01 V788.02 H93.90 Z M95.01,824.5 H96.11 V796.95 H95.01 Z M96.11,824.5 H97.22 V812.56 H96.11 Z M97.22,824.5 H98.33 V815.91 H97.22 Z M98.33,824.5 H99.44 V812.56 H98.33 Z M99.44,824.5 H100.55 V793.60 H99.44 Z M100.55,824.5 H101.66 V793.60 H100.55 Z M101.66,824.5 H102.76 V809.22 H101.66 Z M102.76,824.5 H103.87 V799.18 H102.76 Z M103.87,824.5 H104.98 V799.18 H103.87 Z M104.98,824.5 H106.09 V806.99 H104.98 Z M106.09,824.5 H107.20 V806.99 H106.09 Z M107.20,824.5 H108.31 V809.22 H107.20 Z M108.31,824.5 H109.41 V809.22 H108.31 Z M109.41,824.5 H110.52 V814.79 H109.41 Z M110.52,824.5 H111.63 V809.22 H110.52 Z M111.63,824.5 H112.74 V792.48 H111.63 Z M112.74,824.5 H113.85 V792.48 H112.74 Z M113.85,824.5 H114.95 V796.95 H113.85 Z M114.95,824.5 H116.06 V796.95 H114.95 Z M116.06,824.5 H117.17 V813.68 H116.06 Z M117.17,824.5 H118.28 V808.10 H117.17 Z M118.28,824.5 H119.39 V804.75 H118.28 Z M119.39,824.5 H120.50 V804.20 H119.39 Z M120.50,824.5 H121.60 V812.56 H120.50 Z M121.60,824.5 H122.71 V818.14 H121.60 Z M122.71,824.5 H123.82 V802.52 H122.71 Z M123.82,824.5 H124.93 V780.77 H123.82 Z M124.93,824.5 H126.04 V801.41 H124.93 Z M126.04,824.5 H127.15 V809.22 H126.04 Z M127.15,824.5 H128.25 V817.03 H127.15 Z M128.25,824.5 H129.36 V818.14 H128.25 Z M129.36,824.5 H130.47 V819.26 H129.36 Z M130.47,824.5 H131.58 V805.87 H130.47 Z M131.58,824.5 H132.69 V785.23 H131.58 Z M132.69,824.5 H133.79 V784.12 H132.69 Z M133.79,824.5 H134.90 V795.83 H133.79 Z M134.90,824.5 H136.01 V798.06 H134.90 Z M136.01,824.5 H137.12 V811.45 H136.01 Z M137.12,824.5 H138.23 V813.68 H137.12 Z M138.23,824.5 H139.34 V809.22 H138.23 Z M139.34,824.5 H140.44 V808.10 H139.34 Z M140.44,824.5 H141.55 V793.04 H140.44 Z M141.55,824.5 H142.66 V818.70 H141.55 Z M142.66,824.5 H143.77 V806.99 H142.66 Z M143.77,824.5 H144.88 V810.33 H143.77 Z M144.88,824.5 H145.99 V805.87 H144.88 Z M145.99,824.5 H147.09 V805.87 H145.99 Z M147.09,824.5 H148.20 V815.91 H147.09 Z M148.20,824.5 H149.31 V820.37 H148.20 Z M149.31,824.5 H150.42 V818.14 H149.31 Z M150.42,824.5 H151.53 V804.75 H150.42 Z M151.53,824.5 H152.63 V788.58 H151.53 Z M152.63,824.5 H153.74 V790.25 H152.63 Z M153.74,824.5 H154.85 V808.10 H153.74 Z M154.85,824.5 H155.96 V804.20 H154.85 Z M155.96,824.5 H157.07 V812.56 H155.96 Z M157.07,824.5 H158.18 V813.68 H157.07 Z M158.18,824.5 H159.28 V813.68 H158.18 Z M159.28,824.5 H160.39 V805.87 H159.28 Z M160.39,824.5 H161.50 V768.50 H160.39 Z M161.50,824.5 H162.61 V804.75 H161.50 Z M162.61,824.5 H163.72 V805.87 H162.61 Z M163.72,824.5 H164.83 V802.52 H163.72 Z M164.83,824.5 H165.93 V795.83 H164.83 Z M165.93,824.5 H167.04 V791.37 H165.93 Z M167.04,824.5 H168.15 V808.10 H167.04 Z M168.15,824.5 H169.26 V769.06 H168.15 Z M169.26,824.5 H170.37 V783.00 H169.26 Z M170.37,824.5 H171.47 V795.83 H170.37 Z M171.47,824.5 H172.58 V805.87 H171.47 Z M172.58,824.5 H173.69 V806.99 H172.58 Z M173.69,824.5 H174.80 V790.81 H173.69 Z M174.80,824.5 H175.91 V794.71 H174.80 Z M175.91,824.5 H177.02 V805.87 H175.91 Z M177.02,824.5 H178.12 V813.68 H177.02 Z M178.12,824.5 H179.23 V815.91 H178.12 Z M179.23,824.5 H180.34 V820.37 H179.23 Z M180.34,824.5 H181.45 V822.60 H180.34 Z M181.45,824.5 H182.56 V819.26 H181.45 Z M182.56,824.5 H183.67 V802.52 H182.56 Z M183.67,824.5 H184.77 V794.71 H183.67 Z M184.77,824.5 H185.88 V767.94 H184.77 Z M185.88,824.5 H186.99 V795.83 H185.88 Z M186.99,824.5 H188.10 V809.22 H186.99 Z M188.10,824.5 H189.21 V810.33 H188.10 Z M189.21,824.5 H190.32 V809.77 H189.21 Z M190.32,824.5 H191.42 V809.22 H190.32 Z M191.42,824.5 H192.53 V794.16 H191.42 Z M192.53,824.5 H193.64 V803.64 H192.53 Z M193.64,824.5 H194.75 V797.50 H193.64 Z M194.75,824.5 H195.86 V809.22 H194.75 Z M195.86,824.5 H196.96 V813.68 H195.86 Z M196.96,824.5 H198.07 V819.26 H196.96 Z M198.07,824.5 H199.18 V815.91 H198.07 Z M199.18,824.5 H200.29 V781.33 H199.18 Z M200.29,824.5 H201.40 V786.91 H200.29 Z M201.40,824.5 H202.51 V794.71 H201.40 Z M202.51,824.5 H203.61 V796.95 H202.51 Z M203.61,824.5 H204.72 V790.81 H203.61 Z M204.72,824.5 H205.83 V799.18 H204.72 Z M205.83,824.5 H206.94 V808.10 H205.83 Z M206.94,824.5 H208.05 V812.56 H206.94 Z M208.05,824.5 H209.16 V818.14 H208.05 Z M209.16,824.5 H210.26 V821.49 H209.16 Z M210.26,824.5 H211.37 V811.45 H210.26 Z M211.37,824.5 H212.48 V777.98 H211.37 Z M212.48,824.5 H213.59 V805.87 H212.48 Z M213.59,824.5 H214.70 V802.52 H213.59 Z M214.70,824.5 H215.80 V809.22 H214.70 Z M215.80,824.5 H216.91 V815.91 H215.80 Z M216.91,824.5 H218.02 V815.91 H216.91 Z M218.02,824.5 H219.13 V812.56 H218.02 Z M219.13,824.5 H220.24 V809.22 H219.13 Z M220.24,824.5 H221.35 V799.73 H220.24 Z M221.35,824.5 H222.45 V799.73 H221.35 Z M222.45,824.5 H223.56 V805.87 H222.45 Z M223.56,824.5 H224.67 V813.68 H223.56 Z M224.67,824.5 H225.78 V815.91 H224.67 Z M225.78,824.5 H226.89 V815.91 H225.78 Z M226.89,824.5 H228.00 V809.22 H226.89 Z M228.00,824.5 H229.10 V814.79 H228.00 Z M229.10,824.5 H230.21 V790.25 H229.10 Z M230.21,824.5 H231.32 V774.08 H230.21 Z M231.32,824.5 H232.43 V784.12 H231.32 Z M232.43,824.5 H233.54 V784.67 H232.43 Z M233.54,824.5 H234.64 V786.91 H233.54 Z M234.64,824.5 H235.75 V809.22 H234.64 Z M235.75,824.5 H236.86 V813.68 H235.75 Z M236.86,824.5 H237.97 V809.22 H236.86 Z M237.97,824.5 H239.08 V792.48 H237.97 Z M239.08,824.5 H240.19 V792.48 H239.08 Z M240.19,824.5 H241.29 V792.48 H240.19 Z M241.29,824.5 H242.40 V792.48 H241.29 Z M242.40,824.5 H243.51 V793.60 H242.40 Z M243.51,824.5 H244.62 V800.29 H243.51 Z M244.62,824.5 H245.73 V813.68 H244.62 Z M245.73,824.5 H246.84 V816.47 H245.73 Z M246.84,824.5 H247.94 V815.35 H246.84 Z M247.94,824.5 H249.05 V814.79 H247.94 Z M249.05,824.5 H250.16 V801.41 H249.05 Z M250.16,824.5 H251.27 V791.37 H250.16 Z M251.27,824.5 H252.38 V793.60 H251.27 Z M252.38,824.5 H253.48 V802.52 H252.38 Z M253.48,824.5 H254.59 V805.87 H253.48 Z M254.59,824.5 H255.70 V796.39 H254.59 Z M255.70,824.5 H256.81 V803.64 H255.70 Z M256.81,824.5 H257.92 V804.75 H256.81 Z M257.92,824.5 H259.03 V806.99 H257.92 Z M259.03,824.5 H260.13 V808.10 H259.03 Z M260.13,824.5 H261.24 V784.67 H260.13 Z M261.24,824.5 H262.35 V796.95 H261.24 Z M262.35,824.5 H263.46 V804.75 H262.35 Z M263.46,824.5 H264.57 V809.22 H263.46 Z M264.57,824.5 H265.68 V799.18 H264.57 Z M265.68,824.5 H266.78 V818.14 H265.68 Z M266.78,824.5 H267.89 V809.22 H266.78 Z M267.89,824.5 H269.00 V796.39 H267.89 Z M269.00,824.5 H270.11 V808.10 H269.00 Z M270.11,824.5 H271.22 V811.45 H270.11 Z M271.22,824.5 H272.33 V796.39 H271.22 Z M272.33,824.5 H273.43 V797.50 H272.33 Z M273.43,824.5 H274.54 V798.06 H273.43 Z M274.54,824.5 H275.65 V808.10 H274.54 Z M275.65,824.5 H276.76 V814.79 H275.65 Z M276.76,824.5 H277.87 V806.99 H276.76 Z M277.87,824.5 H278.97 V803.64 H277.87 Z M278.97,824.5 H280.08 V804.75 H278.97 Z M280.08,824.5 H281.19 V768.50 H280.08 Z M281.19,824.5 H282.30 V791.37 H281.19 Z M282.30,824.5 H283.41 V810.33 H282.30 Z M283.41,824.5 H284.52 V812.56 H283.41 Z M284.52,824.5 H285.62 V811.45 H284.52 Z M285.62,824.5 H286.73 V812.56 H285.62 Z M286.73,824.5 H287.84 V818.14 H286.73 Z M287.84,824.5 H288.95 V784.12 H287.84 Z M288.95,824.5 H290.06 V791.37 H288.95 Z M290.06,824.5 H291.17 V783.34 H290.06 Z M291.17,824.5 H292.27 V789.14 H291.17 Z M292.27,824.5 H293.38 V790.25 H292.27 Z M293.38,824.5 H294.49 V800.29 H293.38 Z M294.49,824.5 H295.60 V804.75 H294.49 Z M295.60,824.5 H296.71 V805.87 H295.60 Z M296.71,824.5 H297.81 V809.22 H296.71 Z M297.81,824.5 H298.92 V785.79 H297.81 Z M298.92,824.5 H300.03 V776.87 H298.92 Z M300.03,824.5 H301.14 V762.92 H300.03 Z M301.14,824.5 H302.25 V769.06 H301.14 Z M302.25,824.5 H303.36 V780.21 H302.25 Z M303.36,824.5 H304.46 V780.21 H303.36 Z M304.46,824.5 H305.57 V780.21 H304.46 Z M305.57,824.5 H306.68 V793.60 H305.57 Z M306.68,824.5 H307.79 V800.29 H306.68 Z M307.79,824.5 H308.90 V805.87 H307.79 Z M308.90,824.5 H310.01 V811.45 H308.90 Z M310.01,824.5 H311.11 V817.03 H310.01 Z M311.11,824.5 H312.22 V809.22 H311.11 Z M312.22,824.5 H313.33 V809.22 H312.22 Z M313.33,824.5 H314.44 V810.33 H313.33 Z M314.44,824.5 H315.55 V811.45 H314.44 Z M315.55,824.5 H316.65 V795.83 H315.55 Z M316.65,824.5 H317.76 V800.93 H316.65 Z M317.76,824.5 H318.87 V801.54 H317.76 Z M318.87,824.5 H319.98 V808.26 H318.87 Z M319.98,824.5 H321.09 V806.43 H319.98 Z M321.09,824.5 H322.20 V806.43 H321.09 Z M322.20,824.5 H323.30 V799.71 H322.20 Z M323.30,824.5 H324.41 V796.66 H323.30 Z M324.41,824.5 H325.52 V815.59 H324.41 Z M325.52,824.5 H326.63 V817.42 H325.52 Z M326.63,824.5 H327.74 V817.42 H326.63 Z M327.74,824.5 H328.85 V814.36 H327.74 Z M328.85,824.5 H329.95 V802.15 H328.85 Z M329.95,824.5 H331.06 V788.11 H329.95 Z M331.06,824.5 H332.17 V803.37 H331.06 Z M332.17,824.5 H333.28 V804.59 H332.17 Z M333.28,824.5 H334.39 V810.70 H333.28 Z M334.39,824.5 H335.49 V820.47 H334.39 Z M335.49,824.5 H336.60 V815.59 H335.49 Z M336.60,824.5 H337.71 V820.47 H336.60 Z M337.71,824.5 H338.82 V820.47 H337.71 Z M338.82,824.5 H339.93 V820.47 H338.82 Z M339.93,824.5 H341.04 V800.32 H339.93 Z M341.04,824.5 H342.14 V810.70 H341.04 Z M342.14,824.5 H343.25 V808.26 H342.14 Z M343.25,824.5 H344.36 V818.03 H343.25 Z M344.36,824.5 H345.47 V820.47 H344.36 Z M345.47,824.5 H346.58 V810.70 H345.47 Z M346.58,824.5 H347.69 V819.25 H346.58 Z M347.69,824.5 H348.79 V810.70 H347.69 Z M348.79,824.5 H349.90 V791.16 H348.79 Z M349.90,824.5 H351.01 V800.93 H349.90 Z M351.01,824.5 H352.12 V810.70 H351.01 Z M352.12,824.5 H353.23 V818.03 H352.12 Z M353.23,824.5 H354.33 V811.92 H353.23 Z M354.33,824.5 H355.44 V797.27 H354.33 Z M355.44,824.5 H356.55 V797.27 H355.44 Z M356.55,824.5 H357.66 V804.59 H356.55 Z M357.66,824.5 H358.77 V805.82 H357.66 Z M358.77,824.5 H359.88 V788.72 H358.77 Z M359.88,824.5 H360.98 V792.38 H359.88 Z M360.98,824.5 H362.09 V807.04 H360.98 Z M362.09,824.5 H363.20 V797.27 H362.09 Z M363.20,824.5 H364.31 V808.26 H363.20 Z M364.31,824.5 H365.42 V816.81 H364.31 Z M365.42,824.5 H366.53 V818.03 H365.42 Z M366.53,824.5 H367.63 V819.25 H366.53 Z M367.63,824.5 H368.74 V819.25 H367.63 Z M368.74,824.5 H369.85 V798.49 H368.74 Z M369.85,824.5 H370.96 V797.27 H369.85 Z M370.96,824.5 H372.07 V805.82 H370.96 Z M372.07,824.5 H373.18 V816.81 H372.07 Z M373.18,824.5 H374.28 V820.47 H373.18 Z M374.28,824.5 H375.39 V820.47 H374.28 Z M375.39,824.5 H376.50 V815.59 H375.39 Z M376.50,824.5 H377.61 V806.43 H376.50 Z M377.61,824.5 H378.72 V809.48 H377.61 Z M378.72,824.5 H379.82 V810.70 H378.72 Z M379.82,824.5 H380.93 V810.70 H379.82 Z M380.93,824.5 H382.04 V804.59 H380.93 Z M382.04,824.5 H383.15 V802.15 H382.04 Z M383.15,824.5 H384.26 V800.93 H383.15 Z M384.26,824.5 H385.37 V811.92 H384.26 Z M385.37,824.5 H386.47 V815.59 H385.37 Z M386.47,824.5 H387.58 V807.04 H386.47 Z M387.58,824.5 H388.69 V808.26 H387.58 Z M388.69,824.5 H389.80 V796.05 H388.69 Z M389.80,824.5 H390.91 V796.05 H389.80 Z M390.91,824.5 H392.02 V796.05 H390.91 Z M392.02,824.5 H393.12 V797.27 H392.02 Z M393.12,824.5 H394.23 V809.48 H393.12 Z M394.23,824.5 H395.34 V819.25 H394.23 Z M395.34,824.5 H396.45 V821.69 H395.34 Z M396.45,824.5 H397.56 V822.91 H396.45 Z M397.56,824.5 H398.66 V814.36 H397.56 Z M398.66,824.5 H399.77 V798.49 H398.66 Z M399.77,824.5 H400.88 V791.16 H399.77 Z M400.88,824.5 H401.99 V798.49 H400.88 Z M401.99,824.5 H403.10 V813.14 H401.99 Z M403.10,824.5 H404.21 V813.14 H403.10 Z M404.21,824.5 H405.31 V819.25 H404.21 Z M405.31,824.5 H406.42 V820.47 H405.31 Z M406.42,824.5 H407.53 V808.26 H406.42 Z M407.53,824.5 H408.64 V815.59 H407.53 Z M408.64,824.5 H409.75 V815.59 H408.64 Z M409.75,824.5 H410.86 V804.59 H409.75 Z M410.86,824.5 H411.96 V794.21 H410.86 Z M411.96,824.5 H413.07 V804.59 H411.96 Z M413.07,824.5 H414.18 V814.36 H413.07 Z M414.18,824.5 H415.29 V814.36 H414.18 Z M415.29,824.5 H416.40 V824.13 H415.29 Z M416.40,824.5 H417.50 V814.36 H416.40 Z M417.50,824.5 H418.61 V809.48 H417.50 Z M418.61,824.5 H419.72 V797.27 H418.61 Z M419.72,824.5 H420.83 V793.60 H419.72 Z M420.83,824.5 H421.94 V798.49 H420.83 Z M421.94,824.5 H423.05 V804.59 H421.94 Z M423.05,824.5 H423.60 V800.32 H423.05 Z" fill="#1c1a1a"/>
<path d="M74.50,824.5 v-2.5 M74.50,762.5 v2.5 M129.92,824.5 v-2.5 M129.92,762.5 v2.5 M185.33,824.5 v-2.5 M185.33,762.5 v2.5 M240.74,824.5 v-2.5 M240.74,762.5 v2.5 M296.15,824.5 v-2.5 M296.15,762.5 v2.5 M351.56,824.5 v-2.5 M351.56,762.5 v2.5 M406.98,824.5 v-2.5 M406.98,762.5 v2.5 M20.2,824.50 h2.5 M423.6,824.50 h-2.5 M20.2,800.52 h2.5 M423.6,800.52 h-2.5 M20.2,776.53 h2.5 M423.6,776.53 h-2.5" stroke="#444" stroke-width="0.9" fill="none"/>
<rect x="20.2" y="762.5" width="403.40" height="62.00" fill="none" stroke="#3a3a3a" stroke-width="0.9"/>
<text x="18.9" y="826.80" text-anchor="end" font-family="'Liberation Sans', Arial, sans-serif" font-weight="bold" font-size="6.5" fill="#222">0</text>
<text x="18.9" y="802.82" text-anchor="end" font-family="'Liberation Sans', Arial, sans-serif" font-weight="bold" font-size="6.5" fill="#222">20</text>
<text x="18.9" y="778.83" text-anchor="end" font-family="'Liberation Sans', Arial, sans-serif" font-weight="bold" font-size="6.5" fill="#222">40</text>
<text x="74.50" y="832.30" text-anchor="middle" font-family="'Liberation Sans', Arial, sans-serif" font-weight="bold" font-size="6.5" fill="#222">50</text>
<text x="129.92" y="832.30" text-anchor="middle" font-family="'Liberation Sans', Arial, sans-serif" font-weight="bold" font-size="6.5" fill="#222">100</text>
<text x="185.33" y="832.30" text-anchor="middle" font-family="'Liberation Sans', Arial, sans-serif" font-weight="bold" font-size="6.5" fill="#222">150</text>
<text x="240.74" y="832.30" text-anchor="middle" font-family="'Liberation Sans', Arial, sans-serif" font-weight="bold" font-size="6.5" fill="#222">200</text>
<text x="296.15" y="832.30" text-anchor="middle" font-family="'Liberation Sans', Arial, sans-serif" font-weight="bold" font-size="6.5" fill="#222">250</text>
<text x="351.56" y="832.30" text-anchor="middle" font-family="'Liberation Sans', Arial, sans-serif" font-weight="bold" font-size="6.5" fill="#222">300</text>
<text x="406.98" y="832.30" text-anchor="middle" font-family="'Liberation Sans', Arial, sans-serif" font-weight="bold" font-size="6.5" fill="#222">350</text>
<text x="146.1" y="756.9" font-family="'Liberation Sans', Arial, sans-serif" font-weight="bold" font-size="8.2" fill="#2a2a2a" textLength="150.4" lengthAdjust="spacingAndGlyphs">Daily sum of Kp-indices over the year 2005</text>
<text transform="translate(9.2,810.50) rotate(-90)" font-family="'Liberation Sans', Arial, sans-serif" font-weight="normal" font-size="6" fill="#222" textLength="34" lengthAdjust="spacingAndGlyphs">ΣKp-indices</text>
<text x="191.8" y="839.9" font-family="'Liberation Sans', Arial, sans-serif" font-weight="bold" font-size="6.8" fill="#222" textLength="59" lengthAdjust="spacingAndGlyphs">Days since 01.01.2005</text>
<defs><mask id="wmmask" maskUnits="userSpaceOnUse" x="0" y="0" width="915" height="842"><rect width="915" height="842" fill="#fff"/><text x="253.14" y="277.5" font-family="'DejaVu Sans', sans-serif" font-weight="200" font-size="63" fill="#000" filter="url(#dil14)" textLength="71.62" lengthAdjust="spacingAndGlyphs">T</text><text x="323.15" y="277.5" font-family="'DejaVu Sans', sans-serif" font-weight="200" font-size="63" fill="#000" filter="url(#dil14)" textLength="108.72" lengthAdjust="spacingAndGlyphs">E</text><text x="413.58" y="277.5" font-family="'DejaVu Sans', sans-serif" font-weight="200" font-size="63" fill="#000" filter="url(#dil14)" textLength="108.88" lengthAdjust="spacingAndGlyphs">P</text><text x="512.00" y="277.5" font-family="'DejaVu Sans', sans-serif" font-weight="200" font-size="63" fill="#000" filter="url(#dil14)" textLength="103.98" lengthAdjust="spacingAndGlyphs">R</text><text x="601.54" y="277.5" font-family="'DejaVu Sans', sans-serif" font-weight="200" font-size="63" fill="#000" filter="url(#dil14)" textLength="111.78" lengthAdjust="spacingAndGlyphs">E</text><text x="699.66" y="277.5" font-family="'DejaVu Sans', sans-serif" font-weight="200" font-size="63" fill="#000" filter="url(#dil14)" textLength="108.97" lengthAdjust="spacingAndGlyphs">S</text><text x="795.86" y="277.5" font-family="'DejaVu Sans', sans-serif" font-weight="200" font-size="63" fill="#000" filter="url(#dil14)" textLength="107.59" lengthAdjust="spacingAndGlyphs">S</text><text x="25.29" y="338.75" font-family="'DejaVu Sans', sans-serif" font-weight="200" font-size="21.6" fill="#000" filter="url(#dil8)" textLength="180.79" lengthAdjust="spacingAndGlyphs">SCIENCE</text><text x="219.02" y="338.75" font-family="'DejaVu Sans', sans-serif" font-weight="200" font-size="21.6" fill="#000" filter="url(#dil8)" textLength="82.12" lengthAdjust="spacingAndGlyphs">AND</text><text x="314.81" y="338.75" font-family="'DejaVu Sans', sans-serif" font-weight="200" font-size="21.6" fill="#000" filter="url(#dil8)" textLength="273.59" lengthAdjust="spacingAndGlyphs">TECHNOLOGY</text><text x="601.71" y="338.75" font-family="'DejaVu Sans', sans-serif" font-weight="200" font-size="21.6" fill="#000" filter="url(#dil8)" textLength="298.51" lengthAdjust="spacingAndGlyphs">PUBLICATIONS</text></mask></defs>
<g style="mix-blend-mode:multiply" fill="#d5d5d5" filter="url(#wmblur)">
<g mask="url(#wmmask)">
<path d="M417,88 L242,292" stroke="#d5d5d5" stroke-width="8" fill="none"/>
<path d="M416,90.5 C417.1,91.2 416.7,92.2 422.8,94.5 C428.9,96.8 442.9,100.8 452.6,104.2 C462.3,107.7 473.2,111.9 481.0,115.2 C488.8,118.5 494.1,120.6 499.5,124.0 C504.9,127.4 509.5,131.6 513.7,135.5 C518.0,139.4 522.5,144.3 525.0,147.5 C527.5,150.7 528.3,153.3 529.0,154.5" stroke="#d5d5d5" stroke-width="6.4" fill="none"/>
<path d="M527.5,154.5 C531.4,154.3 543.4,153.3 551.1,153.5 C558.9,153.7 567.1,154.4 574.0,155.6 C580.9,156.8 586.1,158.6 592.7,160.8 C599.3,163.0 606.5,166.2 613.4,169.0 C620.3,171.8 627.3,174.8 634.2,177.4 C641.1,180.0 648.1,182.4 655.0,184.7 C661.9,187.0 668.9,189.1 675.7,191.0 C682.5,192.9 692.6,195.2 696.0,196.0" stroke="#d5d5d5" stroke-width="5" fill="none"/>
<path d="M525.5,152.5 L532,156 L411.5,347.2 L402.3,347.2 Z"/>
<path d="M693,193.5 L698,196.5 L688,217 L653.5,290 L646,314 L634.6,348 L617.8,348 L634,314 L641,290 L679.5,217 Z"/>
<path d="M236,290 L246.5,290 Q252,306 273,315.5 Q236,313 236,290 Z"/>
</g>
<path d="M315.7,347.2 L338,347.2 C340.4,348.6 348.3,352.5 352.5,355.7 C356.7,358.9 359.9,362.7 363.0,366.2 C366.1,369.7 368.6,373.0 370.8,376.7 C373.0,380.4 375.1,386.5 376.0,388.5 L402.3,347.2 L411.5,347.2 L385.2,390.5 C388.5,390.4 399.2,389.7 405.0,389.6 C410.8,389.5 416.0,389.6 420.0,389.8 C424.0,390.0 424.2,389.4 429.0,390.7 C433.8,391.9 442.1,394.4 448.7,397.3 C455.3,400.2 461.5,403.9 468.4,407.8 C475.3,411.7 483.9,417.5 490.0,420.9 C496.1,424.3 497.0,424.5 505.0,428.2 C513.0,431.9 527.6,439.4 538.0,443.0 C548.4,446.6 562.6,448.7 567.5,449.8 L617.8,348 L634.6,348 L583,477.4 C578.0,476.8 560.5,475.6 553.0,474.0 C545.5,472.4 546.0,471.7 538.0,467.5 C530.0,463.3 513.0,453.6 505.0,448.9 C497.0,444.2 496.1,443.3 490.0,439.3 C483.9,435.3 475.3,429.2 468.4,424.8 C461.5,420.4 455.3,416.2 448.7,413.0 C442.1,409.8 435.6,407.6 429.0,405.8 C422.4,404.1 415.5,402.8 409.3,402.5 C403.1,402.2 396.9,404.0 391.8,404.3 C386.7,404.6 383.1,405.8 378.7,404.3 C374.3,402.8 367.8,396.6 365.6,395.1 C365.4,393.8 365.4,390.1 364.3,387.2 C363.2,384.3 361.6,381.5 359.0,378.0 C356.4,374.5 352.9,369.9 348.5,366.2 C344.1,362.5 338.3,358.9 332.8,355.7 C327.3,352.5 318.6,348.6 315.7,347.2 Z"/>
<g filter="url(#dil6)">
<text x="253.14" y="277.5" font-family="'DejaVu Sans', sans-serif" font-weight="200" font-size="63" textLength="71.62" lengthAdjust="spacingAndGlyphs">T</text>
<text x="323.15" y="277.5" font-family="'DejaVu Sans', sans-serif" font-weight="200" font-size="63" textLength="108.72" lengthAdjust="spacingAndGlyphs">E</text>
<text x="413.58" y="277.5" font-family="'DejaVu Sans', sans-serif" font-weight="200" font-size="63" textLength="108.88" lengthAdjust="spacingAndGlyphs">P</text>
<text x="512.00" y="277.5" font-family="'DejaVu Sans', sans-serif" font-weight="200" font-size="63" textLength="103.98" lengthAdjust="spacingAndGlyphs">R</text>
<text x="601.54" y="277.5" font-family="'DejaVu Sans', sans-serif" font-weight="200" font-size="63" textLength="111.78" lengthAdjust="spacingAndGlyphs">E</text>
<text x="699.66" y="277.5" font-family="'DejaVu Sans', sans-serif" font-weight="200" font-size="63" textLength="108.97" lengthAdjust="spacingAndGlyphs">S</text>
<text x="795.86" y="277.5" font-family="'DejaVu Sans', sans-serif" font-weight="200" font-size="63" textLength="107.59" lengthAdjust="spacingAndGlyphs">S</text>
</g>
<text x="26.08" y="338.8" font-family="'DejaVu Sans', sans-serif" font-weight="200" font-size="21.6" stroke="#d5d5d5" stroke-width="2.1" stroke-linejoin="round" textLength="179.21" lengthAdjust="spacingAndGlyphs">SCIENCE</text>
<text x="219.59" y="338.8" font-family="'DejaVu Sans', sans-serif" font-weight="200" font-size="21.6" stroke="#d5d5d5" stroke-width="2.1" stroke-linejoin="round" textLength="80.99" lengthAdjust="spacingAndGlyphs">AND</text>
<text x="315.49" y="338.8" font-family="'DejaVu Sans', sans-serif" font-weight="200" font-size="21.6" stroke="#d5d5d5" stroke-width="2.1" stroke-linejoin="round" textLength="272.23" lengthAdjust="spacingAndGlyphs">TECHNOLOGY</text>
<text x="602.49" y="338.8" font-family="'DejaVu Sans', sans-serif" font-weight="200" font-size="21.6" stroke="#d5d5d5" stroke-width="2.1" stroke-linejoin="round" textLength="296.96" lengthAdjust="spacingAndGlyphs">PUBLICATIONS</text>
</g>
</svg>
</body></html>
